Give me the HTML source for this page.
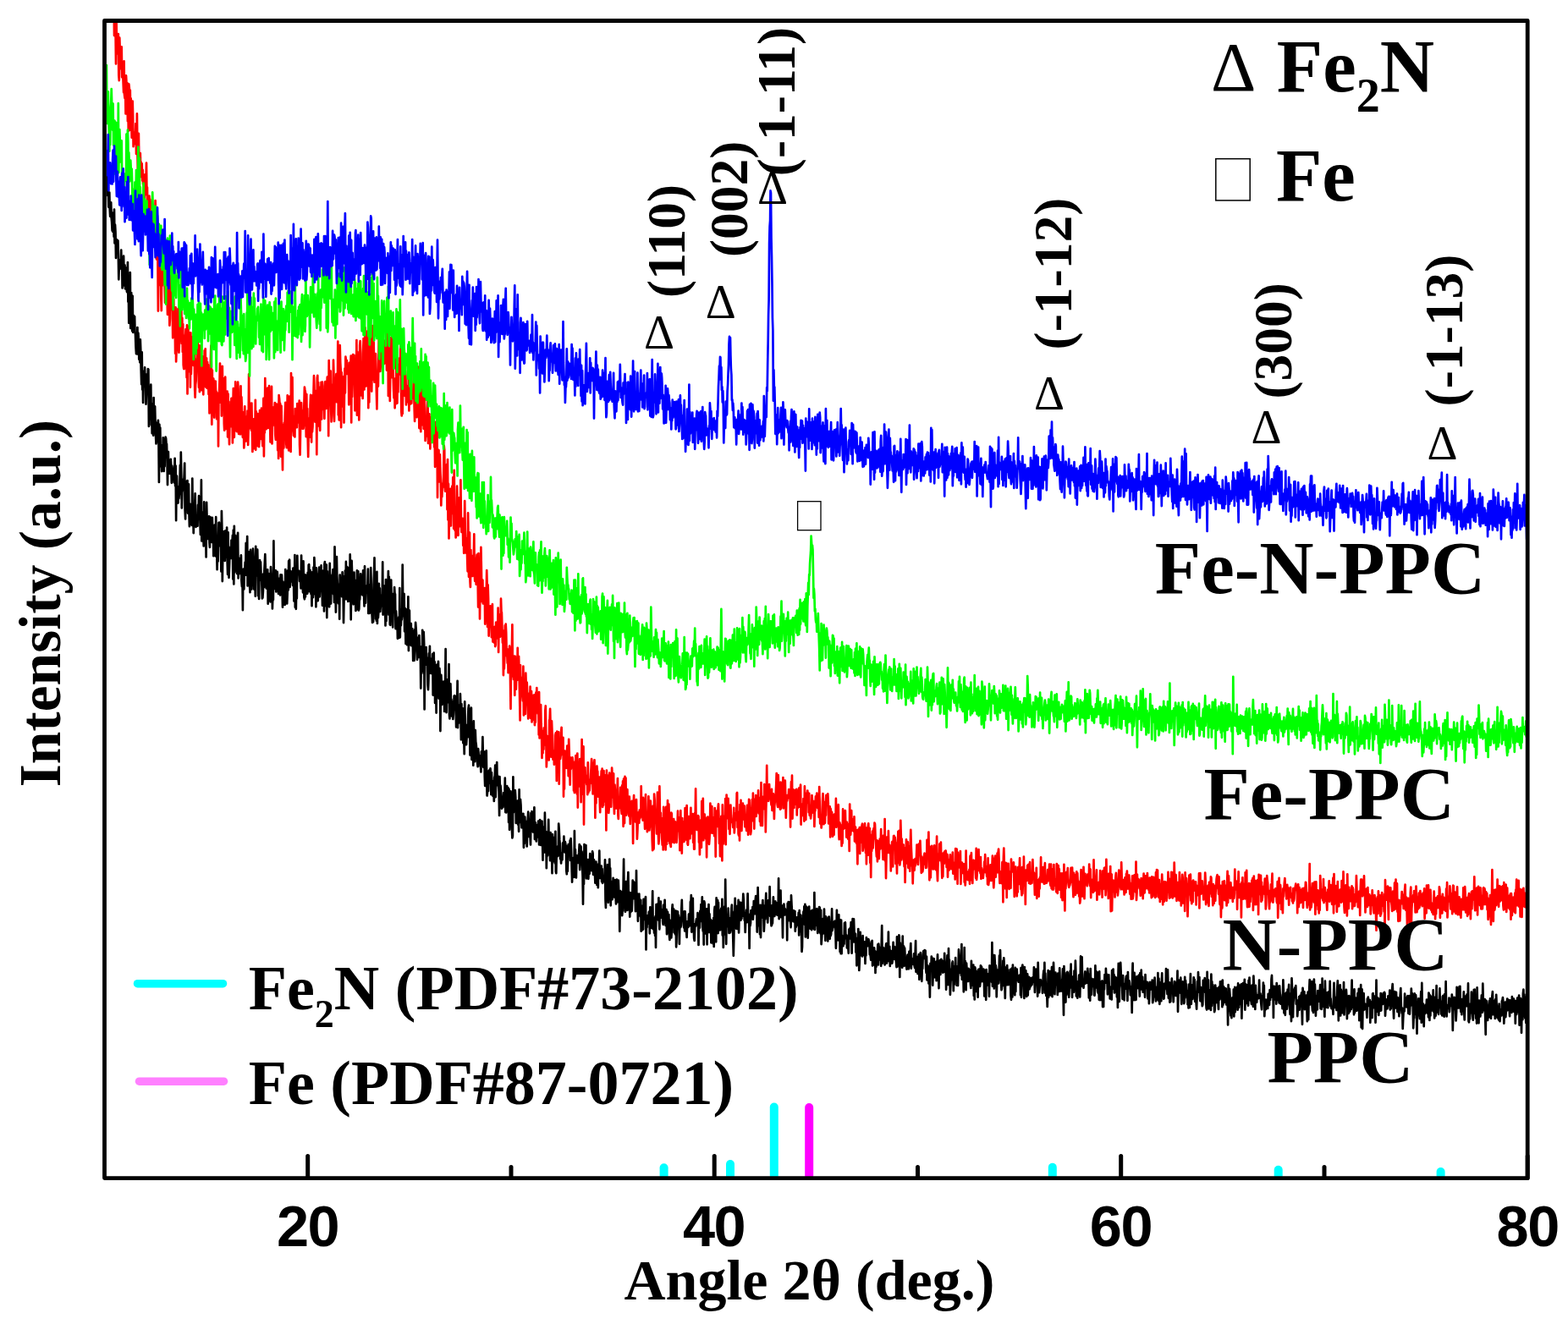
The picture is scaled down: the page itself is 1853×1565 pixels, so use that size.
<!DOCTYPE html>
<html><head><meta charset="utf-8"><title>XRD</title>
<style>
html,body{margin:0;padding:0;background:#fff;overflow:hidden;}
svg{display:block;}
.t{font-family:"Liberation Serif","Times New Roman",serif;font-weight:bold;fill:#000;}
.r{font-family:"Liberation Serif","Times New Roman",serif;font-weight:normal;fill:#000;}
.s{font-family:"Liberation Sans",Arial,sans-serif;font-weight:bold;fill:#000;}
</style></head><body>
<svg width="1853" height="1565" viewBox="0 0 1853 1565">
<rect x="0" y="0" width="1853" height="1565" fill="#fff"/>
<defs><clipPath id="c"><rect x="126" y="27" width="1677" height="1363"/></clipPath></defs>
<g clip-path="url(#c)" fill="none" stroke-width="2.7" stroke-linejoin="round" stroke-linecap="round">
<path stroke="#000000" d="M123.5 217.7L124.0 201.4 124.5 208.6 124.9 224.5 125.4 223.5 125.9 223.5 126.4 212.7 126.9 206.7 127.3 231.1 127.8 221.2 128.3 244.7 128.8 238.8 129.3 227.6 129.7 246.1 130.2 255.8 130.7 250.9 131.2 239.3 131.7 258.0 132.1 262.4 132.6 272.3 133.1 273.5 133.6 251.6 134.1 260.5 134.6 279.8 135.0 247.5 135.5 287.5 136.0 265.5 136.5 274.3 137.0 304.9 137.4 284.4 137.9 283.0 138.4 294.1 138.9 290.5 139.4 284.4 139.8 299.7 140.3 330.3 140.8 313.7 141.3 308.2 141.8 307.2 142.2 317.3 142.7 316.4 143.2 295.6 143.7 318.3 144.2 313.2 144.6 340.5 145.1 313.0 145.6 337.4 146.1 302.7 146.6 327.3 147.0 313.8 147.5 313.5 148.0 341.3 148.5 316.4 149.0 331.7 149.4 325.4 149.9 344.7 150.4 345.3 150.9 310.1 151.4 356.7 151.8 339.0 152.3 381.8 152.8 367.0 153.3 370.7 153.8 322.1 154.3 388.0 154.7 364.5 155.2 346.0 155.7 373.7 156.2 391.2 156.7 349.8 157.1 392.8 157.6 374.2 158.1 373.1 158.6 377.7 159.1 374.1 159.5 392.2 160.0 395.5 160.5 410.1 161.0 418.2 161.5 394.6 161.9 418.5 162.4 387.1 162.9 417.2 163.4 393.5 163.9 404.3 164.3 424.7 164.8 407.0 165.3 428.3 165.8 401.4 166.3 415.3 166.7 436.9 167.2 454.2 167.7 416.3 168.2 460.5 168.7 443.0 169.1 475.9 169.6 439.3 170.1 438.6 170.6 453.5 171.1 434.4 171.5 455.0 172.0 454.3 172.5 477.6 173.0 464.7 173.5 442.4 174.0 443.6 174.4 451.0 174.9 436.1 175.4 436.7 175.9 503.9 176.4 460.7 176.8 495.1 177.3 465.9 177.8 472.9 178.3 454.7 178.8 502.3 179.2 478.5 179.7 512.2 180.2 477.3 180.7 509.8 181.2 514.7 181.6 470.1 182.1 502.2 182.6 480.8 183.1 480.5 183.6 502.0 184.0 514.4 184.5 524.5 185.0 499.8 185.5 522.2 186.0 517.1 186.4 509.8 186.9 496.8 187.4 513.9 187.9 570.0 188.4 501.8 188.8 515.4 189.3 505.6 189.8 542.9 190.3 551.2 190.8 545.5 191.2 557.1 191.7 526.2 192.2 555.4 192.7 517.4 193.2 556.5 193.7 556.9 194.1 524.9 194.6 551.2 195.1 520.5 195.6 516.7 196.1 518.2 196.5 524.0 197.0 524.7 197.5 542.3 198.0 573.1 198.5 542.4 198.9 534.0 199.4 559.6 199.9 545.8 200.4 552.3 200.9 558.2 201.3 559.9 201.8 542.9 202.3 550.9 202.8 570.8 203.3 550.7 203.7 553.8 204.2 563.5 204.7 566.3 205.2 555.3 205.7 570.3 206.1 562.0 206.6 541.8 207.1 574.3 207.6 550.6 208.1 615.2 208.5 571.1 209.0 562.7 209.5 582.0 210.0 592.8 210.5 594.5 210.9 575.7 211.4 589.1 211.9 584.1 212.4 575.0 212.9 549.9 213.4 575.8 213.8 534.5 214.3 562.8 214.8 600.4 215.3 582.0 215.8 579.3 216.2 566.7 216.7 567.9 217.2 571.6 217.7 561.0 218.2 547.5 218.6 602.4 219.1 613.5 219.6 576.9 220.1 600.8 220.6 568.9 221.0 595.7 221.5 568.1 222.0 606.6 222.5 593.4 223.0 572.4 223.4 603.2 223.9 622.1 224.4 595.9 224.9 595.9 225.4 597.5 225.8 600.2 226.3 619.5 226.8 620.9 227.3 565.6 227.8 621.1 228.2 598.5 228.7 630.1 229.2 611.0 229.7 620.0 230.2 596.3 230.6 583.4 231.1 610.2 231.6 622.9 232.1 619.9 232.6 621.4 233.1 612.8 233.5 621.7 234.0 596.8 234.5 608.8 235.0 586.0 235.5 611.6 235.9 608.0 236.4 614.8 236.9 631.9 237.4 616.3 237.9 567.4 238.3 639.4 238.8 619.7 239.3 630.8 239.8 605.3 240.3 633.0 240.7 645.4 241.2 593.4 241.7 641.6 242.2 606.0 242.7 609.4 243.1 623.0 243.6 658.5 244.1 593.9 244.6 614.1 245.1 626.1 245.5 637.0 246.0 624.7 246.5 634.4 247.0 610.4 247.5 641.4 247.9 646.8 248.4 611.0 248.9 616.9 249.4 637.5 249.9 637.0 250.3 640.9 250.8 611.9 251.3 626.4 251.8 625.4 252.3 657.2 252.8 633.2 253.2 626.8 253.7 620.5 254.2 636.5 254.7 657.3 255.2 611.2 255.6 640.1 256.1 647.4 256.6 673.2 257.1 651.4 257.6 663.4 258.0 641.6 258.5 617.7 259.0 617.6 259.5 630.2 260.0 645.3 260.4 638.6 260.9 636.0 261.4 675.5 261.9 604.0 262.4 627.6 262.8 687.1 263.3 651.9 263.8 635.6 264.3 628.3 264.8 661.9 265.2 660.6 265.7 663.0 266.2 627.3 266.7 652.4 267.2 646.7 267.6 658.7 268.1 623.6 268.6 662.2 269.1 678.9 269.6 629.3 270.0 668.5 270.5 682.8 271.0 669.7 271.5 654.0 272.0 657.5 272.5 646.6 272.9 660.0 273.4 638.6 273.9 658.1 274.4 642.9 274.9 632.8 275.3 684.5 275.8 626.6 276.3 690.4 276.8 621.8 277.3 676.5 277.7 663.8 278.2 632.8 278.7 652.5 279.2 644.0 279.7 645.6 280.1 678.1 280.6 642.5 281.1 629.8 281.6 683.4 282.1 671.2 282.5 664.8 283.0 660.2 283.5 677.8 284.0 672.5 284.5 664.4 284.9 656.4 285.4 686.2 285.9 693.2 286.4 676.3 286.9 721.2 287.3 672.9 287.8 672.6 288.3 696.5 288.8 675.3 289.3 675.1 289.7 664.6 290.2 679.7 290.7 641.9 291.2 659.1 291.7 653.2 292.2 634.0 292.6 692.4 293.1 667.5 293.6 658.1 294.1 680.8 294.6 652.3 295.0 690.7 295.5 700.1 296.0 649.9 296.5 696.8 297.0 679.6 297.4 696.4 297.9 680.1 298.4 661.8 298.9 648.7 299.4 657.5 299.8 668.7 300.3 696.6 300.8 689.4 301.3 683.7 301.8 704.7 302.2 645.9 302.7 658.0 303.2 658.7 303.7 680.5 304.2 649.7 304.6 669.2 305.1 704.3 305.6 697.9 306.1 707.9 306.6 670.3 307.0 662.1 307.5 685.6 308.0 664.4 308.5 679.5 309.0 678.8 309.4 691.0 309.9 707.4 310.4 706.6 310.9 698.7 311.4 678.4 311.9 694.1 312.3 675.5 312.8 666.1 313.3 655.2 313.8 672.5 314.3 692.0 314.7 695.4 315.2 684.0 315.7 693.9 316.2 673.3 316.7 713.7 317.1 686.5 317.6 678.2 318.1 696.1 318.6 681.4 319.1 690.4 319.5 711.3 320.0 670.0 320.5 679.7 321.0 681.7 321.5 685.9 321.9 719.5 322.4 701.8 322.9 709.2 323.4 639.4 323.9 694.9 324.3 691.1 324.8 696.0 325.3 686.7 325.8 674.4 326.3 699.4 326.7 683.0 327.2 686.6 327.7 675.9 328.2 683.1 328.7 696.5 329.1 701.8 329.6 686.4 330.1 688.7 330.6 683.5 331.1 703.5 331.6 679.4 332.0 682.1 332.5 689.4 333.0 679.7 333.5 692.9 334.0 717.7 334.4 687.6 334.9 714.7 335.4 705.0 335.9 691.5 336.4 700.9 336.8 714.8 337.3 673.0 337.8 701.5 338.3 711.4 338.8 675.3 339.2 713.5 339.7 701.1 340.2 674.3 340.7 697.5 341.2 663.2 341.6 666.8 342.1 661.6 342.6 693.9 343.1 682.2 343.6 675.2 344.0 679.4 344.5 687.5 345.0 682.9 345.5 679.9 346.0 692.0 346.4 671.6 346.9 679.2 347.4 710.5 347.9 695.6 348.4 656.1 348.8 717.8 349.3 673.6 349.8 719.8 350.3 691.3 350.8 707.3 351.3 656.8 351.7 675.1 352.2 677.5 352.7 678.9 353.2 674.8 353.7 677.6 354.1 687.0 354.6 677.9 355.1 686.4 355.6 695.3 356.1 656.5 356.5 684.7 357.0 671.2 357.5 687.3 358.0 700.3 358.5 663.3 358.9 681.9 359.4 706.0 359.9 708.3 360.4 679.3 360.9 705.5 361.3 694.5 361.8 690.1 362.3 679.8 362.8 694.1 363.3 701.6 363.7 676.8 364.2 697.7 364.7 667.8 365.2 667.3 365.7 699.2 366.1 685.0 366.6 674.1 367.1 695.5 367.6 702.1 368.1 690.0 368.5 716.2 369.0 676.4 369.5 677.0 370.0 706.1 370.5 670.5 371.0 702.2 371.4 659.2 371.9 670.7 372.4 685.8 372.9 681.5 373.4 717.3 373.8 671.3 374.3 688.4 374.8 691.9 375.3 687.1 375.8 710.1 376.2 678.5 376.7 679.4 377.2 670.7 377.7 705.3 378.2 693.9 378.6 694.2 379.1 693.0 379.6 668.4 380.1 698.3 380.6 695.0 381.0 715.7 381.5 697.0 382.0 674.6 382.5 683.5 383.0 722.5 383.4 666.9 383.9 664.0 384.4 693.7 384.9 716.1 385.4 690.7 385.8 667.6 386.3 730.1 386.8 675.3 387.3 704.8 387.8 716.4 388.2 691.4 388.7 700.9 389.2 717.3 389.7 665.9 390.2 704.5 390.7 712.0 391.1 713.5 391.6 682.3 392.1 698.6 392.6 679.5 393.1 679.2 393.5 673.0 394.0 702.2 394.5 694.3 395.0 711.9 395.5 646.3 395.9 674.2 396.4 697.1 396.9 723.6 397.4 677.8 397.9 658.2 398.3 680.6 398.8 690.2 399.3 707.1 399.8 713.2 400.3 705.6 400.7 690.5 401.2 731.7 401.7 679.6 402.2 692.7 402.7 703.9 403.1 683.3 403.6 688.7 404.1 705.2 404.6 676.4 405.1 689.9 405.5 690.6 406.0 736.1 406.5 709.2 407.0 681.2 407.5 708.2 407.9 674.6 408.4 702.3 408.9 663.9 409.4 708.2 409.9 691.8 410.3 670.2 410.8 702.8 411.3 710.8 411.8 702.4 412.3 698.6 412.8 671.1 413.2 710.5 413.7 655.4 414.2 685.1 414.7 732.3 415.2 670.1 415.6 662.9 416.1 678.7 416.6 702.8 417.1 694.3 417.6 714.3 418.0 696.9 418.5 676.7 419.0 713.1 419.5 685.8 420.0 708.5 420.4 721.9 420.9 705.7 421.4 720.4 421.9 674.4 422.4 689.0 422.8 700.3 423.3 675.4 423.8 721.5 424.3 719.9 424.8 706.1 425.2 708.6 425.7 695.3 426.2 678.3 426.7 686.6 427.2 693.4 427.6 702.4 428.1 695.8 428.6 703.5 429.1 674.4 429.6 684.9 430.0 701.9 430.5 716.5 431.0 669.3 431.5 705.2 432.0 712.6 432.5 698.2 432.9 701.0 433.4 692.4 433.9 699.1 434.4 693.2 434.9 672.7 435.3 724.9 435.8 706.2 436.3 691.1 436.8 724.8 437.3 695.9 437.7 712.7 438.2 671.0 438.7 690.6 439.2 721.2 439.7 728.4 440.1 736.0 440.6 728.1 441.1 735.1 441.6 690.2 442.1 677.4 442.5 659.4 443.0 705.2 443.5 699.1 444.0 731.6 444.5 699.8 444.9 733.8 445.4 675.8 445.9 736.9 446.4 703.6 446.9 730.2 447.3 723.5 447.8 689.9 448.3 722.6 448.8 695.3 449.3 723.0 449.7 717.7 450.2 715.0 450.7 704.6 451.2 703.4 451.7 709.3 452.2 664.4 452.6 726.6 453.1 707.6 453.6 713.3 454.1 692.6 454.6 715.5 455.0 701.7 455.5 739.5 456.0 685.0 456.5 733.9 457.0 696.8 457.4 718.4 457.9 707.4 458.4 694.7 458.9 675.0 459.4 726.6 459.8 681.9 460.3 705.2 460.8 738.0 461.3 738.9 461.8 720.1 462.2 685.5 462.7 713.2 463.2 717.3 463.7 701.8 464.2 741.5 464.6 721.8 465.1 723.8 465.6 716.6 466.1 694.2 466.6 702.7 467.0 702.4 467.5 743.1 468.0 722.3 468.5 730.5 469.0 730.5 469.4 731.0 469.9 754.8 470.4 740.5 470.9 731.3 471.4 729.3 471.9 753.9 472.3 695.2 472.8 753.3 473.3 720.1 473.8 739.3 474.3 726.3 474.7 732.6 475.2 728.3 475.7 667.5 476.2 713.5 476.7 719.9 477.1 711.3 477.6 702.1 478.1 746.3 478.6 718.9 479.1 740.3 479.5 760.9 480.0 720.3 480.5 737.5 481.0 762.2 481.5 736.7 481.9 736.3 482.4 705.3 482.9 769.1 483.4 740.9 483.9 721.7 484.3 762.2 484.8 739.9 485.3 747.0 485.8 737.2 486.3 763.2 486.7 762.8 487.2 743.0 487.7 752.5 488.2 781.0 488.7 756.5 489.1 746.3 489.6 780.7 490.1 744.4 490.6 758.3 491.1 735.9 491.6 742.7 492.0 749.3 492.5 770.2 493.0 779.7 493.5 753.8 494.0 776.2 494.4 761.8 494.9 777.0 495.4 751.0 495.9 771.0 496.4 764.1 496.8 770.2 497.3 813.6 497.8 774.8 498.3 795.8 498.8 790.7 499.2 744.8 499.7 780.5 500.2 793.3 500.7 747.0 501.2 761.3 501.6 838.5 502.1 779.2 502.6 770.6 503.1 780.0 503.6 765.0 504.0 783.1 504.5 786.0 505.0 777.7 505.5 809.1 506.0 815.2 506.4 804.1 506.9 772.4 507.4 777.8 507.9 763.9 508.4 795.8 508.8 781.1 509.3 780.4 509.8 779.0 510.3 796.2 510.8 795.6 511.3 773.0 511.7 821.6 512.2 798.3 512.7 771.7 513.2 812.0 513.7 782.3 514.1 830.9 514.6 823.2 515.1 809.8 515.6 842.6 516.1 785.8 516.5 808.0 517.0 798.6 517.5 788.1 518.0 781.9 518.5 825.6 518.9 802.1 519.4 790.2 519.9 798.6 520.4 864.1 520.9 810.0 521.3 797.8 521.8 807.1 522.3 833.0 522.8 810.6 523.3 810.0 523.7 812.9 524.2 805.5 524.7 811.0 525.2 840.9 525.7 813.2 526.1 816.4 526.6 767.2 527.1 831.8 527.6 842.1 528.1 808.8 528.5 830.1 529.0 803.1 529.5 828.8 530.0 830.3 530.5 785.1 531.0 844.7 531.4 849.5 531.9 824.3 532.4 808.3 532.9 828.3 533.4 826.6 533.8 846.5 534.3 829.8 534.8 829.2 535.3 850.0 535.8 844.8 536.2 835.7 536.7 822.6 537.2 822.2 537.7 824.4 538.2 823.0 538.6 831.3 539.1 859.5 539.6 833.5 540.1 835.9 540.6 804.9 541.0 860.1 541.5 836.0 542.0 854.5 542.5 852.8 543.0 833.3 543.4 854.2 543.9 820.1 544.4 834.8 544.9 874.3 545.4 832.2 545.8 857.1 546.3 850.7 546.8 837.3 547.3 878.2 547.8 850.8 548.2 867.3 548.7 891.2 549.2 829.4 549.7 855.1 550.2 873.8 550.7 856.9 551.1 880.2 551.6 871.7 552.1 865.6 552.6 871.0 553.1 849.6 553.5 837.3 554.0 833.6 554.5 871.6 555.0 850.1 555.5 892.6 555.9 848.6 556.4 840.2 556.9 836.6 557.4 897.8 557.9 875.2 558.3 885.2 558.8 854.8 559.3 904.7 559.8 852.3 560.3 879.0 560.7 872.9 561.2 900.2 561.7 863.0 562.2 876.8 562.7 879.7 563.1 885.1 563.6 887.6 564.1 901.3 564.6 906.2 565.1 885.1 565.5 889.4 566.0 896.0 566.5 900.9 567.0 893.3 567.5 905.6 567.9 902.5 568.4 912.4 568.9 888.4 569.4 904.0 569.9 891.3 570.4 871.2 570.8 890.9 571.3 906.8 571.8 896.1 572.3 888.6 572.8 918.4 573.2 928.9 573.7 920.2 574.2 921.4 574.7 887.3 575.2 920.5 575.6 940.5 576.1 935.7 576.6 915.4 577.1 935.0 577.6 911.4 578.0 910.6 578.5 925.4 579.0 925.6 579.5 908.4 580.0 916.5 580.4 939.2 580.9 913.0 581.4 925.0 581.9 928.8 582.4 940.8 582.8 923.5 583.3 930.6 583.8 947.0 584.3 919.1 584.8 917.0 585.2 904.7 585.7 942.2 586.2 922.2 586.7 921.7 587.2 901.1 587.6 924.9 588.1 916.8 588.6 928.6 589.1 928.8 589.6 935.9 590.1 963.9 590.5 918.2 591.0 936.2 591.5 928.7 592.0 934.0 592.5 942.6 592.9 955.6 593.4 943.2 593.9 945.7 594.4 954.1 594.9 946.1 595.3 937.1 595.8 944.9 596.3 948.0 596.8 919.7 597.3 960.1 597.7 950.8 598.2 960.5 598.7 953.0 599.2 929.2 599.7 939.5 600.1 950.9 600.6 931.3 601.1 972.1 601.6 932.8 602.1 980.8 602.5 958.7 603.0 964.0 603.5 935.3 604.0 950.8 604.5 950.1 604.9 979.8 605.4 990.5 605.9 988.1 606.4 918.3 606.9 960.2 607.3 939.0 607.8 959.2 608.3 953.7 608.8 934.2 609.3 942.3 609.8 973.0 610.2 960.5 610.7 953.0 611.2 965.5 611.7 946.6 612.2 974.7 612.6 959.1 613.1 982.8 613.6 933.3 614.1 971.9 614.6 959.9 615.0 944.8 615.5 951.6 616.0 969.1 616.5 978.3 617.0 961.9 617.4 966.3 617.9 962.0 618.4 961.8 618.9 1001.8 619.4 982.8 619.8 997.1 620.3 965.6 620.8 979.1 621.3 970.9 621.8 990.4 622.2 978.1 622.7 1000.5 623.2 977.8 623.7 969.1 624.2 959.7 624.6 966.4 625.1 988.9 625.6 968.8 626.1 978.6 626.6 990.4 627.0 998.5 627.5 961.0 628.0 974.5 628.5 959.2 629.0 982.3 629.5 979.1 629.9 983.5 630.4 960.4 630.9 974.0 631.4 954.3 631.9 992.0 632.3 974.2 632.8 972.2 633.3 987.8 633.8 994.5 634.3 975.4 634.7 985.0 635.2 989.4 635.7 980.5 636.2 970.6 636.7 974.9 637.1 998.4 637.6 990.1 638.1 969.1 638.6 979.8 639.1 998.9 639.5 988.7 640.0 976.3 640.5 970.6 641.0 992.5 641.5 1016.7 641.9 987.9 642.4 977.5 642.9 977.4 643.4 1007.5 643.9 960.7 644.3 984.5 644.8 991.5 645.3 983.2 645.8 1026.2 646.3 997.3 646.7 996.7 647.2 1011.3 647.7 994.6 648.2 968.8 648.7 1000.0 649.2 988.9 649.6 987.9 650.1 1017.2 650.6 984.1 651.1 998.7 651.6 998.7 652.0 1003.8 652.5 1032.2 653.0 986.0 653.5 999.5 654.0 1018.1 654.4 1001.9 654.9 990.2 655.4 994.5 655.9 1020.4 656.4 982.8 656.8 1030.1 657.3 1032.1 657.8 1005.7 658.3 1010.6 658.8 1012.3 659.2 1000.3 659.7 1011.3 660.2 973.5 660.7 980.4 661.2 992.4 661.6 995.9 662.1 1015.2 662.6 1010.8 663.1 1020.4 663.6 1008.4 664.0 1009.0 664.5 1016.3 665.0 996.8 665.5 995.9 666.0 1000.6 666.4 988.7 666.9 1002.6 667.4 1007.3 667.9 995.1 668.4 998.2 668.9 1002.6 669.3 1029.4 669.8 1033.2 670.3 1000.3 670.8 1029.8 671.3 1012.5 671.7 998.0 672.2 1010.2 672.7 1003.3 673.2 1002.9 673.7 993.4 674.1 1017.0 674.6 991.2 675.1 1005.2 675.6 1023.7 676.1 1042.6 676.5 1014.0 677.0 1017.6 677.5 1027.7 678.0 1013.9 678.5 1036.8 678.9 982.2 679.4 1022.2 679.9 1004.2 680.4 1019.8 680.9 1037.5 681.3 1018.4 681.8 1011.4 682.3 1019.6 682.8 1011.6 683.3 1020.0 683.7 1012.8 684.2 1007.4 684.7 998.1 685.2 1028.1 685.7 1014.5 686.1 999.9 686.6 1001.1 687.1 1020.9 687.6 1006.7 688.1 1022.9 688.6 1036.9 689.0 1068.7 689.5 1026.2 690.0 1045.0 690.5 998.0 691.0 1012.0 691.4 1024.7 691.9 1028.9 692.4 999.0 692.9 1038.3 693.4 1031.3 693.8 1028.6 694.3 1030.5 694.8 1016.0 695.3 1038.8 695.8 1027.1 696.2 1019.2 696.7 1032.7 697.2 1009.1 697.7 1018.9 698.2 1019.0 698.6 1029.0 699.1 1020.6 699.6 1029.2 700.1 1006.4 700.6 1008.6 701.0 1033.8 701.5 1026.8 702.0 1016.4 702.5 1032.0 703.0 1033.2 703.4 1043.7 703.9 1035.5 704.4 1018.5 704.9 1031.0 705.4 1046.0 705.8 1039.5 706.3 1021.9 706.8 1049.2 707.3 1021.3 707.8 1029.3 708.3 1005.7 708.7 1034.1 709.2 1037.9 709.7 1030.4 710.2 1033.7 710.7 1023.6 711.1 1042.2 711.6 1027.2 712.1 1043.9 712.6 1042.1 713.1 1037.6 713.5 1041.7 714.0 1041.8 714.5 1035.7 715.0 1016.3 715.5 1063.0 715.9 1073.0 716.4 1044.3 716.9 1029.8 717.4 1044.9 717.9 1022.1 718.3 1050.5 718.8 1066.8 719.3 1050.6 719.8 1051.8 720.3 1015.6 720.7 1039.8 721.2 1026.3 721.7 1070.3 722.2 1044.7 722.7 1042.1 723.1 1055.0 723.6 1063.1 724.1 1057.4 724.6 1037.8 725.1 1054.3 725.5 1057.4 726.0 1045.5 726.5 1060.8 727.0 1040.0 727.5 1059.6 728.0 1068.4 728.4 1058.6 728.9 1039.6 729.4 1060.0 729.9 1066.1 730.4 1064.5 730.8 1040.7 731.3 1054.2 731.8 1056.3 732.3 1100.8 732.8 1066.4 733.2 1053.2 733.7 1074.2 734.2 1054.1 734.7 1057.7 735.2 1082.1 735.6 1077.5 736.1 1063.7 736.6 1048.3 737.1 1015.6 737.6 1061.7 738.0 1046.2 738.5 1076.3 739.0 1077.7 739.5 1042.3 740.0 1042.1 740.4 1055.3 740.9 1063.4 741.4 1075.9 741.9 1042.9 742.4 1031.0 742.8 1057.6 743.3 1054.7 743.8 1060.5 744.3 1083.6 744.8 1055.1 745.2 1078.1 745.7 1060.1 746.2 1070.8 746.7 1076.8 747.2 1062.7 747.7 1040.7 748.1 1049.8 748.6 1062.2 749.1 1042.6 749.6 1045.2 750.1 1057.7 750.5 1050.8 751.0 1077.1 751.5 1077.0 752.0 1029.0 752.5 1075.8 752.9 1056.4 753.4 1064.7 753.9 1088.8 754.4 1070.6 754.9 1064.9 755.3 1056.6 755.8 1071.8 756.3 1078.7 756.8 1083.0 757.3 1063.9 757.7 1100.7 758.2 1070.7 758.7 1099.5 759.2 1074.6 759.7 1098.8 760.1 1098.4 760.6 1062.8 761.1 1072.9 761.6 1073.1 762.1 1087.0 762.5 1063.6 763.0 1060.0 763.5 1122.5 764.0 1089.2 764.5 1096.2 764.9 1082.4 765.4 1085.1 765.9 1091.7 766.4 1085.4 766.9 1078.1 767.4 1077.4 767.8 1103.3 768.3 1072.3 768.8 1093.0 769.3 1084.8 769.8 1080.5 770.2 1096.8 770.7 1078.1 771.2 1053.3 771.7 1098.1 772.2 1088.1 772.6 1091.4 773.1 1102.7 773.6 1084.9 774.1 1105.9 774.6 1083.0 775.0 1120.0 775.5 1069.2 776.0 1086.9 776.5 1083.0 777.0 1068.6 777.4 1072.6 777.9 1087.4 778.4 1061.4 778.9 1086.9 779.4 1098.4 779.8 1070.6 780.3 1075.4 780.8 1065.6 781.3 1080.2 781.8 1084.6 782.2 1075.1 782.7 1076.5 783.2 1089.7 783.7 1092.9 784.2 1069.7 784.6 1079.8 785.1 1077.1 785.6 1063.8 786.1 1086.9 786.6 1094.0 787.1 1091.4 787.5 1075.0 788.0 1104.2 788.5 1100.4 789.0 1077.9 789.5 1083.4 789.9 1101.3 790.4 1081.2 790.9 1105.3 791.4 1111.0 791.9 1087.8 792.3 1089.7 792.8 1089.5 793.3 1108.4 793.8 1101.8 794.3 1074.3 794.7 1069.4 795.2 1080.1 795.7 1084.4 796.2 1074.6 796.7 1102.2 797.1 1090.7 797.6 1102.8 798.1 1104.2 798.6 1076.5 799.1 1119.3 799.5 1113.3 800.0 1086.8 800.5 1077.3 801.0 1077.8 801.5 1097.4 801.9 1081.9 802.4 1094.1 802.9 1115.8 803.4 1088.6 803.9 1084.7 804.3 1096.0 804.8 1094.3 805.3 1074.9 805.8 1063.9 806.3 1086.8 806.8 1083.5 807.2 1082.3 807.7 1090.1 808.2 1096.4 808.7 1077.3 809.2 1100.4 809.6 1077.4 810.1 1087.3 810.6 1092.8 811.1 1100.6 811.6 1107.9 812.0 1096.2 812.5 1089.2 813.0 1096.0 813.5 1095.7 814.0 1080.6 814.4 1090.1 814.9 1085.5 815.4 1094.2 815.9 1065.9 816.4 1069.5 816.8 1058.2 817.3 1101.6 817.8 1084.1 818.3 1089.8 818.8 1061.9 819.2 1097.9 819.7 1093.5 820.2 1109.3 820.7 1111.9 821.2 1096.0 821.6 1092.0 822.1 1094.9 822.6 1088.8 823.1 1086.1 823.6 1090.1 824.0 1093.2 824.5 1079.1 825.0 1085.5 825.5 1116.9 826.0 1082.7 826.5 1084.3 826.9 1096.6 827.4 1076.9 827.9 1084.5 828.4 1069.1 828.9 1088.9 829.3 1076.5 829.8 1060.3 830.3 1095.5 830.8 1100.6 831.3 1086.7 831.7 1116.6 832.2 1065.4 832.7 1067.6 833.2 1091.1 833.7 1103.5 834.1 1087.9 834.6 1083.7 835.1 1074.4 835.6 1116.3 836.1 1081.6 836.5 1099.1 837.0 1093.2 837.5 1069.2 838.0 1101.9 838.5 1080.4 838.9 1095.6 839.4 1097.3 839.9 1086.9 840.4 1114.3 840.9 1109.6 841.3 1088.5 841.8 1101.5 842.3 1107.6 842.8 1115.3 843.3 1085.0 843.7 1118.9 844.2 1076.3 844.7 1071.8 845.2 1098.5 845.7 1074.9 846.2 1113.3 846.6 1061.4 847.1 1088.4 847.6 1097.4 848.1 1064.0 848.6 1103.1 849.0 1066.9 849.5 1092.5 850.0 1090.7 850.5 1090.8 851.0 1099.4 851.4 1099.0 851.9 1075.3 852.4 1073.6 852.9 1088.2 853.4 1062.8 853.8 1105.6 854.3 1083.9 854.8 1120.0 855.3 1094.4 855.8 1077.4 856.2 1071.5 856.7 1104.3 857.2 1039.6 857.7 1079.5 858.2 1115.8 858.6 1084.7 859.1 1095.2 859.6 1085.3 860.1 1093.3 860.6 1073.6 861.0 1086.5 861.5 1102.9 862.0 1085.1 862.5 1087.0 863.0 1102.4 863.4 1100.0 863.9 1087.9 864.4 1073.6 864.9 1069.5 865.4 1087.9 865.9 1085.2 866.3 1109.4 866.8 1129.6 867.3 1108.1 867.8 1077.7 868.3 1080.6 868.7 1061.9 869.2 1088.4 869.7 1088.3 870.2 1097.8 870.7 1071.1 871.1 1088.6 871.6 1084.2 872.1 1098.1 872.6 1063.9 873.1 1102.5 873.5 1084.4 874.0 1083.1 874.5 1066.5 875.0 1080.7 875.5 1087.6 875.9 1079.7 876.4 1085.8 876.9 1066.9 877.4 1082.8 877.9 1069.9 878.3 1056.7 878.8 1063.3 879.3 1078.8 879.8 1087.9 880.3 1083.9 880.7 1101.9 881.2 1087.5 881.7 1083.7 882.2 1075.7 882.7 1090.2 883.1 1081.6 883.6 1056.3 884.1 1081.7 884.6 1082.2 885.1 1080.7 885.6 1120.9 886.0 1091.2 886.5 1094.3 887.0 1091.3 887.5 1076.0 888.0 1085.8 888.4 1086.0 888.9 1086.2 889.4 1072.0 889.9 1086.6 890.4 1077.4 890.8 1065.0 891.3 1067.3 891.8 1075.7 892.3 1080.2 892.8 1063.0 893.2 1059.2 893.7 1066.9 894.2 1073.1 894.7 1101.6 895.2 1087.0 895.6 1049.0 896.1 1072.7 896.6 1081.8 897.1 1094.3 897.6 1078.2 898.0 1104.3 898.5 1069.8 899.0 1108.1 899.5 1074.6 900.0 1078.4 900.4 1084.5 900.9 1072.0 901.4 1064.1 901.9 1085.0 902.4 1082.1 902.8 1100.6 903.3 1090.9 903.8 1070.4 904.3 1086.4 904.8 1067.4 905.3 1055.8 905.7 1074.6 906.2 1069.7 906.7 1067.9 907.2 1090.4 907.7 1076.4 908.1 1064.2 908.6 1070.0 909.1 1080.1 909.6 1048.2 910.1 1082.8 910.5 1079.4 911.0 1082.7 911.5 1094.3 912.0 1093.7 912.5 1070.1 912.9 1091.5 913.4 1079.1 913.9 1060.4 914.4 1076.1 914.9 1074.3 915.3 1083.0 915.8 1065.7 916.3 1065.4 916.8 1080.9 917.3 1067.0 917.7 1070.6 918.2 1067.6 918.7 1081.6 919.2 1079.7 919.7 1071.1 920.1 1038.3 920.6 1086.1 921.1 1064.4 921.6 1078.7 922.1 1070.3 922.5 1052.5 923.0 1084.1 923.5 1070.1 924.0 1076.0 924.5 1078.8 925.0 1108.3 925.4 1070.7 925.9 1073.3 926.4 1068.6 926.9 1073.6 927.4 1081.4 927.8 1074.3 928.3 1080.2 928.8 1077.6 929.3 1076.5 929.8 1075.9 930.2 1111.3 930.7 1067.9 931.2 1079.1 931.7 1066.1 932.2 1087.8 932.6 1088.0 933.1 1077.4 933.6 1066.3 934.1 1089.1 934.6 1096.2 935.0 1058.3 935.5 1069.4 936.0 1078.2 936.5 1079.5 937.0 1080.6 937.4 1089.2 937.9 1076.3 938.4 1080.1 938.9 1089.7 939.4 1077.0 939.8 1100.7 940.3 1084.0 940.8 1095.6 941.3 1086.7 941.8 1093.4 942.2 1084.3 942.7 1086.1 943.2 1090.3 943.7 1078.8 944.2 1105.5 944.7 1076.2 945.1 1101.2 945.6 1081.1 946.1 1097.6 946.6 1092.5 947.1 1102.6 947.5 1124.8 948.0 1119.4 948.5 1081.9 949.0 1088.4 949.5 1077.6 949.9 1090.2 950.4 1071.3 950.9 1092.8 951.4 1068.9 951.9 1107.4 952.3 1082.9 952.8 1071.6 953.3 1080.9 953.8 1089.1 954.3 1072.8 954.7 1108.7 955.2 1093.1 955.7 1080.5 956.2 1071.5 956.7 1090.6 957.1 1093.3 957.6 1097.7 958.1 1086.8 958.6 1076.9 959.1 1099.1 959.5 1086.8 960.0 1075.8 960.5 1088.7 961.0 1086.3 961.5 1082.9 961.9 1098.2 962.4 1055.1 962.9 1099.0 963.4 1083.7 963.9 1082.6 964.3 1084.4 964.8 1093.6 965.3 1074.0 965.8 1088.6 966.3 1102.9 966.8 1100.3 967.2 1076.8 967.7 1080.3 968.2 1072.0 968.7 1072.7 969.2 1102.0 969.6 1103.4 970.1 1075.8 970.6 1116.1 971.1 1109.4 971.6 1100.0 972.0 1087.2 972.5 1086.1 973.0 1103.4 973.5 1100.2 974.0 1074.6 974.4 1096.6 974.9 1096.6 975.4 1111.8 975.9 1083.4 976.4 1090.2 976.8 1092.3 977.3 1092.5 977.8 1087.5 978.3 1112.5 978.8 1084.4 979.2 1089.0 979.7 1083.5 980.2 1092.5 980.7 1109.6 981.2 1098.8 981.6 1106.2 982.1 1104.4 982.6 1094.8 983.1 1074.4 983.6 1100.0 984.0 1097.2 984.5 1094.8 985.0 1092.3 985.5 1095.5 986.0 1089.5 986.5 1088.7 986.9 1090.8 987.4 1101.9 987.9 1120.8 988.4 1107.4 988.9 1075.8 989.3 1101.9 989.8 1106.9 990.3 1111.1 990.8 1093.5 991.3 1081.3 991.7 1111.8 992.2 1095.8 992.7 1125.1 993.2 1087.4 993.7 1127.2 994.1 1087.5 994.6 1127.1 995.1 1105.8 995.6 1115.7 996.1 1111.3 996.5 1118.1 997.0 1108.9 997.5 1115.6 998.0 1091.1 998.5 1104.5 998.9 1090.3 999.4 1105.4 999.9 1109.2 1000.4 1105.4 1000.9 1120.4 1001.3 1117.7 1001.8 1115.4 1002.3 1119.8 1002.8 1126.6 1003.3 1098.5 1003.7 1103.9 1004.2 1109.5 1004.7 1096.9 1005.2 1102.9 1005.7 1090.0 1006.2 1094.5 1006.6 1126.7 1007.1 1106.7 1007.6 1086.2 1008.1 1113.3 1008.6 1105.6 1009.0 1086.3 1009.5 1101.1 1010.0 1107.2 1010.5 1113.9 1011.0 1103.8 1011.4 1125.6 1011.9 1108.9 1012.4 1141.3 1012.9 1124.6 1013.4 1131.4 1013.8 1129.3 1014.3 1098.1 1014.8 1129.6 1015.3 1147.0 1015.8 1136.1 1016.2 1119.0 1016.7 1101.9 1017.2 1129.2 1017.7 1109.5 1018.2 1118.9 1018.6 1127.2 1019.1 1130.5 1019.6 1106.1 1020.1 1128.6 1020.6 1123.3 1021.0 1113.6 1021.5 1113.4 1022.0 1122.3 1022.5 1139.0 1023.0 1113.2 1023.4 1129.5 1023.9 1108.1 1024.4 1112.1 1024.9 1118.4 1025.4 1117.5 1025.9 1117.5 1026.3 1110.0 1026.8 1111.8 1027.3 1114.5 1027.8 1128.1 1028.3 1124.4 1028.7 1129.9 1029.2 1134.7 1029.7 1119.8 1030.2 1112.7 1030.7 1111.9 1031.1 1141.4 1031.6 1132.4 1032.1 1140.5 1032.6 1136.3 1033.1 1120.4 1033.5 1128.7 1034.0 1124.1 1034.5 1150.0 1035.0 1130.0 1035.5 1142.8 1035.9 1124.8 1036.4 1139.8 1036.9 1127.0 1037.4 1116.3 1037.9 1140.5 1038.3 1115.7 1038.8 1121.1 1039.3 1134.3 1039.8 1129.8 1040.3 1120.0 1040.7 1125.9 1041.2 1141.8 1041.7 1116.8 1042.2 1094.1 1042.7 1138.8 1043.1 1119.5 1043.6 1122.2 1044.1 1135.7 1044.6 1120.8 1045.1 1123.6 1045.6 1140.5 1046.0 1134.6 1046.5 1126.1 1047.0 1116.6 1047.5 1115.2 1048.0 1138.5 1048.4 1134.4 1048.9 1115.6 1049.4 1130.6 1049.9 1101.6 1050.4 1135.9 1050.8 1131.3 1051.3 1118.9 1051.8 1141.9 1052.3 1132.8 1052.8 1124.1 1053.2 1124.1 1053.7 1124.8 1054.2 1138.7 1054.7 1136.3 1055.2 1123.3 1055.6 1113.8 1056.1 1126.2 1056.6 1133.7 1057.1 1119.1 1057.6 1119.7 1058.0 1127.3 1058.5 1133.3 1059.0 1137.5 1059.5 1143.1 1060.0 1107.3 1060.4 1142.7 1060.9 1134.7 1061.4 1123.5 1061.9 1140.5 1062.4 1105.4 1062.8 1107.6 1063.3 1155.0 1063.8 1114.5 1064.3 1133.6 1064.8 1117.3 1065.3 1125.2 1065.7 1118.4 1066.2 1143.7 1066.7 1106.5 1067.2 1131.2 1067.7 1118.9 1068.1 1118.5 1068.6 1141.6 1069.1 1120.5 1069.6 1130.5 1070.1 1137.9 1070.5 1133.2 1071.0 1140.4 1071.5 1145.6 1072.0 1135.9 1072.5 1128.9 1072.9 1132.3 1073.4 1128.0 1073.9 1145.3 1074.4 1124.8 1074.9 1137.9 1075.3 1141.8 1075.8 1125.2 1076.3 1115.0 1076.8 1144.6 1077.3 1135.5 1077.7 1133.2 1078.2 1134.4 1078.7 1136.9 1079.2 1139.7 1079.7 1133.8 1080.1 1127.4 1080.6 1141.5 1081.1 1144.1 1081.6 1127.7 1082.1 1112.1 1082.5 1148.7 1083.0 1146.8 1083.5 1145.8 1084.0 1131.0 1084.5 1150.9 1085.0 1142.3 1085.4 1133.1 1085.9 1128.1 1086.4 1157.8 1086.9 1139.6 1087.4 1137.5 1087.8 1126.2 1088.3 1147.3 1088.8 1135.6 1089.3 1159.8 1089.8 1140.7 1090.2 1144.9 1090.7 1128.7 1091.2 1124.3 1091.7 1127.7 1092.2 1133.0 1092.6 1123.2 1093.1 1126.1 1093.6 1123.5 1094.1 1144.8 1094.6 1149.8 1095.0 1130.5 1095.5 1158.4 1096.0 1145.6 1096.5 1141.4 1097.0 1144.2 1097.4 1162.4 1097.9 1149.6 1098.4 1155.2 1098.9 1178.6 1099.4 1138.9 1099.8 1139.5 1100.3 1147.9 1100.8 1130.5 1101.3 1134.5 1101.8 1132.6 1102.2 1164.6 1102.7 1149.4 1103.2 1137.8 1103.7 1133.0 1104.2 1152.1 1104.7 1155.2 1105.1 1139.1 1105.6 1155.5 1106.1 1136.8 1106.6 1159.1 1107.1 1150.9 1107.5 1141.5 1108.0 1128.3 1108.5 1145.9 1109.0 1151.1 1109.5 1168.1 1109.9 1139.9 1110.4 1143.7 1110.9 1135.2 1111.4 1151.8 1111.9 1143.0 1112.3 1133.9 1112.8 1142.2 1113.3 1142.7 1113.8 1135.8 1114.3 1149.7 1114.7 1138.9 1115.2 1140.6 1115.7 1146.1 1116.2 1126.8 1116.7 1148.9 1117.1 1142.4 1117.6 1137.6 1118.1 1169.7 1118.6 1152.7 1119.1 1137.9 1119.5 1129.4 1120.0 1138.7 1120.5 1163.9 1121.0 1121.2 1121.5 1153.1 1121.9 1134.6 1122.4 1150.9 1122.9 1175.7 1123.4 1162.6 1123.9 1153.0 1124.4 1145.5 1124.8 1158.1 1125.3 1138.3 1125.8 1136.5 1126.3 1149.9 1126.8 1171.2 1127.2 1152.9 1127.7 1163.7 1128.2 1142.2 1128.7 1151.1 1129.2 1132.1 1129.6 1151.8 1130.1 1142.1 1130.6 1164.7 1131.1 1158.2 1131.6 1157.6 1132.0 1165.0 1132.5 1145.6 1133.0 1122.3 1133.5 1128.7 1134.0 1150.0 1134.4 1134.3 1134.9 1140.4 1135.4 1142.3 1135.9 1152.9 1136.4 1116.2 1136.8 1157.7 1137.3 1156.9 1137.8 1148.9 1138.3 1148.4 1138.8 1172.3 1139.2 1150.7 1139.7 1120.0 1140.2 1166.0 1140.7 1136.1 1141.2 1150.9 1141.6 1170.2 1142.1 1138.6 1142.6 1146.9 1143.1 1158.7 1143.6 1148.3 1144.1 1159.9 1144.5 1144.8 1145.0 1145.7 1145.5 1150.5 1146.0 1149.6 1146.5 1156.7 1146.9 1163.0 1147.4 1167.9 1147.9 1135.9 1148.4 1147.5 1148.9 1152.6 1149.3 1164.7 1149.8 1162.9 1150.3 1140.5 1150.8 1177.0 1151.3 1150.8 1151.7 1181.5 1152.2 1143.3 1152.7 1146.0 1153.2 1172.0 1153.7 1148.0 1154.1 1154.4 1154.6 1167.5 1155.1 1160.5 1155.6 1178.7 1156.1 1146.1 1156.5 1156.6 1157.0 1145.6 1157.5 1163.2 1158.0 1165.9 1158.5 1160.6 1158.9 1141.3 1159.4 1160.5 1159.9 1142.5 1160.4 1145.6 1160.9 1149.2 1161.3 1156.0 1161.8 1160.1 1162.3 1145.5 1162.8 1151.6 1163.3 1177.5 1163.8 1152.5 1164.2 1159.3 1164.7 1146.5 1165.2 1181.8 1165.7 1146.2 1166.2 1152.3 1166.6 1151.0 1167.1 1151.3 1167.6 1164.4 1168.1 1151.1 1168.6 1162.1 1169.0 1177.7 1169.5 1141.3 1170.0 1149.0 1170.5 1142.6 1171.0 1154.8 1171.4 1148.0 1171.9 1160.6 1172.4 1114.2 1172.9 1165.7 1173.4 1146.1 1173.8 1157.0 1174.3 1129.2 1174.8 1168.4 1175.3 1129.0 1175.8 1137.8 1176.2 1156.2 1176.7 1141.2 1177.2 1144.5 1177.7 1178.3 1178.2 1158.9 1178.6 1148.7 1179.1 1146.5 1179.6 1162.3 1180.1 1162.3 1180.6 1149.5 1181.0 1129.5 1181.5 1145.0 1182.0 1123.1 1182.5 1140.4 1183.0 1159.9 1183.5 1170.2 1183.9 1168.6 1184.4 1160.2 1184.9 1165.3 1185.4 1135.6 1185.9 1161.0 1186.3 1132.3 1186.8 1141.7 1187.3 1156.3 1187.8 1179.9 1188.3 1147.7 1188.7 1143.5 1189.2 1162.0 1189.7 1164.2 1190.2 1141.2 1190.7 1157.3 1191.1 1146.4 1191.6 1164.2 1192.1 1160.7 1192.6 1157.4 1193.1 1154.5 1193.5 1161.2 1194.0 1145.8 1194.5 1176.7 1195.0 1181.6 1195.5 1167.5 1195.9 1144.4 1196.4 1178.5 1196.9 1140.6 1197.4 1166.5 1197.9 1167.2 1198.3 1160.8 1198.8 1170.1 1199.3 1176.2 1199.8 1143.9 1200.3 1172.1 1200.7 1149.9 1201.2 1158.3 1201.7 1145.6 1202.2 1154.0 1202.7 1158.7 1203.2 1153.0 1203.6 1160.7 1204.1 1154.7 1204.6 1154.8 1205.1 1156.2 1205.6 1152.2 1206.0 1176.2 1206.5 1144.2 1207.0 1178.8 1207.5 1154.4 1208.0 1143.5 1208.4 1140.7 1208.9 1152.2 1209.4 1157.2 1209.9 1162.8 1210.4 1180.0 1210.8 1143.0 1211.3 1167.4 1211.8 1168.2 1212.3 1147.3 1212.8 1164.7 1213.2 1177.9 1213.7 1173.6 1214.2 1151.4 1214.7 1176.4 1215.2 1161.5 1215.6 1157.4 1216.1 1154.9 1216.6 1169.1 1217.1 1159.6 1217.6 1166.4 1218.0 1156.1 1218.5 1158.5 1219.0 1164.4 1219.5 1164.0 1220.0 1155.6 1220.4 1159.9 1220.9 1155.0 1221.4 1161.0 1221.9 1143.3 1222.4 1152.6 1222.9 1172.9 1223.3 1162.7 1223.8 1159.9 1224.3 1145.7 1224.8 1161.5 1225.3 1157.0 1225.7 1153.7 1226.2 1177.6 1226.7 1137.8 1227.2 1161.9 1227.7 1173.1 1228.1 1173.1 1228.6 1167.0 1229.1 1162.8 1229.6 1158.1 1230.1 1164.2 1230.5 1160.5 1231.0 1159.7 1231.5 1161.2 1232.0 1173.8 1232.5 1160.5 1232.9 1152.2 1233.4 1147.3 1233.9 1163.4 1234.4 1137.9 1234.9 1173.6 1235.3 1150.5 1235.8 1165.6 1236.3 1177.0 1236.8 1168.5 1237.3 1178.3 1237.7 1189.9 1238.2 1171.2 1238.7 1147.1 1239.2 1178.8 1239.7 1166.3 1240.1 1175.5 1240.6 1174.2 1241.1 1148.2 1241.6 1176.3 1242.1 1149.9 1242.6 1157.5 1243.0 1143.2 1243.5 1178.1 1244.0 1157.9 1244.5 1164.9 1245.0 1137.9 1245.4 1149.9 1245.9 1169.0 1246.4 1175.2 1246.9 1159.0 1247.4 1149.6 1247.8 1158.1 1248.3 1161.2 1248.8 1164.1 1249.3 1158.9 1249.8 1175.9 1250.2 1150.6 1250.7 1166.9 1251.2 1164.4 1251.7 1171.9 1252.2 1144.3 1252.6 1158.0 1253.1 1164.4 1253.6 1171.5 1254.1 1162.8 1254.6 1171.4 1255.0 1160.5 1255.5 1156.5 1256.0 1145.3 1256.5 1172.8 1257.0 1199.8 1257.4 1142.0 1257.9 1156.2 1258.4 1149.8 1258.9 1163.8 1259.4 1184.6 1259.8 1156.8 1260.3 1175.9 1260.8 1162.5 1261.3 1148.9 1261.8 1149.8 1262.3 1173.9 1262.7 1157.9 1263.2 1178.6 1263.7 1166.6 1264.2 1165.9 1264.7 1147.9 1265.1 1157.3 1265.6 1139.7 1266.1 1167.7 1266.6 1159.9 1267.1 1178.8 1267.5 1154.5 1268.0 1164.8 1268.5 1155.8 1269.0 1172.7 1269.5 1147.5 1269.9 1162.3 1270.4 1156.6 1270.9 1135.6 1271.4 1151.0 1271.9 1177.4 1272.3 1174.5 1272.8 1160.2 1273.3 1179.7 1273.8 1167.3 1274.3 1170.5 1274.7 1162.0 1275.2 1152.7 1275.7 1160.8 1276.2 1178.5 1276.7 1158.9 1277.1 1130.4 1277.6 1166.2 1278.1 1155.9 1278.6 1131.3 1279.1 1158.5 1279.5 1158.4 1280.0 1161.1 1280.5 1167.7 1281.0 1158.2 1281.5 1163.0 1282.0 1151.5 1282.4 1148.3 1282.9 1162.4 1283.4 1155.9 1283.9 1154.8 1284.4 1151.3 1284.8 1161.8 1285.3 1144.9 1285.8 1153.2 1286.3 1151.4 1286.8 1179.5 1287.2 1167.3 1287.7 1163.5 1288.2 1182.7 1288.7 1145.1 1289.2 1166.8 1289.6 1175.8 1290.1 1160.3 1290.6 1157.2 1291.1 1157.4 1291.6 1166.0 1292.0 1165.0 1292.5 1157.6 1293.0 1176.0 1293.5 1176.6 1294.0 1170.4 1294.4 1141.4 1294.9 1163.5 1295.4 1160.6 1295.9 1148.5 1296.4 1167.7 1296.8 1149.4 1297.3 1172.1 1297.8 1173.8 1298.3 1161.4 1298.8 1181.6 1299.2 1148.3 1299.7 1182.1 1300.2 1165.6 1300.7 1160.8 1301.2 1160.5 1301.7 1181.9 1302.1 1163.8 1302.6 1159.4 1303.1 1190.1 1303.6 1165.1 1304.1 1190.0 1304.5 1161.4 1305.0 1169.4 1305.5 1152.1 1306.0 1154.1 1306.5 1161.6 1306.9 1144.9 1307.4 1156.8 1307.9 1151.7 1308.4 1157.4 1308.9 1175.3 1309.3 1160.7 1309.8 1159.0 1310.3 1152.3 1310.8 1168.8 1311.3 1166.1 1311.7 1180.5 1312.2 1168.6 1312.7 1174.2 1313.2 1167.1 1313.7 1181.5 1314.1 1147.1 1314.6 1168.6 1315.1 1152.3 1315.6 1145.7 1316.1 1162.1 1316.5 1152.2 1317.0 1173.4 1317.5 1166.2 1318.0 1154.8 1318.5 1155.1 1318.9 1172.4 1319.4 1165.4 1319.9 1178.5 1320.4 1156.0 1320.9 1191.0 1321.4 1156.1 1321.8 1138.8 1322.3 1165.8 1322.8 1183.8 1323.3 1155.8 1323.8 1148.8 1324.2 1137.8 1324.7 1150.4 1325.2 1161.4 1325.7 1164.2 1326.2 1168.2 1326.6 1180.8 1327.1 1153.1 1327.6 1173.7 1328.1 1162.9 1328.6 1182.3 1329.0 1168.2 1329.5 1169.2 1330.0 1168.9 1330.5 1156.7 1331.0 1153.8 1331.4 1164.7 1331.9 1153.1 1332.4 1182.8 1332.9 1149.0 1333.4 1167.6 1333.8 1168.1 1334.3 1159.2 1334.8 1161.2 1335.3 1167.5 1335.8 1176.1 1336.2 1167.3 1336.7 1169.6 1337.2 1166.2 1337.7 1196.9 1338.2 1151.9 1338.6 1138.7 1339.1 1182.2 1339.6 1180.2 1340.1 1169.9 1340.6 1149.9 1341.1 1182.1 1341.5 1176.2 1342.0 1174.6 1342.5 1181.7 1343.0 1159.9 1343.5 1154.0 1343.9 1168.3 1344.4 1165.2 1344.9 1158.9 1345.4 1167.8 1345.9 1152.6 1346.3 1165.1 1346.8 1177.6 1347.3 1150.2 1347.8 1156.8 1348.3 1155.0 1348.7 1146.7 1349.2 1169.5 1349.7 1164.6 1350.2 1154.8 1350.7 1172.6 1351.1 1159.9 1351.6 1168.0 1352.1 1160.7 1352.6 1170.4 1353.1 1178.7 1353.5 1152.0 1354.0 1167.8 1354.5 1163.1 1355.0 1160.7 1355.5 1165.2 1355.9 1160.8 1356.4 1180.3 1356.9 1164.9 1357.4 1164.3 1357.9 1186.1 1358.3 1175.0 1358.8 1160.9 1359.3 1163.7 1359.8 1169.6 1360.3 1164.6 1360.8 1161.0 1361.2 1166.1 1361.7 1158.5 1362.2 1185.2 1362.7 1182.3 1363.2 1159.0 1363.6 1178.1 1364.1 1164.3 1364.6 1155.5 1365.1 1166.9 1365.6 1177.3 1366.0 1183.3 1366.5 1167.2 1367.0 1167.8 1367.5 1178.1 1368.0 1181.2 1368.4 1150.2 1368.9 1182.6 1369.4 1156.5 1369.9 1181.5 1370.4 1186.8 1370.8 1170.4 1371.3 1161.3 1371.8 1166.1 1372.3 1183.1 1372.8 1160.5 1373.2 1150.4 1373.7 1175.5 1374.2 1170.0 1374.7 1162.8 1375.2 1180.7 1375.6 1179.9 1376.1 1171.2 1376.6 1168.2 1377.1 1161.9 1377.6 1168.5 1378.0 1145.0 1378.5 1153.8 1379.0 1162.1 1379.5 1174.9 1380.0 1146.4 1380.5 1166.5 1380.9 1179.8 1381.4 1170.5 1381.9 1161.3 1382.4 1184.7 1382.9 1182.1 1383.3 1184.0 1383.8 1169.9 1384.3 1165.1 1384.8 1156.7 1385.3 1166.1 1385.7 1168.0 1386.2 1171.4 1386.7 1184.3 1387.2 1173.8 1387.7 1172.6 1388.1 1160.0 1388.6 1161.3 1389.1 1170.3 1389.6 1176.9 1390.1 1176.9 1390.5 1168.2 1391.0 1168.3 1391.5 1147.7 1392.0 1195.8 1392.5 1170.8 1392.9 1158.3 1393.4 1158.9 1393.9 1172.1 1394.4 1165.3 1394.9 1173.7 1395.3 1155.7 1395.8 1170.8 1396.3 1186.8 1396.8 1165.5 1397.3 1161.2 1397.7 1160.5 1398.2 1163.3 1398.7 1169.0 1399.2 1186.1 1399.7 1184.6 1400.2 1154.9 1400.6 1170.2 1401.1 1159.1 1401.6 1170.2 1402.1 1163.5 1402.6 1179.5 1403.0 1171.2 1403.5 1187.1 1404.0 1175.4 1404.5 1191.5 1405.0 1174.5 1405.4 1163.4 1405.9 1191.0 1406.4 1171.1 1406.9 1151.1 1407.4 1178.4 1407.8 1186.7 1408.3 1164.2 1408.8 1170.7 1409.3 1181.0 1409.8 1174.0 1410.2 1173.8 1410.7 1155.3 1411.2 1160.6 1411.7 1157.8 1412.2 1183.8 1412.6 1176.7 1413.1 1172.4 1413.6 1185.3 1414.1 1192.6 1414.6 1176.1 1415.0 1160.2 1415.5 1172.1 1416.0 1149.2 1416.5 1166.3 1417.0 1172.9 1417.4 1155.1 1417.9 1176.4 1418.4 1183.2 1418.9 1166.8 1419.4 1167.4 1419.9 1183.7 1420.3 1179.8 1420.8 1189.1 1421.3 1187.6 1421.8 1158.9 1422.3 1167.1 1422.7 1162.1 1423.2 1171.2 1423.7 1156.2 1424.2 1172.9 1424.7 1171.2 1425.1 1182.2 1425.6 1191.7 1426.1 1193.5 1426.6 1148.9 1427.1 1177.4 1427.5 1174.9 1428.0 1158.4 1428.5 1192.3 1429.0 1170.0 1429.5 1181.8 1429.9 1187.1 1430.4 1172.6 1430.9 1193.9 1431.4 1151.7 1431.9 1188.9 1432.3 1160.3 1432.8 1185.2 1433.3 1164.0 1433.8 1171.3 1434.3 1184.6 1434.7 1185.5 1435.2 1196.1 1435.7 1193.5 1436.2 1164.7 1436.7 1172.2 1437.1 1185.2 1437.6 1177.7 1438.1 1168.0 1438.6 1178.0 1439.1 1184.6 1439.6 1186.1 1440.0 1193.0 1440.5 1166.8 1441.0 1175.4 1441.5 1181.3 1442.0 1160.3 1442.4 1168.9 1442.9 1171.6 1443.4 1162.3 1443.9 1159.8 1444.4 1190.2 1444.8 1158.7 1445.3 1187.8 1445.8 1183.4 1446.3 1166.5 1446.8 1184.7 1447.2 1168.0 1447.7 1171.8 1448.2 1169.7 1448.7 1168.4 1449.2 1187.5 1449.6 1178.0 1450.1 1182.9 1450.6 1179.5 1451.1 1211.5 1451.6 1164.2 1452.0 1182.5 1452.5 1194.7 1453.0 1168.9 1453.5 1176.3 1454.0 1195.4 1454.4 1200.5 1454.9 1194.2 1455.4 1203.1 1455.9 1182.3 1456.4 1179.3 1456.8 1191.2 1457.3 1197.2 1457.8 1169.5 1458.3 1201.5 1458.8 1180.9 1459.3 1166.8 1459.7 1196.2 1460.2 1175.5 1460.7 1168.1 1461.2 1187.3 1461.7 1172.0 1462.1 1166.6 1462.6 1193.7 1463.1 1162.4 1463.6 1177.4 1464.1 1190.9 1464.5 1182.5 1465.0 1164.7 1465.5 1171.4 1466.0 1169.7 1466.5 1187.0 1466.9 1163.4 1467.4 1203.7 1467.9 1173.7 1468.4 1175.9 1468.9 1162.1 1469.3 1180.3 1469.8 1172.0 1470.3 1170.3 1470.8 1157.8 1471.3 1193.6 1471.7 1177.9 1472.2 1163.3 1472.7 1169.5 1473.2 1186.0 1473.7 1176.1 1474.1 1182.0 1474.6 1164.1 1475.1 1188.6 1475.6 1158.8 1476.1 1175.5 1476.5 1155.6 1477.0 1181.5 1477.5 1182.2 1478.0 1176.6 1478.5 1182.9 1479.0 1186.9 1479.4 1164.6 1479.9 1172.0 1480.4 1165.5 1480.9 1189.8 1481.4 1153.7 1481.8 1163.4 1482.3 1168.3 1482.8 1171.7 1483.3 1192.9 1483.8 1164.9 1484.2 1174.0 1484.7 1177.4 1485.2 1184.7 1485.7 1176.2 1486.2 1179.8 1486.6 1177.6 1487.1 1180.2 1487.6 1179.2 1488.1 1158.5 1488.6 1179.7 1489.0 1175.6 1489.5 1174.5 1490.0 1183.2 1490.5 1188.3 1491.0 1193.1 1491.4 1180.0 1491.9 1177.0 1492.4 1180.5 1492.9 1161.6 1493.4 1173.6 1493.8 1164.8 1494.3 1201.2 1494.8 1188.3 1495.3 1181.6 1495.8 1193.3 1496.2 1192.3 1496.7 1181.8 1497.2 1189.9 1497.7 1182.6 1498.2 1192.0 1498.7 1174.8 1499.1 1179.7 1499.6 1182.7 1500.1 1187.8 1500.6 1170.2 1501.1 1181.9 1501.5 1169.9 1502.0 1178.9 1502.5 1157.4 1503.0 1152.9 1503.5 1172.6 1503.9 1178.3 1504.4 1165.6 1504.9 1203.0 1505.4 1165.9 1505.9 1165.9 1506.3 1176.9 1506.8 1171.5 1507.3 1181.5 1507.8 1166.2 1508.3 1186.6 1508.7 1162.1 1509.2 1169.4 1509.7 1174.3 1510.2 1165.9 1510.7 1182.3 1511.1 1177.8 1511.6 1185.3 1512.1 1165.3 1512.6 1174.1 1513.1 1176.2 1513.5 1186.7 1514.0 1179.0 1514.5 1183.7 1515.0 1184.6 1515.5 1192.1 1515.9 1180.7 1516.4 1158.4 1516.9 1172.9 1517.4 1197.3 1517.9 1174.4 1518.4 1186.1 1518.8 1199.8 1519.3 1176.0 1519.8 1177.3 1520.3 1173.1 1520.8 1192.7 1521.2 1180.2 1521.7 1169.6 1522.2 1173.6 1522.7 1171.3 1523.2 1163.8 1523.6 1187.1 1524.1 1191.5 1524.6 1199.0 1525.1 1174.3 1525.6 1190.8 1526.0 1207.1 1526.5 1156.3 1527.0 1167.8 1527.5 1169.0 1528.0 1202.2 1528.4 1185.1 1528.9 1179.9 1529.4 1177.2 1529.9 1173.4 1530.4 1167.4 1530.8 1176.1 1531.3 1165.2 1531.8 1186.8 1532.3 1181.8 1532.8 1183.4 1533.2 1201.2 1533.7 1193.3 1534.2 1188.5 1534.7 1187.7 1535.2 1178.2 1535.6 1193.7 1536.1 1184.3 1536.6 1176.9 1537.1 1180.0 1537.6 1184.6 1538.0 1173.7 1538.5 1190.7 1539.0 1210.8 1539.5 1167.9 1540.0 1173.5 1540.5 1177.9 1540.9 1182.1 1541.4 1172.4 1541.9 1193.1 1542.4 1178.8 1542.9 1192.3 1543.3 1189.6 1543.8 1176.6 1544.3 1186.6 1544.8 1207.2 1545.3 1176.6 1545.7 1172.5 1546.2 1205.1 1546.7 1178.6 1547.2 1170.0 1547.7 1158.2 1548.1 1187.4 1548.6 1183.4 1549.1 1160.9 1549.6 1183.0 1550.1 1160.1 1550.5 1187.7 1551.0 1194.7 1551.5 1182.1 1552.0 1197.0 1552.5 1161.8 1552.9 1157.6 1553.4 1191.6 1553.9 1163.6 1554.4 1178.7 1554.9 1200.6 1555.3 1188.0 1555.8 1178.0 1556.3 1178.4 1556.8 1193.3 1557.3 1171.1 1557.7 1184.2 1558.2 1182.3 1558.7 1183.6 1559.2 1178.4 1559.7 1172.0 1560.2 1164.2 1560.6 1192.2 1561.1 1177.3 1561.6 1192.8 1562.1 1187.5 1562.6 1156.5 1563.0 1187.5 1563.5 1177.6 1564.0 1189.8 1564.5 1169.6 1565.0 1190.6 1565.4 1201.7 1565.9 1159.6 1566.4 1179.0 1566.9 1183.1 1567.4 1190.6 1567.8 1190.3 1568.3 1173.4 1568.8 1183.2 1569.3 1191.2 1569.8 1172.6 1570.2 1182.3 1570.7 1178.5 1571.2 1181.6 1571.7 1159.8 1572.2 1189.1 1572.6 1180.3 1573.1 1190.5 1573.6 1192.1 1574.1 1190.9 1574.6 1191.3 1575.0 1191.6 1575.5 1198.8 1576.0 1177.6 1576.5 1161.9 1577.0 1181.8 1577.4 1183.1 1577.9 1190.8 1578.4 1185.5 1578.9 1178.9 1579.4 1193.9 1579.9 1180.4 1580.3 1167.3 1580.8 1159.3 1581.3 1175.8 1581.8 1206.3 1582.3 1181.9 1582.7 1176.6 1583.2 1183.5 1583.7 1164.3 1584.2 1200.5 1584.7 1169.5 1585.1 1171.0 1585.6 1177.1 1586.1 1197.3 1586.6 1194.5 1587.1 1190.0 1587.5 1188.6 1588.0 1161.2 1588.5 1199.4 1589.0 1187.7 1589.5 1177.1 1589.9 1171.5 1590.4 1188.6 1590.9 1169.8 1591.4 1178.4 1591.9 1204.1 1592.3 1177.3 1592.8 1185.4 1593.3 1181.9 1593.8 1197.8 1594.3 1177.0 1594.7 1194.2 1595.2 1195.7 1595.7 1190.2 1596.2 1180.8 1596.7 1193.0 1597.1 1175.2 1597.6 1158.7 1598.1 1190.6 1598.6 1173.6 1599.1 1183.2 1599.6 1186.6 1600.0 1199.3 1600.5 1169.4 1601.0 1197.1 1601.5 1187.6 1602.0 1179.5 1602.4 1180.5 1602.9 1184.4 1603.4 1194.6 1603.9 1188.3 1604.4 1174.0 1604.8 1173.9 1605.3 1183.6 1605.8 1168.9 1606.3 1206.2 1606.8 1203.5 1607.2 1182.4 1607.7 1192.1 1608.2 1164.1 1608.7 1214.5 1609.2 1171.6 1609.6 1169.4 1610.1 1216.1 1610.6 1181.1 1611.1 1194.2 1611.6 1174.2 1612.0 1185.9 1612.5 1193.3 1613.0 1191.0 1613.5 1186.8 1614.0 1187.1 1614.4 1189.0 1614.9 1193.1 1615.4 1202.8 1615.9 1180.6 1616.4 1183.2 1616.8 1178.7 1617.3 1182.9 1617.8 1183.5 1618.3 1189.4 1618.8 1182.0 1619.3 1208.6 1619.7 1193.4 1620.2 1190.5 1620.7 1195.2 1621.2 1184.2 1621.7 1203.0 1622.1 1174.8 1622.6 1174.1 1623.1 1191.2 1623.6 1187.9 1624.1 1182.5 1624.5 1177.6 1625.0 1178.9 1625.5 1208.7 1626.0 1194.2 1626.5 1158.5 1626.9 1193.0 1627.4 1195.7 1627.9 1195.8 1628.4 1179.5 1628.9 1190.4 1629.3 1199.9 1629.8 1188.3 1630.3 1180.8 1630.8 1184.9 1631.3 1194.7 1631.7 1174.1 1632.2 1194.5 1632.7 1176.2 1633.2 1186.3 1633.7 1179.8 1634.1 1186.9 1634.6 1174.1 1635.1 1180.6 1635.6 1185.1 1636.1 1172.9 1636.5 1174.1 1637.0 1200.6 1637.5 1191.5 1638.0 1185.7 1638.5 1187.2 1639.0 1181.4 1639.4 1192.4 1639.9 1189.0 1640.4 1177.3 1640.9 1183.7 1641.4 1185.9 1641.8 1187.9 1642.3 1170.7 1642.8 1193.4 1643.3 1184.2 1643.8 1192.1 1644.2 1180.9 1644.7 1172.0 1645.2 1168.6 1645.7 1163.2 1646.2 1176.4 1646.6 1190.4 1647.1 1203.7 1647.6 1184.3 1648.1 1172.1 1648.6 1188.1 1649.0 1184.7 1649.5 1191.4 1650.0 1172.9 1650.5 1188.1 1651.0 1178.8 1651.4 1196.0 1651.9 1179.4 1652.4 1189.2 1652.9 1190.8 1653.4 1201.1 1653.8 1183.3 1654.3 1181.6 1654.8 1175.0 1655.3 1168.0 1655.8 1189.0 1656.2 1193.6 1656.7 1197.5 1657.2 1191.5 1657.7 1216.0 1658.2 1203.7 1658.7 1194.7 1659.1 1192.9 1659.6 1195.5 1660.1 1174.6 1660.6 1190.1 1661.1 1183.1 1661.5 1185.3 1662.0 1186.5 1662.5 1190.3 1663.0 1178.4 1663.5 1177.2 1663.9 1177.8 1664.4 1197.9 1664.9 1183.0 1665.4 1177.0 1665.9 1198.6 1666.3 1190.1 1666.8 1188.5 1667.3 1188.5 1667.8 1168.6 1668.3 1178.5 1668.7 1174.0 1669.2 1176.4 1669.7 1189.4 1670.2 1215.3 1670.7 1201.2 1671.1 1203.4 1671.6 1174.4 1672.1 1198.9 1672.6 1187.6 1673.1 1176.2 1673.5 1180.3 1674.0 1195.4 1674.5 1221.7 1675.0 1187.3 1675.5 1186.2 1675.9 1199.1 1676.4 1180.4 1676.9 1198.2 1677.4 1200.0 1677.9 1204.2 1678.4 1189.2 1678.8 1183.7 1679.3 1172.1 1679.8 1208.7 1680.3 1161.9 1680.8 1191.4 1681.2 1191.4 1681.7 1186.4 1682.2 1201.3 1682.7 1213.2 1683.2 1189.3 1683.6 1197.9 1684.1 1198.1 1684.6 1187.6 1685.1 1190.7 1685.6 1191.1 1686.0 1181.5 1686.5 1196.7 1687.0 1197.7 1687.5 1186.9 1688.0 1202.3 1688.4 1173.5 1688.9 1174.9 1689.4 1206.0 1689.9 1176.3 1690.4 1200.5 1690.8 1177.7 1691.3 1195.2 1691.8 1191.8 1692.3 1186.3 1692.8 1188.9 1693.2 1186.1 1693.7 1170.4 1694.2 1195.6 1694.7 1178.5 1695.2 1203.4 1695.6 1198.7 1696.1 1178.6 1696.6 1200.7 1697.1 1187.8 1697.6 1165.2 1698.1 1196.5 1698.5 1184.2 1699.0 1182.1 1699.5 1193.0 1700.0 1198.9 1700.5 1187.7 1700.9 1190.6 1701.4 1168.4 1701.9 1187.2 1702.4 1183.5 1702.9 1186.8 1703.3 1198.7 1703.8 1194.9 1704.3 1200.5 1704.8 1178.0 1705.3 1177.0 1705.7 1196.3 1706.2 1181.0 1706.7 1201.6 1707.2 1175.2 1707.7 1192.2 1708.1 1191.3 1708.6 1160.2 1709.1 1189.4 1709.6 1201.5 1710.1 1190.5 1710.5 1192.1 1711.0 1192.0 1711.5 1187.8 1712.0 1190.9 1712.5 1179.5 1712.9 1196.2 1713.4 1189.9 1713.9 1182.7 1714.4 1180.8 1714.9 1187.2 1715.3 1189.0 1715.8 1175.5 1716.3 1182.5 1716.8 1217.9 1717.3 1195.4 1717.8 1183.4 1718.2 1181.9 1718.7 1178.8 1719.2 1185.5 1719.7 1190.2 1720.2 1194.7 1720.6 1206.4 1721.1 1196.7 1721.6 1166.8 1722.1 1172.3 1722.6 1168.7 1723.0 1182.8 1723.5 1191.5 1724.0 1190.1 1724.5 1166.3 1725.0 1191.3 1725.4 1165.8 1725.9 1189.9 1726.4 1195.9 1726.9 1191.9 1727.4 1199.1 1727.8 1181.1 1728.3 1183.4 1728.8 1183.5 1729.3 1187.8 1729.8 1172.3 1730.2 1195.6 1730.7 1205.4 1731.2 1190.7 1731.7 1180.0 1732.2 1186.8 1732.6 1177.2 1733.1 1189.2 1733.6 1175.4 1734.1 1186.8 1734.6 1186.3 1735.0 1162.4 1735.5 1207.2 1736.0 1208.3 1736.5 1186.5 1737.0 1204.4 1737.5 1193.3 1737.9 1196.4 1738.4 1197.2 1738.9 1172.6 1739.4 1195.1 1739.9 1189.9 1740.3 1201.0 1740.8 1205.6 1741.3 1184.0 1741.8 1169.9 1742.3 1185.7 1742.7 1169.6 1743.2 1198.1 1743.7 1186.6 1744.2 1203.7 1744.7 1185.5 1745.1 1209.6 1745.6 1167.3 1746.1 1193.9 1746.6 1182.6 1747.1 1187.8 1747.5 1209.3 1748.0 1182.6 1748.5 1191.1 1749.0 1190.3 1749.5 1201.4 1749.9 1184.5 1750.4 1183.9 1750.9 1176.3 1751.4 1195.5 1751.9 1196.6 1752.3 1162.6 1752.8 1183.8 1753.3 1194.2 1753.8 1186.4 1754.3 1188.0 1754.7 1181.0 1755.2 1200.5 1755.7 1222.8 1756.2 1182.6 1756.7 1183.1 1757.2 1187.6 1757.6 1201.4 1758.1 1206.0 1758.6 1194.0 1759.1 1192.5 1759.6 1202.4 1760.0 1183.1 1760.5 1198.0 1761.0 1180.3 1761.5 1188.6 1762.0 1203.8 1762.4 1183.2 1762.9 1185.9 1763.4 1177.1 1763.9 1172.2 1764.4 1199.1 1764.8 1182.8 1765.3 1196.4 1765.8 1187.4 1766.3 1183.9 1766.8 1203.9 1767.2 1181.3 1767.7 1196.6 1768.2 1175.8 1768.7 1189.1 1769.2 1192.3 1769.6 1203.1 1770.1 1190.0 1770.6 1191.9 1771.1 1205.5 1771.6 1186.5 1772.0 1202.7 1772.5 1207.2 1773.0 1198.0 1773.5 1194.8 1774.0 1193.2 1774.4 1200.4 1774.9 1183.3 1775.4 1182.8 1775.9 1179.2 1776.4 1183.7 1776.9 1186.6 1777.3 1209.7 1777.8 1196.9 1778.3 1196.2 1778.8 1184.6 1779.3 1202.1 1779.7 1197.1 1780.2 1192.9 1780.7 1186.7 1781.2 1180.6 1781.7 1194.1 1782.1 1190.9 1782.6 1181.8 1783.1 1191.7 1783.6 1189.8 1784.1 1201.2 1784.5 1182.3 1785.0 1185.8 1785.5 1184.3 1786.0 1196.3 1786.5 1196.7 1786.9 1178.0 1787.4 1189.7 1787.9 1187.8 1788.4 1195.0 1788.9 1180.7 1789.3 1195.9 1789.8 1195.8 1790.3 1183.0 1790.8 1209.6 1791.3 1183.1 1791.7 1190.9 1792.2 1199.1 1792.7 1196.6 1793.2 1179.5 1793.7 1192.9 1794.1 1179.5 1794.6 1189.4 1795.1 1176.5 1795.6 1211.7 1796.1 1209.2 1796.6 1195.7 1797.0 1180.2 1797.5 1184.7 1798.0 1220.8 1798.5 1188.4 1799.0 1185.9 1799.4 1205.2 1799.9 1174.1 1800.4 1169.7 1800.9 1198.9 1801.4 1175.5 1801.8 1196.5 1802.3 1203.3 1802.8 1189.0 1803.3 1208.8 1803.8 1184.7 1804.2 1177.7 1804.7 1190.3 1805.2 1192.5"/>
<path stroke="#ff0000" d="M123.5 -89.0L124.0 -101.5 124.5 -71.9 124.9 -76.3 125.4 -102.3 125.9 -44.6 126.4 -60.6 126.9 -40.4 127.3 -10.3 127.8 -36.5 128.3 -58.4 128.8 -45.5 129.3 -6.4 129.7 -51.5 130.2 -12.2 130.7 -5.4 131.2 -31.8 131.7 -0.8 132.1 11.2 132.6 -11.7 133.1 -1.8 133.6 22.8 134.1 -10.8 134.6 1.3 135.0 42.1 135.5 27.9 136.0 0.6 136.5 32.9 137.0 75.4 137.4 8.1 137.9 58.7 138.4 60.5 138.9 44.4 139.4 63.4 139.8 40.2 140.3 88.6 140.8 95.1 141.3 44.7 141.8 61.2 142.2 71.1 142.7 58.4 143.2 81.2 143.7 55.4 144.2 91.3 144.6 76.0 145.1 83.8 145.6 97.2 146.1 109.2 146.6 72.4 147.0 111.5 147.5 115.9 148.0 97.9 148.5 134.5 149.0 89.3 149.4 96.1 149.9 117.7 150.4 98.0 150.9 143.3 151.4 120.8 151.8 154.8 152.3 99.4 152.8 103.9 153.3 153.8 153.8 106.5 154.3 153.2 154.7 116.4 155.2 141.3 155.7 162.7 156.2 139.7 156.7 119.7 157.1 136.3 157.6 173.2 158.1 156.4 158.6 170.2 159.1 160.2 159.5 167.5 160.0 160.5 160.5 146.1 161.0 181.9 161.5 177.2 161.9 134.4 162.4 179.0 162.9 202.1 163.4 224.9 163.9 157.9 164.3 191.3 164.8 203.1 165.3 209.6 165.8 181.1 166.3 209.0 166.7 191.5 167.2 201.6 167.7 193.4 168.2 213.4 168.7 200.8 169.1 217.7 169.6 211.6 170.1 235.1 170.6 253.6 171.1 218.1 171.5 206.2 172.0 219.0 172.5 214.6 173.0 192.5 173.5 230.5 174.0 221.5 174.4 253.4 174.9 233.3 175.4 258.0 175.9 256.7 176.4 231.7 176.8 237.5 177.3 235.5 177.8 239.3 178.3 269.1 178.8 242.6 179.2 247.3 179.7 241.6 180.2 291.8 180.7 256.5 181.2 263.7 181.6 251.1 182.1 277.7 182.6 258.6 183.1 263.9 183.6 237.1 184.0 248.5 184.5 291.1 185.0 306.4 185.5 256.6 186.0 299.2 186.4 302.5 186.9 367.6 187.4 282.3 187.9 292.0 188.4 286.3 188.8 329.7 189.3 337.0 189.8 310.7 190.3 352.0 190.8 367.1 191.2 313.1 191.7 337.6 192.2 323.5 192.7 315.9 193.2 321.8 193.7 328.9 194.1 307.9 194.6 336.3 195.1 357.7 195.6 321.3 196.1 332.5 196.5 325.8 197.0 356.1 197.5 347.2 198.0 371.8 198.5 346.0 198.9 322.1 199.4 368.7 199.9 351.2 200.4 384.7 200.9 376.7 201.3 304.0 201.8 319.9 202.3 365.8 202.8 349.8 203.3 318.0 203.7 357.3 204.2 399.3 204.7 386.0 205.2 353.4 205.7 380.8 206.1 398.3 206.6 372.7 207.1 417.7 207.6 363.4 208.1 427.5 208.5 415.9 209.0 394.3 209.5 388.8 210.0 385.6 210.5 364.9 210.9 409.0 211.4 416.6 211.9 406.7 212.4 396.4 212.9 393.5 213.4 371.1 213.8 378.3 214.3 361.5 214.8 406.0 215.3 375.8 215.8 416.1 216.2 383.2 216.7 431.4 217.2 435.8 217.7 436.1 218.2 428.4 218.6 396.7 219.1 397.6 219.6 389.1 220.1 414.4 220.6 446.2 221.0 384.3 221.5 465.4 222.0 398.4 222.5 385.8 223.0 421.3 223.4 439.1 223.9 407.4 224.4 393.3 224.9 457.7 225.4 393.4 225.8 442.3 226.3 424.0 226.8 412.8 227.3 423.4 227.8 398.2 228.2 398.5 228.7 431.9 229.2 401.8 229.7 408.8 230.2 460.7 230.6 469.6 231.1 454.5 231.6 450.4 232.1 424.7 232.6 433.4 233.1 415.0 233.5 367.9 234.0 438.1 234.5 439.5 235.0 457.9 235.5 408.1 235.9 463.2 236.4 424.8 236.9 409.3 237.4 432.8 237.9 461.1 238.3 440.0 238.8 451.3 239.3 421.3 239.8 453.7 240.3 466.3 240.7 423.5 241.2 454.7 241.7 414.3 242.2 451.8 242.7 412.3 243.1 457.5 243.6 448.7 244.1 423.3 244.6 458.8 245.1 428.0 245.5 453.9 246.0 431.2 246.5 466.0 247.0 441.0 247.5 488.5 247.9 466.3 248.4 468.9 248.9 425.7 249.4 408.6 249.9 439.6 250.3 501.7 250.8 437.5 251.3 489.1 251.8 490.6 252.3 447.7 252.8 457.1 253.2 493.6 253.7 457.1 254.2 454.1 254.7 450.6 255.2 466.5 255.6 462.7 256.1 495.2 256.6 472.0 257.1 494.9 257.6 464.8 258.0 527.4 258.5 465.6 259.0 465.4 259.5 450.3 260.0 429.6 260.4 449.7 260.9 475.9 261.4 447.7 261.9 491.6 262.4 433.4 262.8 432.8 263.3 480.6 263.8 482.9 264.3 447.3 264.8 500.7 265.2 508.6 265.7 484.6 266.2 445.7 266.7 507.0 267.2 470.8 267.6 474.0 268.1 490.5 268.6 462.7 269.1 516.4 269.6 465.7 270.0 506.9 270.5 500.5 271.0 525.2 271.5 495.2 272.0 504.5 272.5 474.8 272.9 479.2 273.4 470.8 273.9 504.2 274.4 470.7 274.9 523.5 275.3 484.8 275.8 459.2 276.3 472.2 276.8 516.8 277.3 477.3 277.7 503.7 278.2 451.4 278.7 500.9 279.2 509.1 279.7 503.0 280.1 510.2 280.6 467.5 281.1 451.5 281.6 460.2 282.1 512.9 282.5 502.5 283.0 512.6 283.5 479.7 284.0 513.3 284.5 456.3 284.9 504.3 285.4 469.3 285.9 484.4 286.4 511.3 286.9 516.9 287.3 491.9 287.8 487.4 288.3 529.5 288.8 522.1 289.3 480.3 289.7 504.4 290.2 492.3 290.7 521.5 291.2 509.2 291.7 508.9 292.2 500.8 292.6 485.5 293.1 526.0 293.6 509.3 294.1 442.3 294.6 490.1 295.0 506.2 295.5 481.5 296.0 477.1 296.5 484.3 297.0 508.7 297.4 476.6 297.9 509.3 298.4 534.0 298.9 523.9 299.4 525.0 299.8 495.4 300.3 530.1 300.8 501.3 301.3 522.7 301.8 472.8 302.2 531.8 302.7 486.4 303.2 501.6 303.7 526.9 304.2 500.8 304.6 489.1 305.1 496.7 305.6 527.7 306.1 528.0 306.6 517.0 307.0 485.0 307.5 490.4 308.0 516.6 308.5 518.8 309.0 482.7 309.4 483.0 309.9 517.4 310.4 527.1 310.9 502.2 311.4 470.9 311.9 539.3 312.3 501.0 312.8 511.5 313.3 447.0 313.8 482.1 314.3 495.1 314.7 507.2 315.2 477.6 315.7 461.5 316.2 458.7 316.7 489.5 317.1 505.9 317.6 504.8 318.1 456.2 318.6 481.0 319.1 495.9 319.5 522.5 320.0 511.7 320.5 504.4 321.0 456.9 321.5 524.5 321.9 495.7 322.4 503.1 322.9 481.5 323.4 492.8 323.9 489.5 324.3 487.8 324.8 476.2 325.3 514.2 325.8 519.7 326.3 484.7 326.7 477.5 327.2 477.8 327.7 490.3 328.2 532.2 328.7 494.4 329.1 542.0 329.6 467.1 330.1 471.3 330.6 478.7 331.1 476.8 331.6 505.5 332.0 539.7 332.5 479.9 333.0 505.9 333.5 529.6 334.0 555.5 334.4 502.6 334.9 521.2 335.4 529.4 335.9 499.8 336.4 511.0 336.8 488.8 337.3 475.9 337.8 482.8 338.3 524.8 338.8 529.2 339.2 502.8 339.7 467.3 340.2 526.3 340.7 496.5 341.2 532.4 341.6 498.7 342.1 468.5 342.6 489.2 343.1 479.8 343.6 533.9 344.0 441.0 344.5 481.2 345.0 487.7 345.5 446.0 346.0 505.1 346.4 509.4 346.9 514.8 347.4 514.3 347.9 491.8 348.4 516.5 348.8 483.1 349.3 494.3 349.8 498.6 350.3 494.9 350.8 505.2 351.3 477.0 351.7 489.6 352.2 478.2 352.7 493.7 353.2 499.3 353.7 473.7 354.1 526.0 354.6 537.6 355.1 504.4 355.6 493.3 356.1 476.0 356.5 486.6 357.0 485.3 357.5 506.7 358.0 489.9 358.5 506.6 358.9 503.1 359.4 478.0 359.9 457.7 360.4 460.9 360.9 463.4 361.3 487.8 361.8 516.2 362.3 466.0 362.8 503.0 363.3 483.2 363.7 517.0 364.2 540.0 364.7 511.7 365.2 494.3 365.7 498.0 366.1 516.7 366.6 478.6 367.1 466.8 367.6 488.9 368.1 522.6 368.5 467.6 369.0 510.3 369.5 504.3 370.0 478.0 370.5 464.2 371.0 444.0 371.4 454.7 371.9 485.6 372.4 498.7 372.9 466.0 373.4 467.0 373.8 461.8 374.3 537.2 374.8 446.8 375.3 443.9 375.8 503.4 376.2 452.1 376.7 501.1 377.2 457.5 377.7 500.9 378.2 508.8 378.6 465.0 379.1 475.0 379.6 451.8 380.1 495.4 380.6 466.9 381.0 451.6 381.5 484.0 382.0 481.9 382.5 471.8 383.0 462.4 383.4 494.8 383.9 456.4 384.4 451.2 384.9 465.3 385.4 482.9 385.8 461.2 386.3 455.1 386.8 445.5 387.3 450.4 387.8 453.2 388.2 515.2 388.7 426.1 389.2 456.9 389.7 468.9 390.2 446.2 390.7 438.7 391.1 479.4 391.6 498.4 392.1 491.5 392.6 465.7 393.1 454.6 393.5 480.1 394.0 425.6 394.5 444.2 395.0 498.0 395.5 473.3 395.9 466.7 396.4 458.2 396.9 453.3 397.4 442.1 397.9 475.2 398.3 473.2 398.8 473.2 399.3 403.5 399.8 490.4 400.3 480.1 400.7 496.5 401.2 446.2 401.7 408.1 402.2 428.2 402.7 437.6 403.1 505.2 403.6 440.2 404.1 446.6 404.6 480.5 405.1 477.8 405.5 479.2 406.0 445.3 406.5 499.6 407.0 465.0 407.5 435.5 407.9 464.6 408.4 421.7 408.9 425.4 409.4 438.2 409.9 426.1 410.3 441.9 410.8 438.0 411.3 441.9 411.8 432.2 412.3 478.3 412.8 428.8 413.2 439.3 413.7 430.2 414.2 437.3 414.7 420.6 415.2 499.5 415.6 443.8 416.1 469.0 416.6 441.1 417.1 419.1 417.6 437.0 418.0 432.9 418.5 419.9 419.0 450.6 419.5 485.3 420.0 452.1 420.4 471.4 420.9 477.1 421.4 402.1 421.9 490.7 422.4 415.9 422.8 488.6 423.3 450.8 423.8 459.6 424.3 496.5 424.8 469.5 425.2 407.8 425.7 403.0 426.2 416.7 426.7 467.3 427.2 451.1 427.6 464.3 428.1 453.1 428.6 471.0 429.1 418.7 429.6 400.0 430.0 426.5 430.5 460.4 431.0 418.1 431.5 387.3 432.0 428.4 432.5 456.4 432.9 450.0 433.4 432.3 433.9 428.2 434.4 391.3 434.9 438.5 435.3 482.2 435.8 427.0 436.3 475.5 436.8 409.2 437.3 427.7 437.7 425.7 438.2 435.8 438.7 394.7 439.2 462.6 439.7 427.5 440.1 385.0 440.6 448.8 441.1 437.0 441.6 404.3 442.1 430.6 442.5 451.7 443.0 449.1 443.5 441.1 444.0 418.2 444.5 440.0 444.9 463.0 445.4 483.5 445.9 448.4 446.4 452.9 446.9 456.6 447.3 428.8 447.8 394.8 448.3 421.7 448.8 429.8 449.3 438.9 449.7 433.1 450.2 415.6 450.7 419.0 451.2 425.3 451.7 410.1 452.2 410.5 452.6 389.9 453.1 420.2 453.6 430.3 454.1 412.7 454.6 421.2 455.0 429.1 455.5 402.3 456.0 412.4 456.5 406.4 457.0 437.6 457.4 402.3 457.9 428.5 458.4 382.5 458.9 468.0 459.4 441.6 459.8 411.6 460.3 429.2 460.8 473.9 461.3 434.1 461.8 399.2 462.2 432.5 462.7 423.0 463.2 446.2 463.7 439.4 464.2 400.3 464.6 442.7 465.1 460.0 465.6 470.5 466.1 447.5 466.6 482.3 467.0 473.7 467.5 459.2 468.0 477.2 468.5 386.5 469.0 471.6 469.4 476.6 469.9 442.3 470.4 463.4 470.9 430.8 471.4 442.2 471.9 442.4 472.3 423.3 472.8 442.3 473.3 408.0 473.8 444.9 474.3 486.5 474.7 491.4 475.2 449.1 475.7 489.0 476.2 459.8 476.7 422.7 477.1 437.9 477.6 451.1 478.1 452.5 478.6 468.0 479.1 438.3 479.5 445.5 480.0 478.4 480.5 459.0 481.0 465.8 481.5 456.0 481.9 473.7 482.4 475.5 482.9 442.2 483.4 485.4 483.9 446.4 484.3 469.2 484.8 455.4 485.3 477.4 485.8 469.6 486.3 476.7 486.7 467.8 487.2 462.8 487.7 470.4 488.2 466.3 488.7 448.9 489.1 433.6 489.6 480.5 490.1 497.9 490.6 449.0 491.1 482.3 491.6 458.5 492.0 476.9 492.5 493.2 493.0 482.6 493.5 470.3 494.0 433.6 494.4 472.6 494.9 477.5 495.4 506.1 495.9 464.5 496.4 478.5 496.8 485.9 497.3 510.2 497.8 457.4 498.3 502.5 498.8 483.1 499.2 471.4 499.7 457.1 500.2 466.7 500.7 506.8 501.2 478.2 501.6 469.6 502.1 482.2 502.6 520.9 503.1 514.2 503.6 511.3 504.0 515.5 504.5 511.8 505.0 486.7 505.5 472.4 506.0 524.0 506.4 495.2 506.9 501.4 507.4 489.4 507.9 511.4 508.4 530.4 508.8 493.3 509.3 506.4 509.8 505.5 510.3 519.5 510.8 506.0 511.3 508.3 511.7 495.7 512.2 510.6 512.7 495.6 513.2 528.5 513.7 511.4 514.1 551.8 514.6 503.9 515.1 498.9 515.6 543.3 516.1 540.1 516.5 499.8 517.0 588.1 517.5 531.4 518.0 561.9 518.5 532.2 518.9 558.0 519.4 569.4 519.9 537.4 520.4 557.3 520.9 570.3 521.3 597.4 521.8 576.6 522.3 587.3 522.8 571.7 523.3 575.9 523.7 574.8 524.2 560.0 524.7 526.9 525.2 531.6 525.7 576.4 526.1 580.7 526.6 573.2 527.1 560.8 527.6 563.9 528.1 548.9 528.5 602.2 529.0 543.0 529.5 614.5 530.0 571.9 530.5 636.5 531.0 594.2 531.4 578.6 531.9 589.2 532.4 577.8 532.9 621.5 533.4 590.1 533.8 597.0 534.3 574.7 534.8 606.9 535.3 564.3 535.8 583.0 536.2 624.8 536.7 555.8 537.2 607.1 537.7 626.9 538.2 605.8 538.6 635.5 539.1 632.2 539.6 617.4 540.1 574.7 540.6 599.5 541.0 603.7 541.5 632.8 542.0 611.1 542.5 607.9 543.0 588.1 543.4 612.0 543.9 622.2 544.4 567.3 544.9 618.4 545.4 628.9 545.8 616.6 546.3 620.4 546.8 612.9 547.3 644.8 547.8 616.0 548.2 653.8 548.7 637.8 549.2 592.0 549.7 627.0 550.2 640.6 550.7 653.7 551.1 640.2 551.6 636.5 552.1 657.6 552.6 675.3 553.1 606.4 553.5 632.3 554.0 681.8 554.5 654.3 555.0 629.6 555.5 686.9 555.9 693.9 556.4 650.0 556.9 671.8 557.4 658.1 557.9 666.8 558.3 681.0 558.8 656.8 559.3 662.2 559.8 658.9 560.3 631.3 560.7 677.6 561.2 686.8 561.7 674.4 562.2 673.5 562.7 690.8 563.1 661.2 563.6 655.5 564.1 688.1 564.6 683.4 565.1 717.6 565.5 654.1 566.0 683.9 566.5 661.2 567.0 731.4 567.5 681.0 567.9 706.5 568.4 646.9 568.9 674.1 569.4 710.9 569.9 688.3 570.4 685.6 570.8 713.4 571.3 703.3 571.8 704.9 572.3 709.0 572.8 695.2 573.2 737.6 573.7 728.4 574.2 706.3 574.7 702.9 575.2 674.1 575.6 690.0 576.1 740.9 576.6 691.4 577.1 708.2 577.6 751.6 578.0 740.7 578.5 727.3 579.0 729.8 579.5 716.3 580.0 727.6 580.4 726.1 580.9 753.1 581.4 743.1 581.9 714.2 582.4 758.6 582.8 748.5 583.3 755.2 583.8 759.3 584.3 751.1 584.8 740.8 585.2 764.1 585.7 762.4 586.2 735.6 586.7 738.4 587.2 748.1 587.6 754.4 588.1 744.3 588.6 718.6 589.1 771.0 589.6 735.1 590.1 726.6 590.5 733.7 591.0 752.7 591.5 748.1 592.0 707.7 592.5 723.6 592.9 723.8 593.4 741.2 593.9 759.8 594.4 745.4 594.9 798.1 595.3 777.7 595.8 790.5 596.3 777.3 596.8 739.4 597.3 774.9 597.7 737.7 598.2 748.1 598.7 773.4 599.2 771.1 599.7 783.8 600.1 767.7 600.6 795.2 601.1 791.2 601.6 783.5 602.1 763.6 602.5 767.4 603.0 800.9 603.5 837.8 604.0 773.7 604.5 787.4 604.9 768.0 605.4 738.3 605.9 799.4 606.4 791.7 606.9 802.9 607.3 778.3 607.8 775.5 608.3 821.8 608.8 775.8 609.3 808.5 609.8 814.6 610.2 796.9 610.7 787.1 611.2 803.8 611.7 765.9 612.2 795.8 612.6 795.0 613.1 775.9 613.6 798.8 614.1 822.7 614.6 851.4 615.0 786.4 615.5 817.3 616.0 818.1 616.5 805.3 617.0 801.1 617.4 822.8 617.9 828.3 618.4 787.7 618.9 845.5 619.4 814.6 619.8 820.4 620.3 808.4 620.8 844.0 621.3 795.7 621.8 813.0 622.2 825.8 622.7 806.5 623.2 820.4 623.7 835.7 624.2 849.4 624.6 824.4 625.1 819.8 625.6 838.6 626.1 832.7 626.6 811.7 627.0 848.8 627.5 827.8 628.0 817.1 628.5 853.4 629.0 846.8 629.5 822.0 629.9 850.7 630.4 825.3 630.9 828.8 631.4 821.3 631.9 857.1 632.3 839.2 632.8 853.8 633.3 818.7 633.8 836.1 634.3 813.0 634.7 833.3 635.2 838.6 635.7 843.3 636.2 818.6 636.7 868.4 637.1 818.2 637.6 872.4 638.1 848.3 638.6 871.4 639.1 833.1 639.5 855.4 640.0 864.8 640.5 896.0 641.0 863.8 641.5 890.2 641.9 864.7 642.4 885.8 642.9 860.4 643.4 863.4 643.9 880.4 644.3 840.3 644.8 834.4 645.3 869.0 645.8 906.5 646.3 894.8 646.7 870.2 647.2 880.9 647.7 874.2 648.2 878.4 648.7 898.4 649.2 851.1 649.6 851.0 650.1 837.8 650.6 858.4 651.1 894.6 651.6 874.8 652.0 852.4 652.5 865.5 653.0 869.1 653.5 897.7 654.0 888.3 654.4 887.5 654.9 903.6 655.4 891.6 655.9 902.8 656.4 868.5 656.8 866.3 657.3 877.6 657.8 922.9 658.3 864.7 658.8 889.8 659.2 896.7 659.7 870.0 660.2 865.4 660.7 926.7 661.2 886.6 661.6 883.1 662.1 897.2 662.6 893.0 663.1 864.8 663.6 859.8 664.0 888.6 664.5 878.4 665.0 892.2 665.5 871.9 666.0 941.6 666.4 903.5 666.9 932.6 667.4 887.6 667.9 895.4 668.4 889.2 668.9 900.3 669.3 907.8 669.8 891.0 670.3 881.5 670.8 888.6 671.3 898.0 671.7 917.1 672.2 873.8 672.7 888.2 673.2 910.0 673.7 927.6 674.1 895.3 674.6 909.2 675.1 900.4 675.6 899.8 676.1 907.4 676.5 895.4 677.0 901.1 677.5 900.3 678.0 934.6 678.5 906.4 678.9 937.1 679.4 905.4 679.9 910.7 680.4 893.2 680.9 912.1 681.3 934.3 681.8 938.4 682.3 890.5 682.8 954.6 683.3 916.5 683.7 920.4 684.2 929.4 684.7 912.9 685.2 897.0 685.7 913.7 686.1 906.7 686.6 948.2 687.1 914.8 687.6 874.1 688.1 938.6 688.6 925.8 689.0 914.7 689.5 882.4 690.0 974.6 690.5 910.5 691.0 910.8 691.4 907.0 691.9 920.6 692.4 916.5 692.9 924.0 693.4 927.3 693.8 919.4 694.3 939.2 694.8 901.4 695.3 937.0 695.8 927.3 696.2 921.6 696.7 934.4 697.2 926.5 697.7 926.2 698.2 914.5 698.6 908.0 699.1 897.1 699.6 901.4 700.1 912.5 700.6 938.4 701.0 920.3 701.5 927.1 702.0 906.3 702.5 898.3 703.0 927.0 703.4 966.7 703.9 906.4 704.4 949.5 704.9 906.1 705.4 905.5 705.8 910.6 706.3 912.0 706.8 941.6 707.3 930.7 707.8 929.0 708.3 918.5 708.7 944.0 709.2 960.1 709.7 933.9 710.2 922.8 710.7 911.4 711.1 924.4 711.6 908.7 712.1 954.0 712.6 918.0 713.1 951.7 713.5 911.0 714.0 947.5 714.5 943.2 715.0 946.6 715.5 939.1 715.9 916.0 716.4 981.4 716.9 910.5 717.4 954.3 717.9 932.2 718.3 916.7 718.8 949.6 719.3 960.9 719.8 954.0 720.3 913.7 720.7 924.0 721.2 946.9 721.7 944.2 722.2 953.6 722.7 934.1 723.1 907.5 723.6 916.8 724.1 942.4 724.6 920.1 725.1 914.3 725.5 948.6 726.0 961.9 726.5 927.6 727.0 935.7 727.5 937.3 728.0 955.4 728.4 935.6 728.9 935.8 729.4 939.8 729.9 920.1 730.4 963.6 730.8 967.9 731.3 943.0 731.8 944.6 732.3 946.5 732.8 943.8 733.2 930.9 733.7 955.4 734.2 956.6 734.7 962.0 735.2 928.3 735.6 948.4 736.1 923.4 736.6 976.8 737.1 920.5 737.6 944.1 738.0 973.1 738.5 917.9 739.0 949.5 739.5 919.5 740.0 963.6 740.4 942.2 740.9 938.8 741.4 933.2 741.9 958.3 742.4 952.0 742.8 962.1 743.3 964.6 743.8 941.6 744.3 956.2 744.8 974.0 745.2 961.4 745.7 960.2 746.2 955.8 746.7 946.9 747.2 955.2 747.7 954.4 748.1 997.0 748.6 951.5 749.1 940.0 749.6 963.1 750.1 953.4 750.5 947.0 751.0 971.4 751.5 955.2 752.0 945.1 752.5 968.4 752.9 991.7 753.4 981.4 753.9 964.1 754.4 965.3 754.9 960.0 755.3 972.6 755.8 957.7 756.3 967.3 756.8 959.0 757.3 965.4 757.7 929.3 758.2 962.3 758.7 953.6 759.2 957.7 759.7 969.6 760.1 942.8 760.6 949.5 761.1 967.0 761.6 965.4 762.1 979.8 762.5 970.7 763.0 939.0 763.5 972.4 764.0 963.5 764.5 968.6 764.9 983.1 765.4 968.7 765.9 964.0 766.4 941.4 766.9 960.7 767.4 981.5 767.8 977.1 768.3 948.9 768.8 946.6 769.3 963.0 769.8 977.0 770.2 957.9 770.7 992.2 771.2 1005.1 771.7 952.5 772.2 1004.0 772.6 1002.8 773.1 938.5 773.6 945.0 774.1 969.3 774.6 972.1 775.0 958.4 775.5 972.5 776.0 985.4 776.5 958.5 777.0 936.6 777.4 968.1 777.9 986.3 778.4 997.5 778.9 991.1 779.4 929.4 779.8 955.0 780.3 972.7 780.8 960.8 781.3 983.6 781.8 982.3 782.2 989.5 782.7 998.7 783.2 967.1 783.7 1004.5 784.2 953.8 784.6 959.5 785.1 959.2 785.6 962.8 786.1 987.9 786.6 1004.4 787.1 953.9 787.5 989.7 788.0 997.6 788.5 983.0 789.0 946.2 789.5 986.1 789.9 993.6 790.4 950.7 790.9 971.6 791.4 996.8 791.9 985.5 792.3 998.5 792.8 1001.0 793.3 960.6 793.8 961.7 794.3 995.4 794.7 975.8 795.2 994.9 795.7 990.2 796.2 968.2 796.7 996.2 797.1 988.3 797.6 971.1 798.1 973.0 798.6 972.0 799.1 985.7 799.5 995.9 800.0 989.3 800.5 977.9 801.0 958.7 801.5 982.1 801.9 979.0 802.4 970.0 802.9 966.4 803.4 1005.2 803.9 1004.2 804.3 958.2 804.8 995.7 805.3 986.4 805.8 1008.6 806.3 967.2 806.8 995.5 807.2 971.1 807.7 976.2 808.2 983.1 808.7 994.6 809.2 981.6 809.6 955.1 810.1 992.5 810.6 979.2 811.1 975.6 811.6 952.1 812.0 972.4 812.5 997.3 813.0 998.7 813.5 986.4 814.0 965.1 814.4 991.1 814.9 965.5 815.4 991.2 815.9 970.4 816.4 954.8 816.8 985.5 817.3 981.8 817.8 981.8 818.3 964.5 818.8 962.1 819.2 995.8 819.7 977.5 820.2 1003.7 820.7 1003.7 821.2 961.2 821.6 972.2 822.1 932.3 822.6 976.4 823.1 967.1 823.6 980.9 824.0 971.8 824.5 968.7 825.0 964.2 825.5 964.8 826.0 995.7 826.5 986.7 826.9 1010.2 827.4 989.0 827.9 970.5 828.4 969.1 828.9 1001.7 829.3 947.1 829.8 977.9 830.3 973.7 830.8 943.8 831.3 993.2 831.7 976.6 832.2 972.7 832.7 962.7 833.2 975.2 833.7 973.8 834.1 991.5 834.6 970.6 835.1 1013.3 835.6 966.4 836.1 977.9 836.5 965.7 837.0 988.7 837.5 969.0 838.0 997.8 838.5 991.2 838.9 982.0 839.4 949.7 839.9 975.0 840.4 973.7 840.9 984.4 841.3 953.0 841.8 984.4 842.3 984.9 842.8 973.0 843.3 978.4 843.7 966.2 844.2 988.2 844.7 955.2 845.2 962.9 845.7 1012.6 846.2 972.1 846.6 972.3 847.1 958.6 847.6 968.8 848.1 976.8 848.6 954.6 849.0 950.3 849.5 966.1 850.0 996.9 850.5 967.8 851.0 1012.1 851.4 990.9 851.9 982.1 852.4 964.9 852.9 980.0 853.4 1017.3 853.8 951.4 854.3 977.7 854.8 997.5 855.3 986.6 855.8 973.3 856.2 964.5 856.7 985.3 857.2 944.1 857.7 998.2 858.2 957.5 858.6 939.6 859.1 965.1 859.6 967.1 860.1 963.7 860.6 943.9 861.0 957.2 861.5 980.0 862.0 973.9 862.5 985.8 863.0 970.6 863.4 951.5 863.9 963.2 864.4 968.8 864.9 971.1 865.4 972.3 865.9 971.5 866.3 977.9 866.8 978.3 867.3 954.9 867.8 984.4 868.3 976.9 868.7 961.3 869.2 969.5 869.7 963.1 870.2 969.2 870.7 937.6 871.1 936.9 871.6 978.0 872.1 959.7 872.6 985.6 873.1 987.7 873.5 969.9 874.0 993.5 874.5 951.0 875.0 968.1 875.5 945.8 875.9 967.7 876.4 981.9 876.9 967.4 877.4 969.3 877.9 949.6 878.3 968.1 878.8 952.3 879.3 965.4 879.8 952.7 880.3 977.2 880.7 972.3 881.2 969.2 881.7 975.3 882.2 981.9 882.7 962.8 883.1 951.9 883.6 953.0 884.1 986.7 884.6 967.2 885.1 944.9 885.6 945.5 886.0 978.9 886.5 956.9 887.0 986.2 887.5 982.9 888.0 956.0 888.4 955.1 888.9 945.2 889.4 970.1 889.9 937.6 890.4 964.3 890.8 951.7 891.3 979.6 891.8 951.2 892.3 944.6 892.8 964.6 893.2 940.1 893.7 965.0 894.2 949.9 894.7 945.2 895.2 948.9 895.6 949.6 896.1 934.4 896.6 961.3 897.1 951.3 897.6 943.1 898.0 971.1 898.5 955.3 899.0 975.7 899.5 925.0 900.0 971.3 900.4 953.3 900.9 975.9 901.4 952.3 901.9 943.7 902.4 941.3 902.8 956.2 903.3 927.0 903.8 944.4 904.3 934.6 904.8 983.5 905.3 956.5 905.7 944.6 906.2 904.8 906.7 946.1 907.2 938.2 907.7 946.0 908.1 946.8 908.6 935.6 909.1 927.0 909.6 941.4 910.1 943.6 910.5 944.5 911.0 944.8 911.5 951.3 912.0 932.9 912.5 957.9 912.9 939.2 913.4 947.5 913.9 938.3 914.4 948.7 914.9 968.0 915.3 952.0 915.8 947.2 916.3 946.7 916.8 936.4 917.3 926.7 917.7 914.1 918.2 945.9 918.7 951.5 919.2 954.0 919.7 916.2 920.1 931.8 920.6 949.5 921.1 937.0 921.6 953.7 922.1 956.7 922.5 924.6 923.0 955.6 923.5 941.7 924.0 935.7 924.5 947.6 925.0 933.5 925.4 919.1 925.9 955.3 926.4 951.0 926.9 950.8 927.4 945.5 927.8 922.6 928.3 942.8 928.8 966.7 929.3 948.7 929.8 943.6 930.2 946.6 930.7 939.9 931.2 943.5 931.7 943.0 932.2 933.1 932.6 939.7 933.1 941.6 933.6 942.8 934.1 977.6 934.6 936.9 935.0 924.1 935.5 939.9 936.0 916.7 936.5 967.6 937.0 933.0 937.4 939.3 937.9 944.6 938.4 954.9 938.9 933.9 939.4 947.1 939.8 939.1 940.3 941.7 940.8 950.7 941.3 932.9 941.8 963.4 942.2 940.8 942.7 955.3 943.2 934.6 943.7 942.5 944.2 931.6 944.7 953.7 945.1 942.6 945.6 933.5 946.1 927.7 946.6 974.6 947.1 950.3 947.5 954.2 948.0 962.0 948.5 952.0 949.0 963.9 949.5 944.1 949.9 950.0 950.4 970.6 950.9 929.4 951.4 948.8 951.9 937.7 952.3 968.9 952.8 942.3 953.3 949.3 953.8 948.2 954.3 934.5 954.7 942.0 955.2 937.5 955.7 960.2 956.2 937.8 956.7 963.6 957.1 952.6 957.6 959.8 958.1 967.4 958.6 961.7 959.1 955.3 959.5 940.0 960.0 947.2 960.5 951.2 961.0 960.7 961.5 950.4 961.9 947.1 962.4 977.0 962.9 957.4 963.4 958.5 963.9 941.3 964.3 943.8 964.8 944.6 965.3 937.6 965.8 951.2 966.3 955.2 966.8 941.3 967.2 944.6 967.7 965.9 968.2 930.0 968.7 950.2 969.2 973.5 969.6 965.2 970.1 963.3 970.6 978.5 971.1 974.1 971.6 965.8 972.0 946.9 972.5 938.0 973.0 944.8 973.5 974.2 974.0 947.8 974.4 950.5 974.9 972.8 975.4 953.8 975.9 963.6 976.4 939.9 976.8 951.3 977.3 951.2 977.8 950.3 978.3 938.4 978.8 949.5 979.2 973.5 979.7 964.1 980.2 973.7 980.7 953.3 981.2 989.4 981.6 955.9 982.1 960.0 982.6 971.6 983.1 959.9 983.6 969.5 984.0 988.6 984.5 975.5 985.0 963.3 985.5 986.8 986.0 962.5 986.5 965.0 986.9 975.6 987.4 977.1 987.9 943.9 988.4 977.8 988.9 966.0 989.3 955.7 989.8 956.0 990.3 957.3 990.8 951.2 991.3 985.3 991.7 992.1 992.2 972.1 992.7 974.0 993.2 974.9 993.7 991.0 994.1 981.3 994.6 1000.0 995.1 983.4 995.6 996.7 996.1 956.4 996.5 964.2 997.0 979.7 997.5 975.0 998.0 966.9 998.5 963.2 998.9 958.1 999.4 978.9 999.9 973.9 1000.4 989.6 1000.9 971.9 1001.3 980.6 1001.8 987.7 1002.3 991.6 1002.8 974.1 1003.3 981.1 1003.7 1006.0 1004.2 950.6 1004.7 986.7 1005.2 986.7 1005.7 978.7 1006.2 958.2 1006.6 981.9 1007.1 973.4 1007.6 976.4 1008.1 971.9 1008.6 968.1 1009.0 982.7 1009.5 965.4 1010.0 994.4 1010.5 985.5 1011.0 977.6 1011.4 985.4 1011.9 996.4 1012.4 981.0 1012.9 997.2 1013.4 1021.3 1013.8 989.3 1014.3 993.8 1014.8 980.1 1015.3 988.3 1015.8 978.0 1016.2 1009.0 1016.7 978.2 1017.2 995.8 1017.7 979.1 1018.2 989.0 1018.6 975.3 1019.1 973.7 1019.6 1005.7 1020.1 1002.1 1020.6 991.2 1021.0 983.7 1021.5 986.5 1022.0 973.4 1022.5 991.1 1023.0 1008.0 1023.4 978.4 1023.9 1021.3 1024.4 993.3 1024.9 1011.0 1025.4 997.9 1025.9 975.9 1026.3 973.4 1026.8 1010.6 1027.3 1007.6 1027.8 979.1 1028.3 1019.8 1028.7 990.1 1029.2 1036.9 1029.7 986.9 1030.2 1006.0 1030.7 993.9 1031.1 982.6 1031.6 1002.5 1032.1 981.5 1032.6 979.0 1033.1 991.1 1033.5 972.6 1034.0 974.0 1034.5 988.3 1035.0 996.6 1035.5 1006.0 1035.9 1012.3 1036.4 993.4 1036.9 1018.3 1037.4 1000.7 1037.9 994.3 1038.3 1010.9 1038.8 1014.9 1039.3 997.6 1039.8 991.6 1040.3 1003.3 1040.7 997.4 1041.2 980.0 1041.7 997.8 1042.2 997.6 1042.7 1000.4 1043.1 1004.4 1043.6 1016.0 1044.1 987.6 1044.6 1001.7 1045.1 1010.5 1045.6 968.0 1046.0 1017.4 1046.5 1003.4 1047.0 1038.1 1047.5 1012.3 1048.0 989.7 1048.4 1003.1 1048.9 998.1 1049.4 1008.0 1049.9 982.2 1050.4 1005.7 1050.8 998.5 1051.3 998.9 1051.8 1008.8 1052.3 1004.8 1052.8 1029.5 1053.2 1007.4 1053.7 1013.4 1054.2 995.3 1054.7 994.8 1055.2 1024.3 1055.6 996.6 1056.1 988.1 1056.6 987.9 1057.1 992.6 1057.6 989.5 1058.0 993.9 1058.5 1020.9 1059.0 1001.7 1059.5 1011.8 1060.0 1032.5 1060.4 996.3 1060.9 997.0 1061.4 982.8 1061.9 1019.8 1062.4 1010.0 1062.8 981.8 1063.3 1022.5 1063.8 1018.8 1064.3 969.9 1064.8 989.6 1065.3 1016.3 1065.7 991.6 1066.2 1001.8 1066.7 1013.4 1067.2 1009.7 1067.7 998.5 1068.1 1014.9 1068.6 1024.2 1069.1 1002.7 1069.6 1043.0 1070.1 1016.5 1070.5 1013.8 1071.0 992.3 1071.5 995.6 1072.0 997.3 1072.5 1020.7 1072.9 995.4 1073.4 1025.8 1073.9 1021.8 1074.4 1001.1 1074.9 1008.2 1075.3 1029.7 1075.8 998.9 1076.3 980.9 1076.8 1001.1 1077.3 1012.6 1077.7 1023.2 1078.2 1017.7 1078.7 1044.3 1079.2 1025.7 1079.7 1016.5 1080.1 1027.9 1080.6 1028.7 1081.1 1015.6 1081.6 1023.4 1082.1 1021.1 1082.5 1015.7 1083.0 1012.8 1083.5 998.6 1084.0 1011.0 1084.5 1000.7 1085.0 1021.9 1085.4 1013.8 1085.9 997.5 1086.4 1010.6 1086.9 1008.2 1087.4 993.8 1087.8 1003.7 1088.3 1013.9 1088.8 1031.8 1089.3 1012.5 1089.8 1019.6 1090.2 1030.5 1090.7 1027.6 1091.2 1015.3 1091.7 1021.5 1092.2 1010.5 1092.6 1008.5 1093.1 1013.1 1093.6 1015.1 1094.1 1025.9 1094.6 1022.0 1095.0 1025.4 1095.5 992.8 1096.0 1008.5 1096.5 1012.0 1097.0 997.8 1097.4 983.6 1097.9 1018.9 1098.4 1040.3 1098.9 1000.6 1099.4 1015.5 1099.8 1037.3 1100.3 1012.3 1100.8 1011.3 1101.3 999.8 1101.8 1012.7 1102.2 1025.4 1102.7 1027.3 1103.2 1011.4 1103.7 1027.2 1104.2 999.3 1104.7 1008.2 1105.1 1018.3 1105.6 1018.5 1106.1 1028.1 1106.6 1012.4 1107.1 988.6 1107.5 1030.5 1108.0 1041.1 1108.5 1021.9 1109.0 1012.4 1109.5 1009.3 1109.9 1016.6 1110.4 997.5 1110.9 1016.9 1111.4 1010.5 1111.9 995.6 1112.3 1016.5 1112.8 1021.4 1113.3 1037.8 1113.8 1015.7 1114.3 1035.9 1114.7 1008.6 1115.2 1010.7 1115.7 1020.8 1116.2 1006.6 1116.7 1018.0 1117.1 1005.9 1117.6 1005.5 1118.1 1010.0 1118.6 1025.0 1119.1 1016.0 1119.5 1010.1 1120.0 1036.6 1120.5 1016.0 1121.0 1026.6 1121.5 1021.8 1121.9 1028.3 1122.4 1017.8 1122.9 1010.4 1123.4 1022.9 1123.9 1024.2 1124.4 1027.1 1124.8 1025.8 1125.3 1025.3 1125.8 1007.5 1126.3 1032.6 1126.8 1032.7 1127.2 1019.5 1127.7 1024.5 1128.2 1023.1 1128.7 1039.5 1129.2 1003.2 1129.6 1019.3 1130.1 1030.7 1130.6 1003.5 1131.1 1015.6 1131.6 1044.7 1132.0 1007.5 1132.5 1023.1 1133.0 1013.3 1133.5 1022.2 1134.0 1014.4 1134.4 1025.8 1134.9 1006.0 1135.4 1044.9 1135.9 1029.1 1136.4 1029.0 1136.8 1019.6 1137.3 1027.7 1137.8 1022.5 1138.3 1032.2 1138.8 1021.1 1139.2 1021.2 1139.7 1042.6 1140.2 1039.0 1140.7 1046.5 1141.2 1037.9 1141.6 1005.6 1142.1 1032.6 1142.6 1037.0 1143.1 1030.4 1143.6 1040.0 1144.1 1040.1 1144.5 1031.3 1145.0 1034.1 1145.5 1027.8 1146.0 1044.8 1146.5 1012.2 1146.9 1011.1 1147.4 1040.2 1147.9 1008.2 1148.4 1033.8 1148.9 1029.5 1149.3 1044.0 1149.8 1017.2 1150.3 1016.8 1150.8 1027.3 1151.3 1026.9 1151.7 1019.0 1152.2 1017.4 1152.7 1028.5 1153.2 1038.0 1153.7 1002.8 1154.1 1039.9 1154.6 1034.7 1155.1 1023.0 1155.6 1016.4 1156.1 1020.5 1156.5 1004.0 1157.0 1029.0 1157.5 1028.0 1158.0 1027.4 1158.5 1032.0 1158.9 1013.0 1159.4 1038.8 1159.9 1026.1 1160.4 1029.0 1160.9 1031.7 1161.3 1031.8 1161.8 1038.0 1162.3 1031.4 1162.8 1031.3 1163.3 1018.5 1163.8 1022.6 1164.2 1010.2 1164.7 1031.1 1165.2 1024.9 1165.7 1027.5 1166.2 1035.8 1166.6 1024.2 1167.1 1045.1 1167.6 1014.4 1168.1 1046.0 1168.6 1042.1 1169.0 1024.8 1169.5 1033.7 1170.0 1040.6 1170.5 1022.3 1171.0 1032.3 1171.4 1040.9 1171.9 1035.2 1172.4 1025.1 1172.9 1011.6 1173.4 1037.6 1173.8 1038.8 1174.3 1049.3 1174.8 1039.8 1175.3 1014.6 1175.8 1017.0 1176.2 1011.6 1176.7 1036.6 1177.2 1026.5 1177.7 1030.5 1178.2 1022.1 1178.6 1008.6 1179.1 1031.1 1179.6 1007.5 1180.1 1003.5 1180.6 1015.7 1181.0 1032.7 1181.5 1044.0 1182.0 1032.4 1182.5 1030.4 1183.0 1034.7 1183.5 1039.7 1183.9 1044.1 1184.4 1019.2 1184.9 1021.9 1185.4 1066.3 1185.9 1013.7 1186.3 1002.6 1186.8 1022.4 1187.3 1023.2 1187.8 1019.7 1188.3 1050.4 1188.7 1043.3 1189.2 1020.0 1189.7 1061.0 1190.2 1026.4 1190.7 1034.0 1191.1 1022.0 1191.6 1020.8 1192.1 1038.0 1192.6 1050.8 1193.1 1040.3 1193.5 1033.5 1194.0 1030.2 1194.5 1049.7 1195.0 1015.6 1195.5 1030.0 1195.9 1022.0 1196.4 1030.4 1196.9 1029.6 1197.4 1024.1 1197.9 1019.4 1198.3 1037.8 1198.8 1059.9 1199.3 1038.3 1199.8 1032.4 1200.3 1024.5 1200.7 1042.0 1201.2 1039.9 1201.7 1059.3 1202.2 1031.5 1202.7 1054.4 1203.2 1025.0 1203.6 1041.2 1204.1 1045.0 1204.6 1029.6 1205.1 1014.3 1205.6 1038.1 1206.0 1040.2 1206.5 1051.2 1207.0 1049.8 1207.5 1058.2 1208.0 1025.2 1208.4 1056.2 1208.9 1042.3 1209.4 1046.6 1209.9 1012.6 1210.4 1042.4 1210.8 1037.7 1211.3 1038.4 1211.8 1068.9 1212.3 1028.7 1212.8 1032.1 1213.2 1039.9 1213.7 1040.8 1214.2 1023.2 1214.7 1022.4 1215.2 1036.3 1215.6 1021.8 1216.1 1043.9 1216.6 1030.3 1217.1 1019.1 1217.6 1044.7 1218.0 1042.8 1218.5 1044.3 1219.0 1038.4 1219.5 1043.8 1220.0 1032.8 1220.4 1016.1 1220.9 1032.8 1221.4 1033.6 1221.9 1031.6 1222.4 1040.3 1222.9 1057.7 1223.3 1047.3 1223.8 1043.3 1224.3 1045.3 1224.8 1025.9 1225.3 1061.9 1225.7 1040.0 1226.2 1054.0 1226.7 1051.2 1227.2 1051.3 1227.7 1059.6 1228.1 1038.9 1228.6 1050.5 1229.1 1036.9 1229.6 1038.7 1230.1 1013.3 1230.5 1040.0 1231.0 1037.8 1231.5 1042.5 1232.0 1027.8 1232.5 1025.0 1232.9 1042.4 1233.4 1036.0 1233.9 1044.7 1234.4 1026.2 1234.9 1020.1 1235.3 1044.2 1235.8 1042.2 1236.3 1041.4 1236.8 1043.7 1237.3 1041.3 1237.7 1037.3 1238.2 1028.1 1238.7 1041.2 1239.2 1037.7 1239.7 1034.4 1240.1 1021.6 1240.6 1033.1 1241.1 1044.9 1241.6 1047.0 1242.1 1021.7 1242.6 1050.1 1243.0 1031.7 1243.5 1051.3 1244.0 1037.1 1244.5 1027.0 1245.0 1051.4 1245.4 1022.0 1245.9 1043.7 1246.4 1039.2 1246.9 1045.1 1247.4 1046.9 1247.8 1043.7 1248.3 1054.3 1248.8 1021.1 1249.3 1049.5 1249.8 1055.8 1250.2 1022.9 1250.7 1023.1 1251.2 1033.2 1251.7 1027.2 1252.2 1051.7 1252.6 1047.2 1253.1 1032.3 1253.6 1034.4 1254.1 1060.8 1254.6 1034.1 1255.0 1032.3 1255.5 1064.1 1256.0 1056.1 1256.5 1036.6 1257.0 1049.0 1257.4 1021.8 1257.9 1053.0 1258.4 1076.4 1258.9 1036.5 1259.4 1050.1 1259.8 1040.4 1260.3 1030.8 1260.8 1040.3 1261.3 1035.8 1261.8 1026.0 1262.3 1042.4 1262.7 1045.9 1263.2 1048.9 1263.7 1047.1 1264.2 1046.4 1264.7 1043.8 1265.1 1038.1 1265.6 1025.8 1266.1 1042.5 1266.6 1037.1 1267.1 1025.5 1267.5 1041.7 1268.0 1049.8 1268.5 1060.2 1269.0 1031.9 1269.5 1057.3 1269.9 1034.1 1270.4 1045.0 1270.9 1057.8 1271.4 1042.5 1271.9 1038.3 1272.3 1030.4 1272.8 1055.4 1273.3 1032.2 1273.8 1044.7 1274.3 1041.4 1274.7 1047.6 1275.2 1059.5 1275.7 1048.9 1276.2 1067.6 1276.7 1063.9 1277.1 1041.4 1277.6 1028.0 1278.1 1039.6 1278.6 1039.0 1279.1 1059.4 1279.5 1042.7 1280.0 1049.9 1280.5 1024.9 1281.0 1049.5 1281.5 1062.1 1282.0 1044.0 1282.4 1032.8 1282.9 1040.6 1283.4 1045.1 1283.9 1044.2 1284.4 1043.7 1284.8 1047.1 1285.3 1033.6 1285.8 1040.4 1286.3 1039.1 1286.8 1039.3 1287.2 1021.6 1287.7 1044.0 1288.2 1047.3 1288.7 1027.6 1289.2 1061.1 1289.6 1039.4 1290.1 1040.8 1290.6 1048.1 1291.1 1042.8 1291.6 1053.5 1292.0 1054.8 1292.5 1016.4 1293.0 1042.0 1293.5 1053.2 1294.0 1049.1 1294.4 1052.2 1294.9 1044.9 1295.4 1039.1 1295.9 1028.3 1296.4 1063.7 1296.8 1047.1 1297.3 1046.0 1297.8 1047.3 1298.3 1043.0 1298.8 1045.5 1299.2 1057.5 1299.7 1049.2 1300.2 1029.2 1300.7 1043.1 1301.2 1038.9 1301.7 1043.9 1302.1 1042.0 1302.6 1060.6 1303.1 1029.5 1303.6 1051.1 1304.1 1050.0 1304.5 1037.1 1305.0 1025.8 1305.5 1043.6 1306.0 1025.3 1306.5 1058.2 1306.9 1051.3 1307.4 1015.8 1307.9 1044.9 1308.4 1038.6 1308.9 1033.8 1309.3 1033.1 1309.8 1062.0 1310.3 1032.9 1310.8 1034.6 1311.3 1056.1 1311.7 1042.5 1312.2 1024.0 1312.7 1077.2 1313.2 1048.2 1313.7 1033.5 1314.1 1076.4 1314.6 1049.8 1315.1 1048.0 1315.6 1040.6 1316.1 1053.8 1316.5 1050.1 1317.0 1048.0 1317.5 1060.4 1318.0 1044.1 1318.5 1035.3 1318.9 1031.9 1319.4 1054.4 1319.9 1049.7 1320.4 1040.1 1320.9 1058.4 1321.4 1053.3 1321.8 1038.1 1322.3 1028.6 1322.8 1038.9 1323.3 1032.0 1323.8 1043.6 1324.2 1048.8 1324.7 1051.3 1325.2 1019.3 1325.7 1038.9 1326.2 1049.7 1326.6 1051.1 1327.1 1047.6 1327.6 1040.1 1328.1 1045.9 1328.6 1057.5 1329.0 1042.1 1329.5 1037.3 1330.0 1053.1 1330.5 1054.9 1331.0 1032.8 1331.4 1038.3 1331.9 1029.5 1332.4 1044.3 1332.9 1050.3 1333.4 1043.2 1333.8 1035.0 1334.3 1034.5 1334.8 1046.6 1335.3 1056.6 1335.8 1048.6 1336.2 1047.2 1336.7 1062.7 1337.2 1043.8 1337.7 1043.4 1338.2 1035.4 1338.6 1062.5 1339.1 1058.9 1339.6 1046.3 1340.1 1050.0 1340.6 1034.3 1341.1 1038.6 1341.5 1048.8 1342.0 1054.5 1342.5 1018.6 1343.0 1063.9 1343.5 1055.7 1343.9 1033.6 1344.4 1050.1 1344.9 1041.5 1345.4 1039.1 1345.9 1040.6 1346.3 1040.5 1346.8 1048.2 1347.3 1049.3 1347.8 1058.6 1348.3 1045.2 1348.7 1038.2 1349.2 1049.3 1349.7 1053.2 1350.2 1048.7 1350.7 1062.2 1351.1 1044.2 1351.6 1032.5 1352.1 1054.5 1352.6 1055.3 1353.1 1047.6 1353.5 1048.6 1354.0 1035.4 1354.5 1045.8 1355.0 1050.1 1355.5 1045.8 1355.9 1032.0 1356.4 1049.0 1356.9 1037.8 1357.4 1051.6 1357.9 1049.6 1358.3 1055.3 1358.8 1037.7 1359.3 1050.0 1359.8 1052.1 1360.3 1050.2 1360.8 1061.1 1361.2 1036.3 1361.7 1057.4 1362.2 1059.8 1362.7 1048.6 1363.2 1036.8 1363.6 1047.4 1364.1 1048.9 1364.6 1050.1 1365.1 1060.8 1365.6 1055.5 1366.0 1031.2 1366.5 1059.8 1367.0 1028.0 1367.5 1040.2 1368.0 1028.5 1368.4 1052.9 1368.9 1042.5 1369.4 1060.8 1369.9 1040.1 1370.4 1050.2 1370.8 1066.0 1371.3 1045.2 1371.8 1062.6 1372.3 1052.5 1372.8 1050.1 1373.2 1033.5 1373.7 1049.1 1374.2 1069.3 1374.7 1048.8 1375.2 1054.7 1375.6 1065.7 1376.1 1042.2 1376.6 1050.5 1377.1 1050.8 1377.6 1042.7 1378.0 1056.1 1378.5 1064.6 1379.0 1056.2 1379.5 1049.6 1380.0 1052.0 1380.5 1030.9 1380.9 1054.8 1381.4 1038.5 1381.9 1061.6 1382.4 1040.6 1382.9 1060.9 1383.3 1043.2 1383.8 1043.9 1384.3 1030.9 1384.8 1053.7 1385.3 1053.3 1385.7 1061.5 1386.2 1040.2 1386.7 1031.1 1387.2 1059.5 1387.7 1019.6 1388.1 1037.1 1388.6 1059.5 1389.1 1047.7 1389.6 1034.1 1390.1 1046.4 1390.5 1064.8 1391.0 1047.7 1391.5 1045.2 1392.0 1062.5 1392.5 1042.8 1392.9 1051.6 1393.4 1064.5 1393.9 1031.0 1394.4 1041.3 1394.9 1058.4 1395.3 1049.0 1395.8 1070.5 1396.3 1048.9 1396.8 1051.2 1397.3 1033.9 1397.7 1037.7 1398.2 1067.4 1398.7 1041.9 1399.2 1052.8 1399.7 1046.7 1400.2 1077.0 1400.6 1031.3 1401.1 1056.5 1401.6 1050.0 1402.1 1038.1 1402.6 1046.6 1403.0 1057.3 1403.5 1083.1 1404.0 1065.8 1404.5 1057.9 1405.0 1053.4 1405.4 1034.6 1405.9 1035.0 1406.4 1057.1 1406.9 1033.7 1407.4 1064.4 1407.8 1057.8 1408.3 1068.1 1408.8 1055.7 1409.3 1041.7 1409.8 1065.9 1410.2 1040.5 1410.7 1052.5 1411.2 1050.1 1411.7 1042.9 1412.2 1050.7 1412.6 1053.1 1413.1 1042.4 1413.6 1069.5 1414.1 1046.6 1414.6 1047.8 1415.0 1058.1 1415.5 1048.8 1416.0 1051.4 1416.5 1054.2 1417.0 1032.3 1417.4 1073.4 1417.9 1040.3 1418.4 1032.2 1418.9 1056.1 1419.4 1056.6 1419.9 1054.3 1420.3 1042.1 1420.8 1041.4 1421.3 1052.4 1421.8 1050.9 1422.3 1063.5 1422.7 1051.4 1423.2 1058.3 1423.7 1051.4 1424.2 1031.5 1424.7 1041.6 1425.1 1069.1 1425.6 1055.3 1426.1 1066.8 1426.6 1052.5 1427.1 1052.2 1427.5 1046.9 1428.0 1065.7 1428.5 1070.8 1429.0 1042.9 1429.5 1056.4 1429.9 1044.8 1430.4 1054.9 1430.9 1036.4 1431.4 1037.5 1431.9 1059.7 1432.3 1055.9 1432.8 1052.4 1433.3 1070.1 1433.8 1045.0 1434.3 1051.6 1434.7 1067.8 1435.2 1053.4 1435.7 1047.1 1436.2 1064.6 1436.7 1051.6 1437.1 1049.2 1437.6 1039.2 1438.1 1035.8 1438.6 1034.2 1439.1 1041.6 1439.6 1049.3 1440.0 1056.7 1440.5 1036.4 1441.0 1055.4 1441.5 1068.7 1442.0 1069.4 1442.4 1046.9 1442.9 1084.1 1443.4 1062.3 1443.9 1065.8 1444.4 1073.4 1444.8 1042.1 1445.3 1048.9 1445.8 1054.1 1446.3 1057.8 1446.8 1041.3 1447.2 1064.2 1447.7 1047.3 1448.2 1057.7 1448.7 1061.8 1449.2 1046.6 1449.6 1070.4 1450.1 1044.5 1450.6 1029.9 1451.1 1066.9 1451.6 1053.0 1452.0 1035.3 1452.5 1050.0 1453.0 1057.9 1453.5 1052.3 1454.0 1061.7 1454.4 1043.4 1454.9 1054.1 1455.4 1048.7 1455.9 1049.5 1456.4 1057.4 1456.8 1065.8 1457.3 1051.0 1457.8 1048.9 1458.3 1061.7 1458.8 1056.2 1459.3 1027.6 1459.7 1051.5 1460.2 1047.2 1460.7 1041.4 1461.2 1045.6 1461.7 1044.7 1462.1 1074.8 1462.6 1046.1 1463.1 1047.9 1463.6 1030.3 1464.1 1049.5 1464.5 1061.0 1465.0 1045.0 1465.5 1058.0 1466.0 1055.3 1466.5 1051.6 1466.9 1084.5 1467.4 1043.2 1467.9 1055.6 1468.4 1037.4 1468.9 1062.7 1469.3 1044.6 1469.8 1045.7 1470.3 1060.8 1470.8 1044.7 1471.3 1062.3 1471.7 1031.3 1472.2 1061.8 1472.7 1043.7 1473.2 1028.8 1473.7 1064.3 1474.1 1072.2 1474.6 1057.3 1475.1 1072.0 1475.6 1063.0 1476.1 1044.1 1476.5 1071.7 1477.0 1051.8 1477.5 1065.8 1478.0 1057.7 1478.5 1044.4 1479.0 1049.1 1479.4 1040.6 1479.9 1059.1 1480.4 1038.0 1480.9 1076.0 1481.4 1054.8 1481.8 1035.5 1482.3 1055.8 1482.8 1040.6 1483.3 1069.1 1483.8 1058.4 1484.2 1041.4 1484.7 1068.9 1485.2 1064.8 1485.7 1059.3 1486.2 1040.2 1486.6 1042.3 1487.1 1081.0 1487.6 1033.8 1488.1 1057.4 1488.6 1056.2 1489.0 1039.6 1489.5 1037.0 1490.0 1034.7 1490.5 1065.7 1491.0 1042.8 1491.4 1064.4 1491.9 1060.9 1492.4 1054.4 1492.9 1049.7 1493.4 1047.9 1493.8 1056.4 1494.3 1047.3 1494.8 1038.7 1495.3 1050.2 1495.8 1074.4 1496.2 1069.9 1496.7 1048.0 1497.2 1035.2 1497.7 1040.3 1498.2 1044.0 1498.7 1056.7 1499.1 1053.4 1499.6 1066.0 1500.1 1074.1 1500.6 1052.8 1501.1 1066.4 1501.5 1059.2 1502.0 1045.3 1502.5 1048.9 1503.0 1043.9 1503.5 1032.5 1503.9 1064.8 1504.4 1066.6 1504.9 1061.8 1505.4 1051.9 1505.9 1056.9 1506.3 1059.3 1506.8 1056.8 1507.3 1050.4 1507.8 1054.1 1508.3 1054.8 1508.7 1065.4 1509.2 1067.3 1509.7 1042.1 1510.2 1084.8 1510.7 1061.5 1511.1 1047.4 1511.6 1037.9 1512.1 1060.2 1512.6 1067.5 1513.1 1046.1 1513.5 1051.2 1514.0 1075.0 1514.5 1066.6 1515.0 1063.9 1515.5 1062.9 1515.9 1079.2 1516.4 1050.3 1516.9 1059.6 1517.4 1050.0 1517.9 1043.1 1518.4 1038.0 1518.8 1048.7 1519.3 1046.8 1519.8 1048.9 1520.3 1062.5 1520.8 1050.2 1521.2 1045.8 1521.7 1051.0 1522.2 1049.0 1522.7 1052.8 1523.2 1069.7 1523.6 1050.8 1524.1 1057.1 1524.6 1053.6 1525.1 1048.9 1525.6 1060.0 1526.0 1060.9 1526.5 1056.0 1527.0 1065.1 1527.5 1057.5 1528.0 1067.5 1528.4 1050.2 1528.9 1065.0 1529.4 1062.5 1529.9 1054.1 1530.4 1050.2 1530.8 1047.9 1531.3 1044.7 1531.8 1050.2 1532.3 1050.8 1532.8 1052.4 1533.2 1079.2 1533.7 1054.5 1534.2 1045.4 1534.7 1072.0 1535.2 1067.5 1535.6 1049.2 1536.1 1065.1 1536.6 1060.3 1537.1 1067.0 1537.6 1051.8 1538.0 1058.7 1538.5 1054.7 1539.0 1050.3 1539.5 1056.8 1540.0 1073.0 1540.5 1053.9 1540.9 1049.8 1541.4 1049.7 1541.9 1063.9 1542.4 1055.2 1542.9 1042.8 1543.3 1043.1 1543.8 1052.5 1544.3 1065.3 1544.8 1072.8 1545.3 1068.9 1545.7 1055.8 1546.2 1061.8 1546.7 1069.2 1547.2 1051.9 1547.7 1021.0 1548.1 1075.4 1548.6 1070.7 1549.1 1063.3 1549.6 1072.3 1550.1 1066.7 1550.5 1050.8 1551.0 1044.0 1551.5 1055.0 1552.0 1046.6 1552.5 1052.5 1552.9 1066.5 1553.4 1042.7 1553.9 1056.4 1554.4 1080.6 1554.9 1058.3 1555.3 1042.4 1555.8 1060.8 1556.3 1055.1 1556.8 1069.9 1557.3 1052.4 1557.7 1075.0 1558.2 1071.0 1558.7 1079.5 1559.2 1063.4 1559.7 1075.8 1560.2 1035.0 1560.6 1043.6 1561.1 1060.8 1561.6 1056.9 1562.1 1051.5 1562.6 1061.8 1563.0 1061.9 1563.5 1064.6 1564.0 1039.0 1564.5 1067.1 1565.0 1064.1 1565.4 1054.0 1565.9 1049.2 1566.4 1064.7 1566.9 1056.1 1567.4 1055.1 1567.8 1067.6 1568.3 1075.7 1568.8 1056.9 1569.3 1051.5 1569.8 1058.3 1570.2 1052.8 1570.7 1041.4 1571.2 1065.6 1571.7 1061.3 1572.2 1046.1 1572.6 1053.2 1573.1 1055.0 1573.6 1046.7 1574.1 1068.8 1574.6 1061.6 1575.0 1044.5 1575.5 1037.7 1576.0 1079.3 1576.5 1033.1 1577.0 1068.7 1577.4 1063.9 1577.9 1066.1 1578.4 1047.0 1578.9 1056.3 1579.4 1055.2 1579.9 1077.8 1580.3 1061.7 1580.8 1042.2 1581.3 1064.5 1581.8 1070.0 1582.3 1071.2 1582.7 1055.9 1583.2 1060.5 1583.7 1051.5 1584.2 1058.0 1584.7 1065.1 1585.1 1066.7 1585.6 1041.2 1586.1 1061.4 1586.6 1065.3 1587.1 1063.8 1587.5 1030.4 1588.0 1056.2 1588.5 1072.2 1589.0 1079.0 1589.5 1060.8 1589.9 1061.5 1590.4 1046.4 1590.9 1055.7 1591.4 1058.8 1591.9 1082.4 1592.3 1033.3 1592.8 1073.6 1593.3 1072.8 1593.8 1073.8 1594.3 1048.9 1594.7 1061.6 1595.2 1058.1 1595.7 1065.1 1596.2 1055.6 1596.7 1052.3 1597.1 1052.2 1597.6 1047.3 1598.1 1074.1 1598.6 1049.2 1599.1 1051.0 1599.6 1071.1 1600.0 1057.0 1600.5 1057.9 1601.0 1070.8 1601.5 1059.9 1602.0 1066.1 1602.4 1059.0 1602.9 1035.2 1603.4 1051.3 1603.9 1063.4 1604.4 1055.0 1604.8 1072.2 1605.3 1054.4 1605.8 1056.7 1606.3 1053.5 1606.8 1055.5 1607.2 1081.9 1607.7 1051.6 1608.2 1039.5 1608.7 1049.8 1609.2 1039.7 1609.6 1058.9 1610.1 1059.4 1610.6 1055.1 1611.1 1051.7 1611.6 1054.3 1612.0 1035.4 1612.5 1058.0 1613.0 1052.8 1613.5 1078.5 1614.0 1058.8 1614.4 1062.2 1614.9 1050.6 1615.4 1058.9 1615.9 1071.9 1616.4 1049.1 1616.8 1062.8 1617.3 1060.9 1617.8 1070.0 1618.3 1057.4 1618.8 1061.4 1619.3 1058.8 1619.7 1080.3 1620.2 1074.9 1620.7 1061.9 1621.2 1070.0 1621.7 1052.4 1622.1 1062.1 1622.6 1062.7 1623.1 1064.6 1623.6 1079.3 1624.1 1059.8 1624.5 1058.1 1625.0 1069.4 1625.5 1067.2 1626.0 1079.6 1626.5 1099.7 1626.9 1072.8 1627.4 1061.9 1627.9 1060.2 1628.4 1079.9 1628.9 1053.4 1629.3 1060.6 1629.8 1068.3 1630.3 1068.3 1630.8 1058.4 1631.3 1082.6 1631.7 1078.6 1632.2 1080.4 1632.7 1060.6 1633.2 1055.0 1633.7 1070.6 1634.1 1062.6 1634.6 1062.1 1635.1 1061.6 1635.6 1077.4 1636.1 1057.1 1636.5 1099.2 1637.0 1040.2 1637.5 1060.2 1638.0 1062.4 1638.5 1057.3 1639.0 1063.7 1639.4 1060.7 1639.9 1047.5 1640.4 1067.8 1640.9 1086.9 1641.4 1049.2 1641.8 1055.8 1642.3 1051.7 1642.8 1065.1 1643.3 1049.4 1643.8 1064.6 1644.2 1065.9 1644.7 1069.8 1645.2 1077.0 1645.7 1055.7 1646.2 1053.7 1646.6 1070.8 1647.1 1075.6 1647.6 1060.8 1648.1 1043.5 1648.6 1074.6 1649.0 1074.4 1649.5 1039.6 1650.0 1071.7 1650.5 1060.2 1651.0 1044.4 1651.4 1077.7 1651.9 1070.1 1652.4 1088.8 1652.9 1068.5 1653.4 1063.9 1653.8 1077.0 1654.3 1088.4 1654.8 1076.5 1655.3 1064.6 1655.8 1068.3 1656.2 1063.6 1656.7 1054.1 1657.2 1061.3 1657.7 1068.2 1658.2 1060.4 1658.7 1074.0 1659.1 1057.7 1659.6 1069.2 1660.1 1051.3 1660.6 1045.5 1661.1 1075.6 1661.5 1067.3 1662.0 1060.6 1662.5 1073.4 1663.0 1093.9 1663.5 1070.5 1663.9 1079.4 1664.4 1061.8 1664.9 1067.9 1665.4 1065.5 1665.9 1091.0 1666.3 1077.5 1666.8 1055.1 1667.3 1048.6 1667.8 1094.6 1668.3 1074.2 1668.7 1068.2 1669.2 1062.0 1669.7 1066.2 1670.2 1058.2 1670.7 1062.6 1671.1 1053.1 1671.6 1065.7 1672.1 1061.1 1672.6 1078.4 1673.1 1070.2 1673.5 1047.6 1674.0 1060.5 1674.5 1078.1 1675.0 1065.5 1675.5 1061.0 1675.9 1074.5 1676.4 1070.8 1676.9 1055.5 1677.4 1072.9 1677.9 1066.8 1678.4 1053.1 1678.8 1060.0 1679.3 1069.2 1679.8 1057.1 1680.3 1065.1 1680.8 1071.2 1681.2 1062.1 1681.7 1055.5 1682.2 1056.6 1682.7 1061.1 1683.2 1050.3 1683.6 1085.8 1684.1 1062.2 1684.6 1067.0 1685.1 1066.6 1685.6 1079.3 1686.0 1046.6 1686.5 1072.9 1687.0 1062.9 1687.5 1059.7 1688.0 1046.3 1688.4 1073.5 1688.9 1073.7 1689.4 1069.1 1689.9 1062.6 1690.4 1051.8 1690.8 1058.3 1691.3 1075.7 1691.8 1067.4 1692.3 1078.3 1692.8 1068.7 1693.2 1077.3 1693.7 1080.8 1694.2 1080.0 1694.7 1053.7 1695.2 1074.5 1695.6 1066.5 1696.1 1086.2 1696.6 1070.2 1697.1 1080.2 1697.6 1061.0 1698.1 1073.4 1698.5 1062.2 1699.0 1059.4 1699.5 1070.3 1700.0 1067.9 1700.5 1073.2 1700.9 1048.3 1701.4 1051.4 1701.9 1084.8 1702.4 1059.7 1702.9 1065.8 1703.3 1074.3 1703.8 1078.3 1704.3 1079.4 1704.8 1056.8 1705.3 1075.3 1705.7 1069.6 1706.2 1060.9 1706.7 1066.3 1707.2 1073.9 1707.7 1075.8 1708.1 1063.6 1708.6 1076.9 1709.1 1050.5 1709.6 1064.9 1710.1 1043.2 1710.5 1084.5 1711.0 1072.5 1711.5 1059.6 1712.0 1061.7 1712.5 1064.1 1712.9 1065.3 1713.4 1047.3 1713.9 1058.1 1714.4 1074.4 1714.9 1071.6 1715.3 1056.3 1715.8 1071.0 1716.3 1080.1 1716.8 1054.8 1717.3 1046.7 1717.8 1047.2 1718.2 1077.4 1718.7 1065.2 1719.2 1061.5 1719.7 1054.7 1720.2 1079.6 1720.6 1066.2 1721.1 1073.2 1721.6 1064.7 1722.1 1048.4 1722.6 1081.1 1723.0 1061.1 1723.5 1074.9 1724.0 1070.8 1724.5 1060.4 1725.0 1081.1 1725.4 1077.7 1725.9 1073.2 1726.4 1084.7 1726.9 1062.9 1727.4 1074.5 1727.8 1063.0 1728.3 1064.2 1728.8 1075.2 1729.3 1049.3 1729.8 1071.9 1730.2 1055.2 1730.7 1075.3 1731.2 1048.2 1731.7 1059.8 1732.2 1078.4 1732.6 1067.5 1733.1 1074.4 1733.6 1061.2 1734.1 1082.8 1734.6 1066.4 1735.0 1081.0 1735.5 1059.3 1736.0 1056.2 1736.5 1074.3 1737.0 1057.5 1737.5 1068.4 1737.9 1086.1 1738.4 1062.3 1738.9 1054.4 1739.4 1074.1 1739.9 1053.4 1740.3 1063.8 1740.8 1060.0 1741.3 1062.7 1741.8 1059.9 1742.3 1036.3 1742.7 1069.1 1743.2 1076.2 1743.7 1076.0 1744.2 1068.0 1744.7 1070.3 1745.1 1049.7 1745.6 1053.3 1746.1 1081.4 1746.6 1058.2 1747.1 1047.8 1747.5 1061.9 1748.0 1058.2 1748.5 1067.5 1749.0 1070.1 1749.5 1049.4 1749.9 1065.8 1750.4 1074.5 1750.9 1068.5 1751.4 1058.5 1751.9 1074.3 1752.3 1067.1 1752.8 1049.7 1753.3 1049.3 1753.8 1068.9 1754.3 1050.1 1754.7 1052.1 1755.2 1068.9 1755.7 1063.4 1756.2 1054.4 1756.7 1062.9 1757.2 1055.9 1757.6 1075.1 1758.1 1061.6 1758.6 1086.8 1759.1 1081.5 1759.6 1076.2 1760.0 1069.9 1760.5 1067.3 1761.0 1058.1 1761.5 1080.9 1762.0 1092.9 1762.4 1063.0 1762.9 1064.9 1763.4 1028.2 1763.9 1061.6 1764.4 1053.5 1764.8 1088.9 1765.3 1052.1 1765.8 1066.2 1766.3 1075.7 1766.8 1071.6 1767.2 1051.7 1767.7 1068.1 1768.2 1070.0 1768.7 1065.1 1769.2 1063.9 1769.6 1039.6 1770.1 1066.5 1770.6 1055.3 1771.1 1071.7 1771.6 1049.5 1772.0 1047.2 1772.5 1065.5 1773.0 1061.2 1773.5 1048.2 1774.0 1058.1 1774.4 1056.2 1774.9 1064.1 1775.4 1063.8 1775.9 1047.4 1776.4 1070.3 1776.9 1075.4 1777.3 1043.2 1777.8 1056.4 1778.3 1074.4 1778.8 1046.6 1779.3 1050.1 1779.7 1045.7 1780.2 1077.9 1780.7 1070.9 1781.2 1049.6 1781.7 1070.2 1782.1 1071.3 1782.6 1071.6 1783.1 1073.0 1783.6 1073.8 1784.1 1058.3 1784.5 1075.1 1785.0 1056.3 1785.5 1086.7 1786.0 1056.2 1786.5 1067.9 1786.9 1081.9 1787.4 1060.6 1787.9 1064.8 1788.4 1064.6 1788.9 1060.7 1789.3 1071.5 1789.8 1078.0 1790.3 1055.7 1790.8 1079.2 1791.3 1051.8 1791.7 1059.3 1792.2 1039.6 1792.7 1043.6 1793.2 1070.2 1793.7 1049.3 1794.1 1054.3 1794.6 1040.8 1795.1 1071.6 1795.6 1053.0 1796.1 1050.8 1796.6 1083.5 1797.0 1064.7 1797.5 1064.7 1798.0 1051.5 1798.5 1083.9 1799.0 1059.5 1799.4 1071.5 1799.9 1069.7 1800.4 1049.8 1800.9 1062.1 1801.4 1068.0 1801.8 1071.9 1802.3 1068.4 1802.8 1055.7 1803.3 1067.1 1803.8 1073.0 1804.2 1047.5 1804.7 1064.5 1805.2 1066.3"/>
<path stroke="#00ff00" d="M123.5 65.9L124.0 73.4 124.5 74.4 124.9 92.5 125.4 141.1 125.9 77.1 126.4 136.0 126.9 145.9 127.3 113.2 127.8 108.3 128.3 136.8 128.8 155.6 129.3 178.7 129.7 153.3 130.2 171.1 130.7 128.5 131.2 121.5 131.7 105.2 132.1 119.8 132.6 139.4 133.1 153.7 133.6 122.7 134.1 171.5 134.6 153.3 135.0 143.4 135.5 142.6 136.0 205.6 136.5 166.6 137.0 144.9 137.4 145.2 137.9 208.1 138.4 156.5 138.9 196.7 139.4 203.2 139.8 122.2 140.3 204.1 140.8 171.1 141.3 153.0 141.8 166.0 142.2 191.4 142.7 188.4 143.2 190.6 143.7 166.4 144.2 211.5 144.6 217.4 145.1 225.8 145.6 208.6 146.1 229.3 146.6 234.9 147.0 205.6 147.5 210.6 148.0 205.3 148.5 205.8 149.0 213.9 149.4 158.7 149.9 190.3 150.4 209.4 150.9 153.7 151.4 169.5 151.8 237.1 152.3 180.4 152.8 194.7 153.3 214.3 153.8 196.9 154.3 189.7 154.7 198.5 155.2 201.6 155.7 199.5 156.2 217.4 156.7 249.9 157.1 223.6 157.6 252.6 158.1 234.5 158.6 237.8 159.1 233.5 159.5 215.3 160.0 232.3 160.5 230.9 161.0 201.1 161.5 243.0 161.9 240.5 162.4 237.0 162.9 217.9 163.4 173.6 163.9 264.5 164.3 232.0 164.8 186.9 165.3 249.9 165.8 221.4 166.3 252.8 166.7 236.6 167.2 264.7 167.7 246.0 168.2 248.0 168.7 246.2 169.1 270.8 169.6 216.5 170.1 271.6 170.6 261.8 171.1 235.6 171.5 248.6 172.0 239.9 172.5 251.9 173.0 272.1 173.5 237.6 174.0 269.6 174.4 274.9 174.9 269.2 175.4 290.3 175.9 255.5 176.4 273.2 176.8 313.1 177.3 260.5 177.8 257.8 178.3 261.9 178.8 275.6 179.2 250.2 179.7 259.3 180.2 227.3 180.7 243.7 181.2 245.3 181.6 243.3 182.1 259.9 182.6 285.8 183.1 263.3 183.6 243.9 184.0 279.1 184.5 278.6 185.0 245.4 185.5 280.4 186.0 254.8 186.4 265.6 186.9 264.4 187.4 299.6 187.9 264.9 188.4 277.1 188.8 289.3 189.3 309.1 189.8 313.6 190.3 266.8 190.8 316.1 191.2 298.1 191.7 318.9 192.2 317.1 192.7 283.7 193.2 297.5 193.7 291.5 194.1 307.3 194.6 336.6 195.1 303.0 195.6 288.6 196.1 359.6 196.5 283.9 197.0 306.9 197.5 307.8 198.0 281.7 198.5 327.9 198.9 335.0 199.4 311.3 199.9 315.6 200.4 312.1 200.9 278.5 201.3 323.5 201.8 292.4 202.3 300.0 202.8 330.8 203.3 343.6 203.7 305.9 204.2 351.0 204.7 366.0 205.2 332.5 205.7 328.4 206.1 335.8 206.6 323.9 207.1 315.3 207.6 349.2 208.1 352.0 208.5 326.7 209.0 329.9 209.5 326.3 210.0 325.7 210.5 320.9 210.9 310.3 211.4 363.6 211.9 337.3 212.4 347.3 212.9 385.6 213.4 337.0 213.8 361.0 214.3 320.0 214.8 336.6 215.3 366.2 215.8 346.3 216.2 321.8 216.7 320.5 217.2 361.9 217.7 335.3 218.2 371.0 218.6 363.1 219.1 351.1 219.6 357.4 220.1 375.9 220.6 361.3 221.0 340.9 221.5 369.4 222.0 355.4 222.5 358.9 223.0 376.9 223.4 372.5 223.9 388.1 224.4 363.0 224.9 358.0 225.4 361.2 225.8 377.3 226.3 352.7 226.8 362.9 227.3 353.2 227.8 355.4 228.2 368.8 228.7 424.9 229.2 365.7 229.7 380.0 230.2 377.1 230.6 371.9 231.1 376.8 231.6 418.3 232.1 371.6 232.6 411.7 233.1 391.8 233.5 360.0 234.0 365.1 234.5 369.4 235.0 356.5 235.5 404.2 235.9 388.9 236.4 391.6 236.9 358.8 237.4 390.6 237.9 369.6 238.3 432.5 238.8 379.3 239.3 387.3 239.8 390.2 240.3 371.5 240.7 373.4 241.2 373.5 241.7 400.0 242.2 366.7 242.7 378.8 243.1 389.3 243.6 373.8 244.1 353.7 244.6 357.4 245.1 373.9 245.5 362.4 246.0 403.2 246.5 383.3 247.0 382.5 247.5 361.9 247.9 394.3 248.4 375.8 248.9 363.3 249.4 370.0 249.9 433.7 250.3 370.8 250.8 365.4 251.3 408.0 251.8 399.4 252.3 377.9 252.8 413.0 253.2 353.2 253.7 374.0 254.2 349.6 254.7 412.9 255.2 385.1 255.6 438.6 256.1 393.9 256.6 394.3 257.1 360.5 257.6 359.4 258.0 373.9 258.5 403.1 259.0 362.2 259.5 334.0 260.0 401.8 260.4 403.0 260.9 364.5 261.4 392.9 261.9 407.1 262.4 408.1 262.8 350.6 263.3 384.8 263.8 367.1 264.3 403.5 264.8 385.1 265.2 357.7 265.7 385.2 266.2 395.5 266.7 350.3 267.2 354.4 267.6 368.5 268.1 376.3 268.6 370.7 269.1 344.0 269.6 349.5 270.0 381.7 270.5 391.2 271.0 363.8 271.5 386.0 272.0 422.2 272.5 378.2 272.9 373.4 273.4 367.9 273.9 392.8 274.4 387.8 274.9 388.3 275.3 375.2 275.8 391.9 276.3 392.0 276.8 380.3 277.3 407.9 277.7 350.7 278.2 398.6 278.7 381.0 279.2 401.5 279.7 424.0 280.1 385.0 280.6 380.0 281.1 383.6 281.6 413.4 282.1 416.8 282.5 387.8 283.0 398.0 283.5 422.5 284.0 395.9 284.5 352.9 284.9 367.4 285.4 374.5 285.9 393.1 286.4 372.9 286.9 414.3 287.3 374.9 287.8 418.2 288.3 371.2 288.8 413.6 289.3 389.2 289.7 415.4 290.2 426.9 290.7 422.5 291.2 407.6 291.7 369.7 292.2 368.4 292.6 318.1 293.1 417.0 293.6 412.6 294.1 407.5 294.6 361.7 295.0 444.5 295.5 371.6 296.0 404.4 296.5 351.5 297.0 372.9 297.4 412.1 297.9 407.9 298.4 362.9 298.9 384.1 299.4 409.8 299.8 346.7 300.3 402.2 300.8 352.7 301.3 399.1 301.8 380.1 302.2 406.5 302.7 374.4 303.2 377.7 303.7 377.5 304.2 364.5 304.6 378.7 305.1 362.8 305.6 372.4 306.1 398.8 306.6 377.3 307.0 407.0 307.5 399.1 308.0 401.7 308.5 359.6 309.0 392.7 309.4 414.6 309.9 403.1 310.4 409.9 310.9 416.1 311.4 351.3 311.9 395.7 312.3 395.2 312.8 379.3 313.3 355.4 313.8 386.5 314.3 379.9 314.7 424.9 315.2 411.2 315.7 374.4 316.2 360.5 316.7 364.9 317.1 381.9 317.6 367.4 318.1 425.1 318.6 357.4 319.1 380.9 319.5 385.9 320.0 391.6 320.5 362.9 321.0 377.9 321.5 386.5 321.9 389.6 322.4 370.1 322.9 376.0 323.4 387.2 323.9 423.3 324.3 356.8 324.8 397.3 325.3 416.1 325.8 352.7 326.3 413.3 326.7 412.4 327.2 383.8 327.7 403.0 328.2 414.0 328.7 379.2 329.1 387.3 329.6 359.6 330.1 367.7 330.6 383.9 331.1 380.5 331.6 416.7 332.0 377.6 332.5 356.5 333.0 401.1 333.5 401.8 334.0 390.5 334.4 379.1 334.9 365.1 335.4 368.0 335.9 414.1 336.4 398.2 336.8 383.7 337.3 390.3 337.8 374.0 338.3 361.5 338.8 371.0 339.2 379.7 339.7 345.8 340.2 349.8 340.7 343.4 341.2 370.4 341.6 392.7 342.1 351.0 342.6 354.9 343.1 344.7 343.6 368.6 344.0 352.9 344.5 356.5 345.0 354.2 345.5 425.2 346.0 375.1 346.4 362.9 346.9 366.9 347.4 394.7 347.9 396.7 348.4 381.4 348.8 333.7 349.3 396.1 349.8 397.6 350.3 391.1 350.8 384.4 351.3 375.7 351.7 399.2 352.2 367.0 352.7 395.3 353.2 362.7 353.7 364.4 354.1 362.8 354.6 360.0 355.1 361.1 355.6 387.2 356.1 403.9 356.5 355.5 357.0 348.0 357.5 396.2 358.0 362.3 358.5 374.8 358.9 371.8 359.4 387.5 359.9 349.2 360.4 391.8 360.9 384.1 361.3 320.2 361.8 363.1 362.3 358.1 362.8 373.8 363.3 364.1 363.7 349.2 364.2 357.4 364.7 371.8 365.2 365.0 365.7 360.5 366.1 410.5 366.6 374.5 367.1 339.3 367.6 365.2 368.1 369.4 368.5 341.2 369.0 364.4 369.5 344.0 370.0 314.5 370.5 368.6 371.0 374.4 371.4 373.9 371.9 357.5 372.4 347.8 372.9 365.1 373.4 368.9 373.8 379.0 374.3 387.7 374.8 376.3 375.3 346.7 375.8 357.6 376.2 328.8 376.7 373.4 377.2 370.3 377.7 382.9 378.2 367.9 378.6 390.5 379.1 342.5 379.6 363.9 380.1 351.5 380.6 351.8 381.0 318.9 381.5 340.2 382.0 313.7 382.5 348.3 383.0 340.4 383.4 357.6 383.9 316.1 384.4 343.2 384.9 348.5 385.4 305.1 385.8 387.8 386.3 363.2 386.8 336.7 387.3 392.3 387.8 380.9 388.2 300.2 388.7 345.8 389.2 338.8 389.7 352.7 390.2 331.7 390.7 346.1 391.1 353.1 391.6 298.7 392.1 353.8 392.6 380.8 393.1 353.8 393.5 375.4 394.0 384.6 394.5 357.4 395.0 359.6 395.5 360.0 395.9 342.6 396.4 399.6 396.9 361.1 397.4 363.6 397.9 372.0 398.3 383.2 398.8 323.4 399.3 330.5 399.8 355.1 400.3 363.2 400.7 326.7 401.2 323.3 401.7 368.5 402.2 367.6 402.7 346.3 403.1 346.2 403.6 338.9 404.1 327.5 404.6 333.8 405.1 355.8 405.5 348.3 406.0 372.6 406.5 324.4 407.0 316.4 407.5 364.3 407.9 332.4 408.4 345.7 408.9 353.0 409.4 325.8 409.9 320.0 410.3 358.1 410.8 295.2 411.3 365.6 411.8 315.1 412.3 369.6 412.8 359.3 413.2 357.8 413.7 363.4 414.2 356.1 414.7 324.4 415.2 370.9 415.6 356.3 416.1 363.6 416.6 351.2 417.1 348.6 417.6 373.7 418.0 374.2 418.5 359.5 419.0 329.4 419.5 335.2 420.0 333.9 420.4 378.9 420.9 366.3 421.4 357.4 421.9 353.2 422.4 341.0 422.8 374.0 423.3 335.2 423.8 339.5 424.3 375.5 424.8 371.3 425.2 356.9 425.7 332.0 426.2 332.3 426.7 377.1 427.2 367.5 427.6 391.3 428.1 350.4 428.6 359.0 429.1 341.2 429.6 396.1 430.0 326.2 430.5 375.0 431.0 396.3 431.5 342.5 432.0 332.7 432.5 342.0 432.9 333.6 433.4 371.3 433.9 362.3 434.4 345.5 434.9 359.0 435.3 397.2 435.8 360.4 436.3 357.7 436.8 407.4 437.3 348.1 437.7 357.4 438.2 398.5 438.7 368.6 439.2 328.0 439.7 350.2 440.1 321.4 440.6 355.5 441.1 376.2 441.6 335.1 442.1 402.5 442.5 397.2 443.0 387.9 443.5 356.0 444.0 372.4 444.5 384.0 444.9 392.9 445.4 400.1 445.9 327.9 446.4 359.0 446.9 349.9 447.3 367.7 447.8 379.7 448.3 424.3 448.8 374.2 449.3 395.9 449.7 379.6 450.2 377.0 450.7 415.2 451.2 355.4 451.7 393.7 452.2 423.9 452.6 453.1 453.1 370.3 453.6 362.1 454.1 355.8 454.6 374.3 455.0 383.6 455.5 384.6 456.0 408.8 456.5 378.9 457.0 392.9 457.4 351.8 457.9 373.4 458.4 384.8 458.9 338.6 459.4 391.9 459.8 408.8 460.3 392.5 460.8 396.1 461.3 392.1 461.8 367.7 462.2 394.6 462.7 382.5 463.2 397.1 463.7 397.3 464.2 399.1 464.6 369.4 465.1 396.8 465.6 435.7 466.1 419.3 466.6 395.3 467.0 385.4 467.5 422.5 468.0 402.2 468.5 365.4 469.0 394.2 469.4 439.9 469.9 369.2 470.4 407.0 470.9 390.3 471.4 405.5 471.9 398.8 472.3 389.6 472.8 354.3 473.3 404.9 473.8 410.8 474.3 407.9 474.7 388.8 475.2 399.0 475.7 459.7 476.2 389.5 476.7 407.1 477.1 388.2 477.6 410.6 478.1 421.3 478.6 442.4 479.1 422.2 479.5 418.2 480.0 426.5 480.5 431.6 481.0 419.5 481.5 420.6 481.9 447.6 482.4 407.3 482.9 421.3 483.4 404.3 483.9 413.5 484.3 456.6 484.8 410.8 485.3 437.2 485.8 471.8 486.3 438.9 486.7 425.1 487.2 412.7 487.7 376.0 488.2 410.3 488.7 411.6 489.1 452.1 489.6 447.2 490.1 405.8 490.6 447.0 491.1 421.1 491.6 474.0 492.0 467.4 492.5 451.2 493.0 429.6 493.5 476.2 494.0 458.4 494.4 465.3 494.9 453.2 495.4 437.3 495.9 460.4 496.4 427.2 496.8 462.3 497.3 450.2 497.8 412.3 498.3 458.2 498.8 447.6 499.2 441.3 499.7 448.5 500.2 467.5 500.7 428.0 501.2 430.2 501.6 469.0 502.1 458.3 502.6 418.9 503.1 458.7 503.6 421.3 504.0 472.6 504.5 464.7 505.0 469.9 505.5 428.5 506.0 445.0 506.4 480.4 506.9 433.9 507.4 475.0 507.9 460.6 508.4 469.2 508.8 449.8 509.3 480.6 509.8 477.4 510.3 488.1 510.8 523.1 511.3 468.0 511.7 475.2 512.2 452.9 512.7 512.3 513.2 469.7 513.7 494.2 514.1 455.6 514.6 475.1 515.1 494.0 515.6 492.5 516.1 477.9 516.5 503.4 517.0 488.3 517.5 508.9 518.0 483.2 518.5 502.6 518.9 480.4 519.4 517.5 519.9 492.2 520.4 494.3 520.9 482.2 521.3 515.8 521.8 499.1 522.3 492.1 522.8 524.7 523.3 482.6 523.7 519.4 524.2 530.8 524.7 465.2 525.2 519.9 525.7 513.4 526.1 507.0 526.6 510.9 527.1 479.3 527.6 515.2 528.1 510.4 528.5 476.0 529.0 503.3 529.5 483.2 530.0 510.6 530.5 491.2 531.0 512.3 531.4 481.6 531.9 500.4 532.4 503.7 532.9 508.5 533.4 536.7 533.8 558.6 534.3 484.2 534.8 532.8 535.3 511.1 535.8 511.6 536.2 512.0 536.7 515.9 537.2 518.1 537.7 537.5 538.2 547.3 538.6 529.6 539.1 524.2 539.6 535.7 540.1 533.1 540.6 562.4 541.0 507.6 541.5 499.6 542.0 522.9 542.5 535.1 543.0 525.3 543.4 534.9 543.9 479.6 544.4 516.5 544.9 519.4 545.4 506.6 545.8 522.2 546.3 530.4 546.8 543.6 547.3 518.4 547.8 504.8 548.2 546.7 548.7 577.8 549.2 543.8 549.7 544.4 550.2 523.6 550.7 548.5 551.1 576.6 551.6 508.2 552.1 568.0 552.6 511.0 553.1 580.0 553.5 568.3 554.0 547.5 554.5 560.5 555.0 588.9 555.5 536.8 555.9 582.3 556.4 572.1 556.9 562.1 557.4 591.8 557.9 532.8 558.3 564.0 558.8 544.3 559.3 568.0 559.8 580.8 560.3 540.4 560.7 578.5 561.2 579.9 561.7 564.3 562.2 575.4 562.7 599.4 563.1 585.7 563.6 612.5 564.1 561.7 564.6 559.0 565.1 607.6 565.5 559.7 566.0 610.4 566.5 587.7 567.0 602.1 567.5 583.6 567.9 611.5 568.4 618.2 568.9 616.9 569.4 604.1 569.9 570.1 570.4 615.2 570.8 599.5 571.3 623.8 571.8 570.2 572.3 608.6 572.8 592.4 573.2 601.0 573.7 619.2 574.2 618.9 574.7 631.2 575.2 613.6 575.6 615.9 576.1 612.3 576.6 585.0 577.1 628.0 577.6 592.6 578.0 599.0 578.5 617.7 579.0 597.2 579.5 601.9 580.0 563.9 580.4 595.0 580.9 591.0 581.4 600.7 581.9 623.3 582.4 608.4 582.8 611.5 583.3 616.7 583.8 634.5 584.3 636.4 584.8 624.5 585.2 612.5 585.7 634.5 586.2 612.7 586.7 615.5 587.2 625.2 587.6 610.8 588.1 599.9 588.6 597.9 589.1 615.9 589.6 626.1 590.1 634.7 590.5 608.7 591.0 627.8 591.5 625.0 592.0 616.7 592.5 672.6 592.9 612.5 593.4 611.3 593.9 630.0 594.4 656.7 594.9 621.8 595.3 654.0 595.8 611.0 596.3 623.1 596.8 627.4 597.3 626.8 597.7 633.1 598.2 630.9 598.7 629.7 599.2 615.8 599.7 643.8 600.1 636.3 600.6 640.6 601.1 658.5 601.6 646.8 602.1 642.5 602.5 664.7 603.0 631.4 603.5 611.6 604.0 630.2 604.5 618.9 604.9 637.2 605.4 638.1 605.9 641.7 606.4 648.6 606.9 655.4 607.3 652.3 607.8 647.8 608.3 640.2 608.8 637.2 609.3 646.2 609.8 642.3 610.2 628.0 610.7 640.5 611.2 660.8 611.7 649.8 612.2 634.6 612.6 654.1 613.1 661.6 613.6 631.9 614.1 681.0 614.6 672.4 615.0 650.0 615.5 673.1 616.0 658.5 616.5 665.6 617.0 639.5 617.4 647.0 617.9 652.0 618.4 654.8 618.9 648.4 619.4 629.7 619.8 638.4 620.3 665.8 620.8 651.6 621.3 688.2 621.8 683.0 622.2 655.8 622.7 663.7 623.2 628.6 623.7 673.1 624.2 680.5 624.6 648.4 625.1 648.6 625.6 652.6 626.1 675.4 626.6 681.2 627.0 646.6 627.5 657.3 628.0 673.4 628.5 668.4 629.0 659.8 629.5 674.2 629.9 650.1 630.4 640.4 630.9 676.9 631.4 679.3 631.9 689.5 632.3 662.1 632.8 653.3 633.3 669.3 633.8 667.0 634.3 669.8 634.7 667.6 635.2 692.0 635.7 674.8 636.2 692.7 636.7 658.1 637.1 653.2 637.6 686.3 638.1 650.3 638.6 651.6 639.1 652.2 639.5 640.3 640.0 679.8 640.5 700.7 641.0 682.1 641.5 686.9 641.9 667.2 642.4 657.0 642.9 682.7 643.4 654.2 643.9 648.1 644.3 659.8 644.8 692.5 645.3 681.3 645.8 671.0 646.3 657.2 646.7 659.7 647.2 681.6 647.7 675.0 648.2 663.6 648.7 696.3 649.2 666.2 649.6 650.3 650.1 673.6 650.6 696.4 651.1 690.6 651.6 694.7 652.0 665.8 652.5 687.4 653.0 682.6 653.5 676.7 654.0 662.0 654.4 702.6 654.9 684.1 655.4 673.7 655.9 696.0 656.4 726.7 656.8 659.3 657.3 689.5 657.8 716.4 658.3 717.3 658.8 669.6 659.2 678.6 659.7 653.7 660.2 688.1 660.7 662.9 661.2 671.7 661.6 713.9 662.1 670.6 662.6 661.6 663.1 692.7 663.6 696.8 664.0 698.0 664.5 714.8 665.0 684.3 665.5 694.5 666.0 708.5 666.4 691.5 666.9 722.8 667.4 716.6 667.9 701.5 668.4 698.7 668.9 703.2 669.3 708.7 669.8 670.8 670.3 682.7 670.8 691.7 671.3 691.3 671.7 695.4 672.2 696.4 672.7 708.4 673.2 702.0 673.7 713.7 674.1 713.8 674.6 708.0 675.1 702.4 675.6 697.5 676.1 723.2 676.5 703.0 677.0 714.6 677.5 724.6 678.0 715.1 678.5 685.5 678.9 699.6 679.4 745.3 679.9 685.7 680.4 733.8 680.9 695.1 681.3 715.1 681.8 731.7 682.3 697.7 682.8 731.3 683.3 678.3 683.7 712.8 684.2 705.1 684.7 722.8 685.2 729.2 685.7 736.4 686.1 736.0 686.6 710.8 687.1 703.0 687.6 725.4 688.1 709.8 688.6 684.1 689.0 683.3 689.5 712.5 690.0 712.9 690.5 721.2 691.0 723.5 691.4 694.2 691.9 725.8 692.4 702.3 692.9 728.7 693.4 721.6 693.8 748.1 694.3 728.7 694.8 714.1 695.3 719.2 695.8 724.4 696.2 733.4 696.7 737.0 697.2 710.6 697.7 708.6 698.2 737.9 698.6 726.3 699.1 744.0 699.6 734.9 700.1 755.0 700.6 738.3 701.0 708.2 701.5 721.4 702.0 737.7 702.5 711.7 703.0 729.3 703.4 740.3 703.9 747.7 704.4 744.0 704.9 705.7 705.4 749.4 705.8 716.2 706.3 732.2 706.8 717.8 707.3 746.5 707.8 730.6 708.3 735.8 708.7 739.1 709.2 731.2 709.7 722.3 710.2 755.7 710.7 742.4 711.1 745.5 711.6 705.2 712.1 701.5 712.6 760.1 713.1 744.9 713.5 705.4 714.0 740.3 714.5 735.0 715.0 718.0 715.5 727.0 715.9 762.9 716.4 722.5 716.9 741.6 717.4 721.3 717.9 709.9 718.3 772.6 718.8 745.0 719.3 726.8 719.8 728.7 720.3 730.2 720.7 717.9 721.2 741.6 721.7 744.6 722.2 728.0 722.7 733.9 723.1 714.3 723.6 738.9 724.1 703.9 724.6 733.4 725.1 758.0 725.5 730.8 726.0 778.0 726.5 718.4 727.0 731.8 727.5 735.5 728.0 750.5 728.4 755.1 728.9 739.2 729.4 713.0 729.9 759.1 730.4 747.2 730.8 749.7 731.3 712.6 731.8 744.9 732.3 735.0 732.8 752.7 733.2 764.8 733.7 724.9 734.2 736.6 734.7 738.9 735.2 726.6 735.6 747.1 736.1 746.9 736.6 725.5 737.1 726.2 737.6 743.6 738.0 712.5 738.5 744.9 739.0 753.5 739.5 753.7 740.0 726.6 740.4 768.4 740.9 773.1 741.4 724.8 741.9 768.5 742.4 762.6 742.8 756.7 743.3 731.9 743.8 759.3 744.3 727.5 744.8 745.4 745.2 757.6 745.7 753.4 746.2 741.8 746.7 752.1 747.2 745.0 747.7 751.5 748.1 736.1 748.6 730.3 749.1 739.9 749.6 730.0 750.1 765.8 750.5 787.9 751.0 759.7 751.5 767.3 752.0 734.3 752.5 748.3 752.9 734.0 753.4 760.5 753.9 753.0 754.4 736.6 754.9 772.8 755.3 751.5 755.8 763.9 756.3 765.9 756.8 774.0 757.3 772.2 757.7 754.0 758.2 750.3 758.7 744.3 759.2 738.4 759.7 780.0 760.1 745.9 760.6 775.1 761.1 741.8 761.6 744.2 762.1 769.0 762.5 752.4 763.0 743.3 763.5 778.8 764.0 736.7 764.5 743.8 764.9 765.8 765.4 778.2 765.9 756.3 766.4 744.5 766.9 789.4 767.4 757.4 767.8 748.4 768.3 759.6 768.8 775.3 769.3 717.7 769.8 743.7 770.2 769.6 770.7 767.4 771.2 760.8 771.7 758.3 772.2 769.3 772.6 776.7 773.1 753.4 773.6 755.9 774.1 773.4 774.6 757.9 775.0 744.1 775.5 760.7 776.0 747.8 776.5 772.9 777.0 777.1 777.4 755.9 777.9 763.6 778.4 771.0 778.9 784.3 779.4 781.3 779.8 771.3 780.3 773.1 780.8 787.9 781.3 778.4 781.8 777.0 782.2 754.7 782.7 773.1 783.2 777.0 783.7 772.2 784.2 756.8 784.6 746.1 785.1 780.6 785.6 781.3 786.1 774.5 786.6 760.3 787.1 766.7 787.5 772.5 788.0 784.3 788.5 775.6 789.0 763.1 789.5 767.6 789.9 758.6 790.4 800.9 790.9 765.7 791.4 796.4 791.9 780.4 792.3 802.5 792.8 762.2 793.3 787.9 793.8 765.2 794.3 765.8 794.7 768.1 795.2 760.1 795.7 766.1 796.2 775.1 796.7 801.9 797.1 773.0 797.6 758.0 798.1 788.1 798.6 798.8 799.1 744.3 799.5 786.4 800.0 760.5 800.5 754.4 801.0 789.3 801.5 800.8 801.9 806.3 802.4 781.3 802.9 776.0 803.4 783.9 803.9 789.9 804.3 794.3 804.8 801.2 805.3 788.1 805.8 790.8 806.3 785.9 806.8 772.4 807.2 789.1 807.7 803.6 808.2 793.6 808.7 753.2 809.2 804.6 809.6 771.2 810.1 814.9 810.6 812.9 811.1 792.6 811.6 808.9 812.0 771.5 812.5 780.0 813.0 772.9 813.5 787.4 814.0 783.1 814.4 785.4 814.9 783.7 815.4 802.7 815.9 781.9 816.4 775.6 816.8 782.9 817.3 787.8 817.8 787.2 818.3 766.5 818.8 773.7 819.2 776.1 819.7 767.2 820.2 757.5 820.7 771.0 821.2 742.6 821.6 775.1 822.1 761.0 822.6 774.3 823.1 776.7 823.6 805.4 824.0 806.5 824.5 810.0 825.0 780.1 825.5 771.9 826.0 790.5 826.5 764.1 826.9 777.2 827.4 767.7 827.9 777.6 828.4 788.8 828.9 762.9 829.3 781.6 829.8 780.5 830.3 780.8 830.8 784.5 831.3 772.0 831.7 776.2 832.2 772.3 832.7 755.5 833.2 797.9 833.7 786.8 834.1 786.3 834.6 767.7 835.1 752.3 835.6 780.4 836.1 763.9 836.5 801.6 837.0 800.7 837.5 769.0 838.0 795.0 838.5 786.3 838.9 775.0 839.4 754.3 839.9 784.5 840.4 788.3 840.9 788.7 841.3 768.6 841.8 776.7 842.3 776.9 842.8 776.6 843.3 767.6 843.7 791.0 844.2 783.9 844.7 770.4 845.2 781.7 845.7 789.2 846.2 780.3 846.6 779.8 847.1 786.1 847.6 764.6 848.1 784.7 848.6 765.7 849.0 777.6 849.5 791.8 850.0 768.3 850.5 790.5 851.0 783.5 851.4 793.2 851.9 753.5 852.4 719.9 852.9 760.8 853.4 802.6 853.8 778.0 854.3 770.3 854.8 774.1 855.3 779.9 855.8 771.2 856.2 805.4 856.7 775.0 857.2 754.8 857.7 755.1 858.2 771.0 858.6 772.4 859.1 783.6 859.6 785.2 860.1 786.0 860.6 757.6 861.0 777.4 861.5 762.3 862.0 773.5 862.5 756.4 863.0 788.8 863.4 789.7 863.9 775.1 864.4 757.0 864.9 784.3 865.4 773.7 865.9 750.7 866.3 778.0 866.8 780.8 867.3 775.2 867.8 743.7 868.3 777.5 868.7 780.9 869.2 759.1 869.7 782.0 870.2 773.8 870.7 779.8 871.1 742.4 871.6 761.9 872.1 772.2 872.6 744.7 873.1 766.6 873.5 788.3 874.0 743.2 874.5 783.5 875.0 776.2 875.5 751.3 875.9 752.2 876.4 750.9 876.9 767.0 877.4 730.2 877.9 771.3 878.3 740.8 878.8 756.3 879.3 755.1 879.8 771.2 880.3 746.8 880.7 748.8 881.2 776.2 881.7 782.2 882.2 758.6 882.7 754.1 883.1 762.2 883.6 759.3 884.1 758.2 884.6 744.1 885.1 727.0 885.6 760.4 886.0 756.1 886.5 772.3 887.0 771.7 887.5 778.8 888.0 749.0 888.4 765.6 888.9 738.3 889.4 758.7 889.9 761.8 890.4 744.6 890.8 752.9 891.3 787.7 891.8 742.2 892.3 767.9 892.8 748.4 893.2 765.5 893.7 717.5 894.2 734.6 894.7 749.0 895.2 775.0 895.6 749.7 896.1 734.7 896.6 745.3 897.1 761.8 897.6 729.7 898.0 751.5 898.5 747.8 899.0 744.7 899.5 755.6 900.0 739.6 900.4 757.6 900.9 758.3 901.4 773.2 901.9 754.1 902.4 748.4 902.8 734.0 903.3 741.7 903.8 731.1 904.3 767.5 904.8 716.9 905.3 754.3 905.7 754.7 906.2 757.3 906.7 742.1 907.2 778.2 907.7 743.4 908.1 726.0 908.6 738.5 909.1 737.2 909.6 765.0 910.1 746.5 910.5 734.4 911.0 734.3 911.5 744.8 912.0 740.4 912.5 745.3 912.9 760.4 913.4 727.9 913.9 737.5 914.4 749.9 914.9 726.4 915.3 755.4 915.8 765.6 916.3 748.7 916.8 758.4 917.3 742.7 917.7 747.7 918.2 751.3 918.7 747.1 919.2 764.2 919.7 741.4 920.1 759.9 920.6 741.7 921.1 769.0 921.6 766.3 922.1 752.3 922.5 728.6 923.0 735.2 923.5 710.7 924.0 757.7 924.5 739.8 925.0 735.8 925.4 746.1 925.9 725.9 926.4 738.9 926.9 747.7 927.4 758.3 927.8 775.5 928.3 734.2 928.8 757.6 929.3 736.6 929.8 730.7 930.2 749.6 930.7 743.8 931.2 723.7 931.7 743.7 932.2 770.9 932.6 733.8 933.1 733.7 933.6 760.8 934.1 747.3 934.6 733.7 935.0 750.1 935.5 736.2 936.0 732.5 936.5 748.1 937.0 730.3 937.4 752.5 937.9 763.0 938.4 732.1 938.9 731.1 939.4 730.0 939.8 738.7 940.3 727.9 940.8 739.1 941.3 747.9 941.8 721.7 942.2 738.9 942.7 750.7 943.2 745.8 943.7 721.3 944.2 749.9 944.7 719.0 945.1 744.8 945.6 708.9 946.1 737.7 946.6 724.5 947.1 723.2 947.5 721.5 948.0 712.8 948.5 731.2 949.0 726.3 949.5 734.4 949.9 711.3 950.4 731.6 950.9 734.6 951.4 708.1 951.9 736.2 952.3 739.2 952.8 701.4 953.3 703.5 953.8 747.0 954.3 715.7 954.7 705.1 955.2 688.8 955.7 702.9 956.2 679.0 956.7 680.0 957.1 666.3 957.6 658.9 958.1 652.2 958.6 633.5 959.1 642.0 959.5 647.6 960.0 644.5 960.5 649.8 961.0 676.1 961.5 706.8 961.9 695.8 962.4 702.9 962.9 722.5 963.4 719.6 963.9 732.6 964.3 735.6 964.8 731.9 965.3 746.7 965.8 732.8 966.3 736.1 966.8 725.1 967.2 738.3 967.7 752.8 968.2 766.6 968.7 792.4 969.2 751.7 969.6 748.4 970.1 781.2 970.6 737.1 971.1 768.8 971.6 761.9 972.0 780.3 972.5 757.0 973.0 762.6 973.5 738.6 974.0 753.4 974.4 761.5 974.9 755.2 975.4 753.8 975.9 777.6 976.4 744.9 976.8 742.6 977.3 745.5 977.8 755.6 978.3 753.0 978.8 761.8 979.2 756.9 979.7 789.6 980.2 757.9 980.7 765.5 981.2 775.7 981.6 799.2 982.1 767.3 982.6 762.9 983.1 783.5 983.6 765.6 984.0 750.9 984.5 751.6 985.0 766.4 985.5 754.6 986.0 787.2 986.5 779.2 986.9 796.0 987.4 777.5 987.9 770.6 988.4 784.4 988.9 784.3 989.3 764.2 989.8 798.6 990.3 779.4 990.8 787.8 991.3 770.4 991.7 791.1 992.2 807.3 992.7 776.1 993.2 765.7 993.7 780.7 994.1 780.9 994.6 787.8 995.1 758.9 995.6 792.9 996.1 783.5 996.5 776.1 997.0 764.2 997.5 782.9 998.0 794.4 998.5 786.6 998.9 786.6 999.4 781.4 999.9 784.5 1000.4 763.2 1000.9 800.2 1001.3 794.5 1001.8 777.9 1002.3 782.0 1002.8 763.5 1003.3 770.3 1003.7 787.0 1004.2 772.6 1004.7 767.2 1005.2 777.7 1005.7 789.7 1006.2 768.3 1006.6 788.1 1007.1 789.7 1007.6 790.4 1008.1 789.2 1008.6 783.5 1009.0 779.0 1009.5 795.4 1010.0 771.1 1010.5 799.0 1011.0 766.7 1011.4 780.2 1011.9 786.4 1012.4 760.3 1012.9 790.2 1013.4 797.8 1013.8 769.9 1014.3 781.4 1014.8 794.4 1015.3 794.0 1015.8 797.3 1016.2 764.4 1016.7 782.2 1017.2 800.4 1017.7 766.4 1018.2 769.2 1018.6 783.9 1019.1 784.2 1019.6 767.3 1020.1 773.0 1020.6 784.2 1021.0 787.6 1021.5 810.0 1022.0 798.8 1022.5 790.4 1023.0 787.3 1023.4 797.4 1023.9 821.9 1024.4 784.3 1024.9 777.8 1025.4 773.8 1025.9 789.6 1026.3 774.9 1026.8 765.7 1027.3 780.2 1027.8 780.4 1028.3 802.8 1028.7 811.0 1029.2 785.6 1029.7 785.8 1030.2 805.6 1030.7 792.7 1031.1 788.2 1031.6 804.0 1032.1 781.9 1032.6 802.4 1033.1 821.0 1033.5 776.3 1034.0 800.8 1034.5 792.4 1035.0 812.0 1035.5 808.3 1035.9 785.4 1036.4 794.3 1036.9 785.4 1037.4 809.7 1037.9 785.7 1038.3 795.6 1038.8 808.5 1039.3 791.4 1039.8 783.6 1040.3 782.8 1040.7 784.6 1041.2 795.4 1041.7 793.9 1042.2 803.7 1042.7 797.5 1043.1 813.7 1043.6 808.7 1044.1 817.3 1044.6 792.3 1045.1 785.0 1045.6 816.7 1046.0 805.6 1046.5 774.6 1047.0 793.6 1047.5 806.5 1048.0 816.4 1048.4 830.9 1048.9 815.9 1049.4 805.3 1049.9 796.3 1050.4 791.5 1050.8 793.7 1051.3 788.4 1051.8 801.9 1052.3 815.5 1052.8 808.9 1053.2 790.5 1053.7 811.4 1054.2 817.0 1054.7 801.6 1055.2 800.3 1055.6 803.6 1056.1 809.4 1056.6 779.2 1057.1 792.8 1057.6 787.3 1058.0 804.1 1058.5 809.9 1059.0 797.1 1059.5 816.9 1060.0 806.6 1060.4 807.8 1060.9 805.7 1061.4 790.4 1061.9 826.0 1062.4 807.6 1062.8 784.8 1063.3 812.6 1063.8 816.4 1064.3 789.8 1064.8 807.0 1065.3 825.3 1065.7 813.0 1066.2 807.8 1066.7 807.1 1067.2 812.2 1067.7 794.7 1068.1 801.9 1068.6 810.9 1069.1 807.3 1069.6 823.9 1070.1 785.6 1070.5 833.2 1071.0 802.1 1071.5 799.9 1072.0 807.5 1072.5 821.4 1072.9 805.9 1073.4 825.5 1073.9 823.5 1074.4 810.5 1074.9 808.2 1075.3 808.5 1075.8 813.8 1076.3 793.9 1076.8 828.4 1077.3 812.6 1077.7 815.2 1078.2 804.6 1078.7 805.2 1079.2 831.4 1079.7 790.3 1080.1 816.6 1080.6 804.5 1081.1 793.8 1081.6 822.5 1082.1 803.5 1082.5 822.5 1083.0 809.9 1083.5 788.6 1084.0 813.0 1084.5 800.0 1085.0 811.4 1085.4 810.5 1085.9 819.8 1086.4 815.7 1086.9 811.2 1087.4 807.4 1087.8 797.5 1088.3 789.9 1088.8 817.8 1089.3 800.7 1089.8 809.6 1090.2 823.7 1090.7 826.2 1091.2 826.6 1091.7 818.7 1092.2 822.1 1092.6 821.9 1093.1 820.4 1093.6 803.1 1094.1 820.9 1094.6 828.7 1095.0 817.1 1095.5 819.3 1096.0 788.6 1096.5 806.0 1097.0 846.9 1097.4 806.3 1097.9 825.3 1098.4 833.4 1098.9 830.6 1099.4 821.1 1099.8 818.4 1100.3 803.8 1100.8 839.6 1101.3 820.4 1101.8 833.2 1102.2 800.8 1102.7 796.4 1103.2 796.0 1103.7 829.3 1104.2 816.2 1104.7 816.6 1105.1 823.1 1105.6 821.0 1106.1 821.7 1106.6 811.7 1107.1 808.1 1107.5 821.7 1108.0 832.2 1108.5 813.4 1109.0 821.6 1109.5 816.2 1109.9 826.1 1110.4 806.5 1110.9 843.5 1111.4 842.1 1111.9 822.3 1112.3 819.6 1112.8 800.8 1113.3 832.2 1113.8 823.3 1114.3 823.9 1114.7 802.4 1115.2 830.3 1115.7 843.9 1116.2 809.0 1116.7 819.2 1117.1 836.8 1117.6 830.5 1118.1 830.9 1118.6 859.8 1119.1 839.7 1119.5 825.0 1120.0 789.3 1120.5 820.7 1121.0 806.6 1121.5 807.6 1121.9 838.1 1122.4 809.9 1122.9 821.1 1123.4 839.9 1123.9 814.4 1124.4 816.7 1124.8 809.0 1125.3 817.4 1125.8 803.8 1126.3 825.7 1126.8 814.7 1127.2 828.5 1127.7 830.6 1128.2 822.3 1128.7 824.8 1129.2 818.6 1129.6 829.6 1130.1 834.4 1130.6 828.9 1131.1 840.4 1131.6 826.5 1132.0 823.8 1132.5 830.3 1133.0 805.4 1133.5 818.5 1134.0 799.9 1134.4 827.5 1134.9 835.8 1135.4 809.2 1135.9 816.1 1136.4 817.7 1136.8 839.0 1137.3 829.6 1137.8 840.8 1138.3 833.2 1138.8 833.6 1139.2 802.6 1139.7 800.6 1140.2 841.4 1140.7 854.0 1141.2 811.3 1141.6 812.8 1142.1 840.5 1142.6 851.5 1143.1 812.9 1143.6 818.6 1144.1 838.3 1144.5 830.9 1145.0 830.9 1145.5 837.0 1146.0 812.8 1146.5 815.8 1146.9 845.3 1147.4 806.7 1147.9 837.0 1148.4 820.5 1148.9 843.1 1149.3 825.4 1149.8 824.2 1150.3 840.6 1150.8 826.8 1151.3 826.8 1151.7 798.2 1152.2 834.0 1152.7 825.3 1153.2 840.2 1153.7 822.6 1154.1 813.9 1154.6 844.2 1155.1 828.1 1155.6 825.3 1156.1 811.9 1156.5 846.1 1157.0 840.4 1157.5 816.9 1158.0 838.5 1158.5 835.9 1158.9 844.5 1159.4 829.9 1159.9 856.3 1160.4 805.7 1160.9 810.4 1161.3 838.7 1161.8 841.6 1162.3 836.0 1162.8 860.3 1163.3 835.9 1163.8 811.7 1164.2 851.3 1164.7 833.6 1165.2 828.1 1165.7 840.4 1166.2 840.3 1166.6 828.4 1167.1 843.6 1167.6 838.6 1168.1 831.9 1168.6 832.4 1169.0 808.4 1169.5 822.8 1170.0 823.6 1170.5 828.4 1171.0 851.3 1171.4 833.0 1171.9 827.8 1172.4 816.2 1172.9 826.3 1173.4 820.2 1173.8 819.2 1174.3 831.6 1174.8 811.1 1175.3 822.4 1175.8 843.1 1176.2 832.5 1176.7 820.3 1177.2 824.7 1177.7 822.3 1178.2 846.5 1178.6 845.6 1179.1 850.6 1179.6 825.5 1180.1 828.7 1180.6 840.3 1181.0 816.3 1181.5 823.2 1182.0 842.5 1182.5 823.4 1183.0 820.3 1183.5 836.7 1183.9 827.7 1184.4 823.3 1184.9 832.6 1185.4 809.9 1185.9 840.1 1186.3 833.7 1186.8 835.8 1187.3 834.2 1187.8 840.2 1188.3 810.5 1188.7 832.6 1189.2 849.6 1189.7 823.3 1190.2 821.3 1190.7 823.1 1191.1 813.9 1191.6 863.1 1192.1 828.0 1192.6 840.1 1193.1 818.8 1193.5 821.9 1194.0 819.0 1194.5 811.8 1195.0 824.2 1195.5 844.6 1195.9 821.9 1196.4 843.1 1196.9 855.5 1197.4 837.3 1197.9 846.8 1198.3 848.9 1198.8 826.2 1199.3 828.0 1199.8 812.4 1200.3 828.6 1200.7 849.0 1201.2 838.2 1201.7 833.1 1202.2 829.7 1202.7 825.3 1203.2 830.7 1203.6 864.5 1204.1 852.3 1204.6 840.6 1205.1 834.5 1205.6 829.3 1206.0 850.5 1206.5 832.4 1207.0 834.0 1207.5 835.0 1208.0 855.4 1208.4 841.4 1208.9 859.5 1209.4 830.6 1209.9 830.3 1210.4 825.1 1210.8 841.3 1211.3 825.3 1211.8 833.1 1212.3 856.3 1212.8 846.5 1213.2 836.1 1213.7 836.8 1214.2 799.1 1214.7 811.2 1215.2 846.0 1215.6 824.5 1216.1 827.3 1216.6 847.7 1217.1 821.2 1217.6 839.1 1218.0 833.9 1218.5 839.9 1219.0 837.2 1219.5 859.5 1220.0 847.2 1220.4 857.8 1220.9 830.3 1221.4 837.5 1221.9 843.1 1222.4 859.7 1222.9 850.4 1223.3 837.4 1223.8 823.1 1224.3 838.8 1224.8 824.1 1225.3 825.2 1225.7 830.2 1226.2 832.4 1226.7 829.7 1227.2 851.8 1227.7 836.6 1228.1 825.2 1228.6 838.2 1229.1 818.6 1229.6 842.3 1230.1 845.2 1230.5 846.1 1231.0 824.8 1231.5 850.1 1232.0 848.8 1232.5 860.9 1232.9 845.9 1233.4 839.1 1233.9 836.3 1234.4 830.9 1234.9 827.7 1235.3 830.6 1235.8 851.4 1236.3 836.8 1236.8 839.4 1237.3 833.7 1237.7 844.3 1238.2 849.9 1238.7 848.6 1239.2 826.5 1239.7 837.9 1240.1 866.6 1240.6 845.5 1241.1 840.3 1241.6 834.0 1242.1 822.6 1242.6 817.8 1243.0 835.8 1243.5 840.4 1244.0 829.4 1244.5 838.1 1245.0 846.3 1245.4 845.9 1245.9 853.2 1246.4 821.5 1246.9 842.2 1247.4 846.5 1247.8 841.2 1248.3 824.3 1248.8 820.3 1249.3 859.8 1249.8 832.3 1250.2 842.9 1250.7 831.9 1251.2 829.8 1251.7 844.3 1252.2 850.3 1252.6 838.7 1253.1 836.1 1253.6 849.8 1254.1 837.0 1254.6 836.5 1255.0 832.8 1255.5 842.1 1256.0 837.4 1256.5 836.5 1257.0 835.0 1257.4 841.1 1257.9 852.8 1258.4 837.2 1258.9 828.3 1259.4 864.4 1259.8 850.5 1260.3 832.7 1260.8 817.8 1261.3 852.6 1261.8 828.9 1262.3 837.4 1262.7 806.4 1263.2 846.5 1263.7 851.3 1264.2 835.5 1264.7 834.6 1265.1 836.5 1265.6 822.6 1266.1 823.4 1266.6 849.7 1267.1 833.4 1267.5 837.1 1268.0 835.9 1268.5 847.0 1269.0 836.7 1269.5 844.0 1269.9 846.1 1270.4 831.1 1270.9 836.1 1271.4 843.0 1271.9 848.9 1272.3 842.8 1272.8 843.7 1273.3 826.3 1273.8 832.6 1274.3 842.8 1274.7 835.0 1275.2 837.3 1275.7 839.1 1276.2 856.5 1276.7 827.5 1277.1 848.8 1277.6 846.8 1278.1 841.6 1278.6 830.2 1279.1 838.8 1279.5 832.7 1280.0 848.4 1280.5 838.7 1281.0 840.2 1281.5 828.3 1282.0 852.9 1282.4 815.3 1282.9 866.2 1283.4 826.2 1283.9 830.6 1284.4 832.1 1284.8 820.0 1285.3 848.9 1285.8 828.1 1286.3 825.8 1286.8 848.6 1287.2 842.8 1287.7 815.8 1288.2 819.5 1288.7 835.5 1289.2 837.8 1289.6 843.8 1290.1 835.1 1290.6 851.6 1291.1 850.1 1291.6 842.4 1292.0 838.2 1292.5 851.2 1293.0 854.5 1293.5 841.5 1294.0 837.6 1294.4 847.3 1294.9 832.4 1295.4 842.6 1295.9 847.5 1296.4 825.6 1296.8 829.5 1297.3 815.9 1297.8 831.8 1298.3 844.2 1298.8 833.0 1299.2 844.2 1299.7 839.2 1300.2 829.7 1300.7 854.8 1301.2 837.2 1301.7 850.9 1302.1 844.3 1302.6 838.9 1303.1 859.8 1303.6 835.4 1304.1 832.7 1304.5 855.2 1305.0 844.5 1305.5 831.5 1306.0 836.0 1306.5 825.3 1306.9 847.1 1307.4 853.9 1307.9 846.7 1308.4 849.3 1308.9 856.2 1309.3 843.1 1309.8 832.5 1310.3 833.3 1310.8 845.7 1311.3 844.1 1311.7 844.0 1312.2 828.2 1312.7 841.3 1313.2 858.4 1313.7 842.4 1314.1 855.8 1314.6 845.5 1315.1 838.9 1315.6 855.7 1316.1 861.9 1316.5 850.3 1317.0 857.3 1317.5 837.9 1318.0 830.1 1318.5 822.0 1318.9 843.3 1319.4 860.3 1319.9 836.6 1320.4 826.5 1320.9 843.7 1321.4 842.8 1321.8 842.2 1322.3 830.7 1322.8 860.1 1323.3 834.9 1323.8 839.2 1324.2 823.4 1324.7 847.9 1325.2 861.5 1325.7 853.7 1326.2 827.3 1326.6 849.9 1327.1 828.2 1327.6 838.1 1328.1 836.4 1328.6 849.7 1329.0 847.0 1329.5 837.4 1330.0 839.6 1330.5 857.9 1331.0 823.9 1331.4 834.9 1331.9 866.2 1332.4 843.3 1332.9 831.0 1333.4 848.9 1333.8 853.7 1334.3 831.8 1334.8 841.7 1335.3 837.0 1335.8 852.6 1336.2 847.4 1336.7 837.3 1337.2 854.9 1337.7 838.9 1338.2 868.9 1338.6 859.3 1339.1 841.2 1339.6 847.5 1340.1 858.3 1340.6 850.8 1341.1 832.2 1341.5 838.0 1342.0 838.1 1342.5 840.4 1343.0 822.7 1343.5 851.7 1343.9 883.3 1344.4 845.3 1344.9 845.2 1345.4 841.0 1345.9 849.9 1346.3 836.0 1346.8 839.5 1347.3 849.2 1347.8 816.5 1348.3 835.9 1348.7 862.9 1349.2 852.9 1349.7 845.2 1350.2 846.6 1350.7 814.3 1351.1 851.9 1351.6 840.0 1352.1 859.0 1352.6 849.0 1353.1 852.6 1353.5 827.1 1354.0 826.0 1354.5 868.5 1355.0 842.2 1355.5 840.0 1355.9 861.8 1356.4 852.7 1356.9 853.3 1357.4 866.3 1357.9 849.3 1358.3 843.1 1358.8 840.4 1359.3 820.4 1359.8 844.0 1360.3 843.6 1360.8 837.8 1361.2 874.0 1361.7 834.2 1362.2 840.3 1362.7 838.4 1363.2 839.7 1363.6 853.5 1364.1 840.5 1364.6 852.4 1365.1 875.5 1365.6 841.6 1366.0 838.3 1366.5 839.7 1367.0 861.3 1367.5 851.1 1368.0 850.8 1368.4 842.2 1368.9 840.3 1369.4 869.2 1369.9 866.7 1370.4 836.2 1370.8 835.5 1371.3 840.2 1371.8 840.4 1372.3 857.2 1372.8 863.5 1373.2 845.8 1373.7 835.8 1374.2 858.1 1374.7 864.4 1375.2 828.8 1375.6 850.1 1376.1 835.3 1376.6 835.2 1377.1 835.8 1377.6 863.3 1378.0 850.8 1378.5 838.4 1379.0 846.0 1379.5 851.3 1380.0 829.4 1380.5 854.5 1380.9 834.6 1381.4 837.4 1381.9 866.0 1382.4 807.5 1382.9 859.8 1383.3 860.3 1383.8 843.9 1384.3 861.0 1384.8 849.5 1385.3 840.3 1385.7 852.5 1386.2 841.7 1386.7 844.0 1387.2 837.3 1387.7 881.0 1388.1 861.8 1388.6 846.2 1389.1 830.7 1389.6 837.1 1390.1 838.2 1390.5 834.5 1391.0 845.7 1391.5 846.4 1392.0 868.3 1392.5 865.5 1392.9 830.9 1393.4 865.2 1393.9 835.5 1394.4 860.6 1394.9 850.0 1395.3 848.3 1395.8 851.7 1396.3 839.7 1396.8 833.3 1397.3 870.6 1397.7 830.1 1398.2 857.5 1398.7 837.1 1399.2 853.8 1399.7 848.0 1400.2 850.5 1400.6 838.9 1401.1 853.2 1401.6 871.4 1402.1 858.5 1402.6 865.2 1403.0 842.6 1403.5 845.2 1404.0 859.4 1404.5 829.9 1405.0 862.1 1405.4 848.9 1405.9 846.8 1406.4 868.0 1406.9 839.4 1407.4 867.4 1407.8 835.3 1408.3 834.3 1408.8 861.4 1409.3 863.3 1409.8 831.9 1410.2 850.9 1410.7 873.9 1411.2 850.2 1411.7 834.3 1412.2 845.7 1412.6 849.8 1413.1 847.6 1413.6 836.2 1414.1 842.4 1414.6 854.7 1415.0 858.0 1415.5 849.1 1416.0 855.7 1416.5 852.6 1417.0 831.7 1417.4 869.6 1417.9 867.7 1418.4 851.4 1418.9 848.9 1419.4 851.8 1419.9 852.8 1420.3 860.6 1420.8 862.7 1421.3 847.5 1421.8 838.5 1422.3 837.8 1422.7 870.6 1423.2 848.3 1423.7 836.2 1424.2 822.4 1424.7 857.8 1425.1 848.9 1425.6 849.8 1426.1 834.9 1426.6 841.6 1427.1 840.1 1427.5 848.9 1428.0 871.7 1428.5 841.3 1429.0 833.7 1429.5 859.6 1429.9 858.3 1430.4 842.4 1430.9 849.4 1431.4 838.6 1431.9 871.4 1432.3 854.2 1432.8 829.8 1433.3 860.0 1433.8 861.2 1434.3 831.0 1434.7 849.1 1435.2 849.0 1435.7 829.4 1436.2 826.9 1436.7 884.8 1437.1 836.2 1437.6 856.8 1438.1 858.7 1438.6 862.9 1439.1 861.4 1439.6 851.6 1440.0 840.2 1440.5 834.9 1441.0 856.3 1441.5 839.0 1442.0 862.6 1442.4 848.0 1442.9 865.9 1443.4 830.3 1443.9 871.8 1444.4 846.1 1444.8 856.5 1445.3 833.7 1445.8 858.9 1446.3 853.4 1446.8 864.6 1447.2 859.1 1447.7 876.7 1448.2 831.3 1448.7 845.4 1449.2 834.2 1449.6 849.6 1450.1 862.9 1450.6 862.7 1451.1 843.2 1451.6 832.3 1452.0 850.8 1452.5 858.6 1453.0 832.7 1453.5 851.9 1454.0 841.2 1454.4 856.3 1454.9 842.5 1455.4 864.4 1455.9 844.2 1456.4 852.7 1456.8 891.2 1457.3 799.8 1457.8 847.8 1458.3 849.6 1458.8 856.6 1459.3 857.5 1459.7 854.2 1460.2 843.7 1460.7 849.6 1461.2 858.7 1461.7 832.9 1462.1 864.4 1462.6 850.6 1463.1 867.7 1463.6 847.3 1464.1 858.0 1464.5 849.2 1465.0 863.8 1465.5 866.8 1466.0 845.7 1466.5 861.4 1466.9 850.9 1467.4 860.9 1467.9 846.6 1468.4 847.0 1468.9 858.2 1469.3 864.0 1469.8 855.1 1470.3 858.1 1470.8 847.2 1471.3 864.9 1471.7 852.2 1472.2 840.9 1472.7 872.6 1473.2 837.5 1473.7 869.0 1474.1 855.9 1474.6 859.7 1475.1 881.8 1475.6 846.7 1476.1 841.7 1476.5 837.4 1477.0 853.6 1477.5 868.2 1478.0 851.3 1478.5 853.5 1479.0 856.3 1479.4 850.4 1479.9 856.4 1480.4 838.0 1480.9 827.1 1481.4 843.7 1481.8 845.9 1482.3 867.1 1482.8 857.2 1483.3 840.0 1483.8 869.1 1484.2 864.1 1484.7 845.5 1485.2 878.6 1485.7 856.0 1486.2 845.1 1486.6 850.7 1487.1 863.3 1487.6 857.6 1488.1 839.6 1488.6 874.1 1489.0 852.5 1489.5 844.7 1490.0 851.5 1490.5 856.7 1491.0 874.6 1491.4 871.9 1491.9 832.4 1492.4 850.4 1492.9 854.9 1493.4 857.5 1493.8 866.1 1494.3 862.7 1494.8 840.9 1495.3 875.6 1495.8 863.8 1496.2 832.1 1496.7 867.5 1497.2 858.0 1497.7 837.6 1498.2 855.9 1498.7 862.0 1499.1 857.0 1499.6 845.2 1500.1 852.4 1500.6 850.9 1501.1 848.6 1501.5 861.0 1502.0 842.8 1502.5 857.3 1503.0 860.8 1503.5 866.6 1503.9 861.1 1504.4 850.8 1504.9 849.7 1505.4 847.3 1505.9 875.1 1506.3 849.2 1506.8 844.3 1507.3 849.9 1507.8 864.9 1508.3 866.7 1508.7 836.1 1509.2 868.8 1509.7 854.7 1510.2 877.5 1510.7 874.2 1511.1 847.9 1511.6 844.1 1512.1 843.7 1512.6 851.0 1513.1 860.1 1513.5 860.3 1514.0 861.5 1514.5 864.2 1515.0 852.6 1515.5 855.5 1515.9 861.2 1516.4 870.5 1516.9 853.3 1517.4 847.8 1517.9 865.4 1518.4 859.3 1518.8 862.1 1519.3 854.5 1519.8 861.4 1520.3 850.8 1520.8 846.0 1521.2 857.8 1521.7 837.5 1522.2 862.5 1522.7 880.0 1523.2 842.2 1523.6 845.4 1524.1 861.1 1524.6 845.8 1525.1 861.0 1525.6 852.8 1526.0 849.2 1526.5 864.7 1527.0 847.8 1527.5 848.2 1528.0 837.9 1528.4 861.4 1528.9 853.1 1529.4 847.7 1529.9 864.1 1530.4 852.9 1530.8 868.4 1531.3 865.1 1531.8 849.6 1532.3 847.4 1532.8 872.5 1533.2 854.4 1533.7 847.8 1534.2 854.2 1534.7 835.2 1535.2 858.0 1535.6 839.5 1536.1 862.6 1536.6 847.8 1537.1 857.8 1537.6 875.7 1538.0 870.6 1538.5 852.0 1539.0 860.6 1539.5 842.3 1540.0 860.3 1540.5 871.8 1540.9 867.5 1541.4 869.7 1541.9 861.6 1542.4 842.7 1542.9 856.9 1543.3 843.5 1543.8 868.3 1544.3 854.0 1544.8 850.9 1545.3 844.4 1545.7 860.2 1546.2 863.6 1546.7 861.9 1547.2 837.4 1547.7 863.2 1548.1 850.8 1548.6 829.0 1549.1 865.3 1549.6 859.8 1550.1 837.0 1550.5 868.4 1551.0 863.5 1551.5 878.8 1552.0 863.7 1552.5 859.2 1552.9 836.8 1553.4 883.9 1553.9 839.4 1554.4 852.6 1554.9 866.1 1555.3 854.1 1555.8 822.2 1556.3 853.0 1556.8 851.5 1557.3 870.0 1557.7 855.7 1558.2 875.3 1558.7 869.4 1559.2 870.7 1559.7 865.9 1560.2 886.3 1560.6 871.1 1561.1 870.5 1561.6 857.8 1562.1 853.3 1562.6 841.2 1563.0 833.3 1563.5 842.9 1564.0 868.1 1564.5 848.8 1565.0 855.7 1565.4 852.6 1565.9 858.5 1566.4 864.8 1566.9 878.5 1567.4 843.2 1567.8 885.5 1568.3 857.0 1568.8 850.6 1569.3 854.2 1569.8 875.7 1570.2 868.0 1570.7 876.4 1571.2 854.2 1571.7 877.3 1572.2 858.4 1572.6 866.5 1573.1 851.8 1573.6 856.3 1574.1 853.1 1574.6 872.3 1575.0 870.6 1575.5 820.1 1576.0 862.3 1576.5 862.1 1577.0 844.9 1577.4 846.1 1577.9 875.1 1578.4 856.9 1578.9 871.8 1579.4 871.0 1579.9 829.2 1580.3 878.2 1580.8 843.8 1581.3 853.8 1581.8 858.9 1582.3 866.4 1582.7 866.5 1583.2 857.3 1583.7 858.6 1584.2 866.6 1584.7 872.6 1585.1 856.6 1585.6 868.1 1586.1 867.3 1586.6 853.3 1587.1 857.4 1587.5 859.8 1588.0 890.6 1588.5 865.9 1589.0 872.4 1589.5 872.4 1589.9 854.5 1590.4 868.4 1590.9 842.8 1591.4 845.6 1591.9 868.4 1592.3 857.6 1592.8 866.5 1593.3 870.9 1593.8 889.0 1594.3 861.9 1594.7 864.4 1595.2 835.7 1595.7 880.3 1596.2 863.2 1596.7 856.3 1597.1 875.2 1597.6 864.2 1598.1 855.0 1598.6 853.4 1599.1 872.3 1599.6 876.3 1600.0 864.3 1600.5 862.6 1601.0 891.5 1601.5 859.6 1602.0 852.1 1602.4 872.9 1602.9 856.9 1603.4 847.4 1603.9 868.6 1604.4 859.9 1604.8 887.5 1605.3 870.7 1605.8 878.7 1606.3 882.3 1606.8 873.9 1607.2 879.3 1607.7 852.1 1608.2 854.6 1608.7 864.5 1609.2 879.1 1609.6 873.1 1610.1 875.2 1610.6 878.6 1611.1 864.5 1611.6 857.2 1612.0 856.4 1612.5 884.7 1613.0 845.9 1613.5 848.9 1614.0 870.8 1614.4 853.2 1614.9 873.0 1615.4 855.5 1615.9 864.7 1616.4 854.4 1616.8 872.1 1617.3 870.3 1617.8 884.9 1618.3 873.7 1618.8 873.1 1619.3 855.5 1619.7 862.0 1620.2 858.5 1620.7 844.0 1621.2 847.9 1621.7 863.0 1622.1 869.2 1622.6 886.6 1623.1 855.9 1623.6 847.3 1624.1 874.0 1624.5 860.4 1625.0 855.3 1625.5 859.3 1626.0 836.4 1626.5 864.1 1626.9 867.6 1627.4 864.9 1627.9 858.0 1628.4 863.0 1628.9 878.8 1629.3 854.5 1629.8 891.3 1630.3 865.4 1630.8 869.4 1631.3 901.9 1631.7 870.0 1632.2 861.7 1632.7 870.0 1633.2 850.8 1633.7 883.6 1634.1 868.1 1634.6 866.7 1635.1 857.9 1635.6 870.7 1636.1 877.2 1636.5 832.8 1637.0 848.2 1637.5 873.2 1638.0 859.4 1638.5 864.4 1639.0 850.8 1639.4 851.9 1639.9 880.6 1640.4 871.2 1640.9 873.4 1641.4 827.7 1641.8 868.3 1642.3 870.4 1642.8 871.5 1643.3 857.5 1643.8 877.9 1644.2 880.2 1644.7 865.6 1645.2 834.1 1645.7 865.0 1646.2 868.6 1646.6 874.8 1647.1 860.4 1647.6 873.8 1648.1 863.9 1648.6 865.7 1649.0 864.3 1649.5 873.5 1650.0 882.2 1650.5 878.3 1651.0 854.3 1651.4 876.4 1651.9 862.8 1652.4 870.7 1652.9 833.3 1653.4 876.7 1653.8 862.8 1654.3 862.8 1654.8 868.5 1655.3 852.4 1655.8 855.7 1656.2 834.2 1656.7 871.4 1657.2 860.0 1657.7 869.0 1658.2 872.1 1658.7 860.6 1659.1 874.9 1659.6 840.0 1660.1 862.2 1660.6 871.3 1661.1 856.8 1661.5 866.8 1662.0 859.3 1662.5 875.9 1663.0 877.7 1663.5 856.3 1663.9 859.2 1664.4 867.6 1664.9 861.1 1665.4 867.8 1665.9 863.2 1666.3 868.0 1666.8 852.0 1667.3 868.9 1667.8 877.7 1668.3 850.9 1668.7 870.5 1669.2 868.6 1669.7 873.3 1670.2 840.5 1670.7 864.2 1671.1 861.1 1671.6 873.8 1672.1 875.9 1672.6 831.9 1673.1 857.1 1673.5 870.2 1674.0 871.5 1674.5 871.6 1675.0 854.8 1675.5 860.2 1675.9 870.8 1676.4 876.7 1676.9 869.7 1677.4 855.3 1677.9 829.3 1678.4 860.0 1678.8 863.4 1679.3 865.2 1679.8 873.1 1680.3 874.8 1680.8 893.9 1681.2 869.1 1681.7 874.3 1682.2 889.5 1682.7 880.8 1683.2 861.7 1683.6 878.6 1684.1 854.2 1684.6 879.1 1685.1 880.1 1685.6 863.6 1686.0 883.0 1686.5 876.5 1687.0 863.7 1687.5 880.5 1688.0 862.3 1688.4 870.9 1688.9 853.5 1689.4 884.5 1689.9 865.0 1690.4 859.4 1690.8 865.6 1691.3 882.0 1691.8 891.0 1692.3 869.2 1692.8 860.8 1693.2 870.1 1693.7 868.6 1694.2 875.4 1694.7 867.3 1695.2 872.7 1695.6 844.4 1696.1 852.5 1696.6 865.1 1697.1 852.1 1697.6 855.9 1698.1 879.1 1698.5 866.5 1699.0 866.4 1699.5 866.4 1700.0 860.8 1700.5 860.2 1700.9 864.9 1701.4 873.6 1701.9 868.2 1702.4 870.2 1702.9 885.0 1703.3 872.4 1703.8 880.1 1704.3 874.8 1704.8 881.4 1705.3 858.4 1705.7 855.0 1706.2 878.4 1706.7 872.2 1707.2 877.6 1707.7 851.0 1708.1 897.9 1708.6 867.8 1709.1 894.1 1709.6 863.9 1710.1 864.2 1710.5 842.3 1711.0 874.5 1711.5 869.7 1712.0 864.4 1712.5 875.8 1712.9 861.9 1713.4 879.6 1713.9 875.4 1714.4 874.2 1714.9 863.0 1715.3 862.2 1715.8 886.2 1716.3 871.1 1716.8 871.9 1717.3 870.6 1717.8 867.9 1718.2 853.7 1718.7 874.7 1719.2 865.0 1719.7 860.6 1720.2 884.8 1720.6 899.6 1721.1 867.9 1721.6 875.7 1722.1 854.7 1722.6 882.8 1723.0 871.6 1723.5 880.6 1724.0 882.2 1724.5 867.0 1725.0 878.3 1725.4 868.4 1725.9 874.1 1726.4 871.0 1726.9 852.3 1727.4 858.0 1727.8 848.1 1728.3 846.7 1728.8 873.8 1729.3 885.0 1729.8 877.4 1730.2 864.5 1730.7 901.3 1731.2 877.4 1731.7 886.5 1732.2 867.5 1732.6 876.4 1733.1 858.0 1733.6 865.2 1734.1 852.8 1734.6 870.9 1735.0 862.5 1735.5 857.3 1736.0 877.7 1736.5 866.2 1737.0 866.2 1737.5 871.8 1737.9 859.3 1738.4 869.0 1738.9 866.4 1739.4 863.2 1739.9 867.0 1740.3 877.6 1740.8 871.1 1741.3 866.0 1741.8 858.4 1742.3 874.9 1742.7 882.6 1743.2 867.2 1743.7 854.0 1744.2 896.0 1744.7 870.1 1745.1 891.9 1745.6 849.6 1746.1 850.2 1746.6 857.1 1747.1 860.7 1747.5 833.6 1748.0 844.9 1748.5 867.8 1749.0 857.5 1749.5 871.9 1749.9 862.5 1750.4 856.0 1750.9 865.5 1751.4 867.1 1751.9 854.1 1752.3 873.3 1752.8 871.6 1753.3 870.2 1753.8 864.1 1754.3 866.5 1754.7 871.0 1755.2 872.1 1755.7 867.9 1756.2 887.6 1756.7 875.6 1757.2 887.4 1757.6 885.0 1758.1 854.2 1758.6 894.9 1759.1 849.7 1759.6 874.2 1760.0 862.5 1760.5 866.3 1761.0 880.7 1761.5 880.7 1762.0 875.6 1762.4 862.1 1762.9 873.1 1763.4 867.0 1763.9 866.4 1764.4 857.5 1764.8 861.5 1765.3 878.3 1765.8 857.9 1766.3 853.1 1766.8 874.0 1767.2 872.7 1767.7 863.7 1768.2 885.8 1768.7 871.3 1769.2 872.1 1769.6 835.8 1770.1 871.0 1770.6 882.4 1771.1 854.5 1771.6 877.6 1772.0 864.7 1772.5 863.7 1773.0 862.4 1773.5 850.6 1774.0 840.9 1774.4 843.3 1774.9 879.3 1775.4 869.9 1775.9 846.7 1776.4 874.7 1776.9 872.2 1777.3 862.6 1777.8 874.2 1778.3 874.3 1778.8 871.0 1779.3 880.8 1779.7 857.4 1780.2 869.4 1780.7 887.1 1781.2 892.9 1781.7 870.3 1782.1 889.2 1782.6 864.0 1783.1 851.3 1783.6 877.7 1784.1 884.2 1784.5 863.5 1785.0 882.6 1785.5 850.1 1786.0 854.7 1786.5 860.7 1786.9 866.1 1787.4 869.4 1787.9 871.1 1788.4 878.1 1788.9 859.4 1789.3 863.1 1789.8 888.8 1790.3 866.6 1790.8 877.8 1791.3 871.2 1791.7 867.9 1792.2 875.7 1792.7 858.9 1793.2 871.0 1793.7 876.9 1794.1 871.2 1794.6 864.2 1795.1 861.3 1795.6 865.5 1796.1 881.0 1796.6 873.4 1797.0 860.1 1797.5 884.4 1798.0 861.2 1798.5 877.8 1799.0 865.5 1799.4 848.1 1799.9 864.2 1800.4 858.8 1800.9 863.6 1801.4 864.0 1801.8 859.5 1802.3 868.2 1802.8 864.7 1803.3 852.3 1803.8 870.5 1804.2 871.6 1804.7 860.8 1805.2 865.7"/>
<path stroke="#0000ff" d="M123.5 184.4L124.0 210.8 124.5 209.4 124.9 177.7 125.4 182.9 125.9 179.7 126.4 201.8 126.9 191.0 127.3 207.4 127.8 159.2 128.3 225.2 128.8 194.7 129.3 210.5 129.7 196.0 130.2 192.4 130.7 209.4 131.2 217.2 131.7 198.7 132.1 200.6 132.6 217.4 133.1 188.8 133.6 177.5 134.1 214.7 134.6 195.4 135.0 172.5 135.5 194.5 136.0 202.0 136.5 189.2 137.0 184.5 137.4 214.5 137.9 231.9 138.4 211.4 138.9 202.8 139.4 225.3 139.8 232.7 140.3 214.5 140.8 231.7 141.3 242.3 141.8 219.7 142.2 209.3 142.7 232.5 143.2 231.7 143.7 248.9 144.2 204.7 144.6 217.6 145.1 215.3 145.6 199.3 146.1 235.6 146.6 244.1 147.0 221.0 147.5 262.2 148.0 252.4 148.5 249.6 149.0 246.2 149.4 257.6 149.9 215.0 150.4 252.8 150.9 253.4 151.4 209.1 151.8 250.1 152.3 239.6 152.8 260.0 153.3 237.5 153.8 246.3 154.3 253.9 154.7 231.5 155.2 260.2 155.7 247.6 156.2 259.6 156.7 241.0 157.1 272.3 157.6 263.8 158.1 249.6 158.6 265.6 159.1 278.2 159.5 288.9 160.0 225.6 160.5 272.9 161.0 265.6 161.5 255.6 161.9 238.9 162.4 282.5 162.9 235.2 163.4 270.5 163.9 285.1 164.3 230.5 164.8 255.8 165.3 237.2 165.8 267.3 166.3 292.0 166.7 302.2 167.2 230.6 167.7 254.0 168.2 278.9 168.7 296.1 169.1 274.6 169.6 253.0 170.1 273.4 170.6 268.0 171.1 265.0 171.5 255.5 172.0 277.4 172.5 276.5 173.0 269.4 173.5 267.5 174.0 247.9 174.4 263.7 174.9 296.4 175.4 270.4 175.9 247.2 176.4 300.5 176.8 285.8 177.3 316.3 177.8 278.0 178.3 268.6 178.8 250.4 179.2 303.6 179.7 327.9 180.2 264.0 180.7 267.8 181.2 292.0 181.6 265.4 182.1 276.6 182.6 275.7 183.1 286.5 183.6 304.2 184.0 284.3 184.5 301.9 185.0 277.0 185.5 291.8 186.0 245.4 186.4 259.1 186.9 302.3 187.4 276.5 187.9 299.2 188.4 299.0 188.8 314.4 189.3 305.2 189.8 309.6 190.3 288.7 190.8 278.1 191.2 278.0 191.7 283.1 192.2 271.5 192.7 283.1 193.2 292.2 193.7 299.3 194.1 288.6 194.6 259.0 195.1 294.6 195.6 300.8 196.1 317.6 196.5 308.5 197.0 285.8 197.5 284.7 198.0 337.2 198.5 313.8 198.9 334.7 199.4 340.9 199.9 285.3 200.4 308.7 200.9 310.6 201.3 313.0 201.8 313.1 202.3 307.1 202.8 307.1 203.3 275.7 203.7 301.6 204.2 291.0 204.7 308.0 205.2 297.2 205.7 318.3 206.1 322.6 206.6 313.3 207.1 313.9 207.6 310.1 208.1 300.3 208.5 306.1 209.0 300.2 209.5 317.4 210.0 310.7 210.5 321.9 210.9 286.0 211.4 328.4 211.9 297.4 212.4 298.3 212.9 308.9 213.4 302.3 213.8 318.9 214.3 302.8 214.8 293.7 215.3 298.3 215.8 339.6 216.2 315.9 216.7 293.2 217.2 315.8 217.7 286.4 218.2 350.3 218.6 287.6 219.1 326.0 219.6 327.5 220.1 289.9 220.6 323.5 221.0 337.0 221.5 327.2 222.0 323.5 222.5 336.8 223.0 322.1 223.4 325.7 223.9 317.1 224.4 331.7 224.9 302.1 225.4 335.2 225.8 310.8 226.3 299.8 226.8 327.7 227.3 353.1 227.8 339.5 228.2 311.6 228.7 334.9 229.2 313.2 229.7 319.7 230.2 323.9 230.6 278.4 231.1 326.3 231.6 303.3 232.1 309.8 232.6 295.2 233.1 294.6 233.5 305.7 234.0 339.5 234.5 355.7 235.0 323.8 235.5 345.2 235.9 319.6 236.4 288.5 236.9 327.8 237.4 333.6 237.9 317.2 238.3 331.2 238.8 336.5 239.3 309.4 239.8 297.9 240.3 321.9 240.7 322.3 241.2 319.7 241.7 345.3 242.2 359.5 242.7 318.9 243.1 340.2 243.6 344.9 244.1 340.7 244.6 347.2 245.1 320.0 245.5 341.5 246.0 366.0 246.5 342.9 247.0 315.9 247.5 339.3 247.9 351.8 248.4 334.9 248.9 317.2 249.4 357.3 249.9 304.2 250.3 337.6 250.8 327.7 251.3 305.3 251.8 351.2 252.3 334.6 252.8 305.8 253.2 339.4 253.7 319.8 254.2 291.8 254.7 314.9 255.2 333.0 255.6 340.1 256.1 331.1 256.6 328.9 257.1 336.9 257.6 324.0 258.0 350.4 258.5 330.8 259.0 333.6 259.5 338.3 260.0 307.9 260.4 314.5 260.9 357.0 261.4 334.4 261.9 322.6 262.4 334.5 262.8 318.8 263.3 333.3 263.8 315.3 264.3 333.2 264.8 298.0 265.2 353.3 265.7 318.3 266.2 298.0 266.7 323.7 267.2 320.9 267.6 330.9 268.1 306.2 268.6 335.5 269.1 396.8 269.6 303.7 270.0 334.4 270.5 322.1 271.0 331.7 271.5 293.6 272.0 306.1 272.5 336.7 272.9 327.3 273.4 359.1 273.9 314.6 274.4 331.3 274.9 383.3 275.3 313.5 275.8 310.8 276.3 327.3 276.8 327.2 277.3 344.0 277.7 330.5 278.2 313.6 278.7 332.0 279.2 378.1 279.7 352.1 280.1 275.0 280.6 325.1 281.1 311.1 281.6 339.5 282.1 324.4 282.5 364.3 283.0 345.2 283.5 344.4 284.0 330.9 284.5 326.5 284.9 333.7 285.4 351.7 285.9 337.2 286.4 320.3 286.9 351.0 287.3 330.4 287.8 325.1 288.3 311.5 288.8 315.6 289.3 314.2 289.7 273.1 290.2 345.4 290.7 336.7 291.2 321.7 291.7 345.6 292.2 333.9 292.6 332.5 293.1 278.3 293.6 320.8 294.1 335.2 294.6 355.5 295.0 359.8 295.5 351.8 296.0 302.5 296.5 282.7 297.0 335.2 297.4 324.8 297.9 342.4 298.4 321.6 298.9 328.1 299.4 295.3 299.8 332.2 300.3 315.1 300.8 330.1 301.3 332.1 301.8 321.0 302.2 329.2 302.7 322.8 303.2 337.4 303.7 332.4 304.2 312.4 304.6 311.5 305.1 355.7 305.6 320.6 306.1 341.3 306.6 329.8 307.0 311.5 307.5 307.9 308.0 324.4 308.5 326.9 309.0 333.6 309.4 297.8 309.9 310.5 310.4 319.9 310.9 352.0 311.4 276.7 311.9 329.8 312.3 311.1 312.8 329.5 313.3 311.8 313.8 328.0 314.3 350.8 314.7 327.7 315.2 329.1 315.7 327.9 316.2 306.4 316.7 330.9 317.1 316.6 317.6 305.0 318.1 319.6 318.6 316.0 319.1 334.5 319.5 319.3 320.0 310.0 320.5 347.6 321.0 338.6 321.5 343.9 321.9 331.2 322.4 317.5 322.9 311.5 323.4 314.1 323.9 337.3 324.3 321.3 324.8 290.9 325.3 318.3 325.8 292.0 326.3 322.0 326.7 295.8 327.2 294.6 327.7 320.8 328.2 316.9 328.7 286.7 329.1 332.4 329.6 359.2 330.1 289.8 330.6 352.4 331.1 304.7 331.6 308.2 332.0 314.1 332.5 289.9 333.0 341.9 333.5 326.5 334.0 302.7 334.4 311.6 334.9 287.9 335.4 309.9 335.9 334.2 336.4 283.6 336.8 307.8 337.3 318.7 337.8 335.7 338.3 341.3 338.8 306.8 339.2 301.2 339.7 323.7 340.2 308.1 340.7 308.9 341.2 335.2 341.6 346.6 342.1 319.4 342.6 310.5 343.1 324.8 343.6 278.0 344.0 313.3 344.5 293.3 345.0 358.7 345.5 326.8 346.0 315.7 346.4 309.1 346.9 264.9 347.4 326.1 347.9 343.3 348.4 298.3 348.8 325.0 349.3 325.6 349.8 282.3 350.3 329.4 350.8 337.2 351.3 315.6 351.7 309.9 352.2 326.0 352.7 281.6 353.2 312.5 353.7 330.6 354.1 286.9 354.6 329.2 355.1 302.3 355.6 270.6 356.1 308.0 356.5 291.4 357.0 315.8 357.5 287.4 358.0 329.5 358.5 295.4 358.9 316.1 359.4 297.9 359.9 303.0 360.4 331.6 360.9 313.0 361.3 301.3 361.8 284.9 362.3 330.6 362.8 322.4 363.3 302.2 363.7 312.9 364.2 288.6 364.7 288.8 365.2 292.3 365.7 314.6 366.1 313.4 366.6 293.5 367.1 321.6 367.6 322.4 368.1 310.7 368.5 327.0 369.0 301.7 369.5 305.0 370.0 316.0 370.5 306.3 371.0 321.9 371.4 282.9 371.9 333.7 372.4 291.7 372.9 303.3 373.4 280.2 373.8 317.7 374.3 330.4 374.8 326.5 375.3 321.9 375.8 276.4 376.2 291.0 376.7 297.0 377.2 288.0 377.7 327.0 378.2 309.1 378.6 305.0 379.1 314.7 379.6 287.3 380.1 288.0 380.6 288.5 381.0 314.6 381.5 311.6 382.0 316.0 382.5 325.4 383.0 279.1 383.4 294.1 383.9 307.5 384.4 279.0 384.9 294.5 385.4 323.8 385.8 325.4 386.3 324.8 386.8 305.1 387.3 238.0 387.8 324.6 388.2 297.0 388.7 310.4 389.2 329.1 389.7 296.8 390.2 292.1 390.7 303.5 391.1 315.0 391.6 312.7 392.1 306.4 392.6 313.9 393.1 272.9 393.5 286.9 394.0 306.3 394.5 285.5 395.0 277.5 395.5 280.0 395.9 285.5 396.4 299.4 396.9 283.3 397.4 307.2 397.9 334.9 398.3 299.8 398.8 326.8 399.3 308.0 399.8 281.2 400.3 297.5 400.7 283.7 401.2 316.9 401.7 280.4 402.2 327.4 402.7 313.2 403.1 263.7 403.6 317.0 404.1 331.6 404.6 287.1 405.1 320.8 405.5 267.9 406.0 306.8 406.5 270.4 407.0 311.2 407.5 268.0 407.9 252.0 408.4 309.5 408.9 345.5 409.4 290.7 409.9 317.8 410.3 304.1 410.8 295.8 411.3 313.7 411.8 333.2 412.3 278.5 412.8 312.7 413.2 308.6 413.7 274.9 414.2 332.7 414.7 339.0 415.2 283.9 415.6 335.0 416.1 303.1 416.6 298.9 417.1 330.6 417.6 306.3 418.0 308.1 418.5 330.8 419.0 326.5 419.5 319.0 420.0 275.4 420.4 272.1 420.9 323.4 421.4 284.4 421.9 304.8 422.4 281.6 422.8 298.5 423.3 277.7 423.8 333.0 424.3 282.6 424.8 299.7 425.2 298.4 425.7 324.9 426.2 275.0 426.7 301.4 427.2 298.0 427.6 312.1 428.1 311.0 428.6 293.2 429.1 306.5 429.6 294.9 430.0 310.9 430.5 300.0 431.0 289.5 431.5 301.5 432.0 308.9 432.5 345.0 432.9 292.7 433.4 307.8 433.9 329.8 434.4 262.5 434.9 268.9 435.3 279.4 435.8 299.9 436.3 348.4 436.8 309.5 437.3 325.1 437.7 297.9 438.2 255.4 438.7 258.3 439.2 321.6 439.7 305.8 440.1 277.7 440.6 323.7 441.1 273.3 441.6 324.1 442.1 330.2 442.5 288.2 443.0 281.7 443.5 318.9 444.0 282.1 444.5 319.4 444.9 280.4 445.4 318.5 445.9 305.1 446.4 295.2 446.9 286.5 447.3 308.1 447.8 267.7 448.3 298.6 448.8 296.4 449.3 316.9 449.7 280.3 450.2 336.8 450.7 298.4 451.2 282.8 451.7 330.9 452.2 336.3 452.6 301.3 453.1 288.0 453.6 305.4 454.1 292.1 454.6 299.4 455.0 335.0 455.5 313.0 456.0 308.4 456.5 312.4 457.0 304.8 457.4 322.1 457.9 322.9 458.4 299.3 458.9 308.4 459.4 352.4 459.8 314.7 460.3 303.3 460.8 345.9 461.3 307.2 461.8 286.3 462.2 320.1 462.7 290.4 463.2 298.2 463.7 314.0 464.2 305.5 464.6 293.6 465.1 297.8 465.6 297.1 466.1 330.7 466.6 295.0 467.0 298.0 467.5 347.8 468.0 298.7 468.5 337.7 469.0 334.6 469.4 306.9 469.9 283.0 470.4 318.8 470.9 323.2 471.4 329.0 471.9 312.2 472.3 333.9 472.8 337.6 473.3 291.4 473.8 338.8 474.3 315.2 474.7 301.3 475.2 306.2 475.7 348.2 476.2 331.4 476.7 279.0 477.1 314.8 477.6 310.8 478.1 310.3 478.6 304.1 479.1 286.4 479.5 330.7 480.0 296.7 480.5 307.8 481.0 303.6 481.5 301.4 481.9 329.6 482.4 323.0 482.9 303.2 483.4 298.3 483.9 307.5 484.3 335.1 484.8 319.3 485.3 321.6 485.8 311.2 486.3 312.7 486.7 322.0 487.2 283.1 487.7 349.0 488.2 303.6 488.7 308.0 489.1 344.5 489.6 323.5 490.1 320.4 490.6 308.7 491.1 290.4 491.6 323.8 492.0 343.3 492.5 303.8 493.0 347.0 493.5 300.0 494.0 307.7 494.4 331.5 494.9 322.2 495.4 335.6 495.9 308.6 496.4 303.4 496.8 287.8 497.3 300.7 497.8 303.4 498.3 297.0 498.8 330.3 499.2 312.1 499.7 287.2 500.2 372.4 500.7 309.7 501.2 302.0 501.6 349.7 502.1 348.5 502.6 304.9 503.1 299.0 503.6 308.3 504.0 349.0 504.5 322.0 505.0 312.8 505.5 327.9 506.0 351.5 506.4 302.8 506.9 322.1 507.4 303.5 507.9 371.0 508.4 364.5 508.8 348.5 509.3 328.3 509.8 343.5 510.3 291.7 510.8 336.9 511.3 306.8 511.7 307.3 512.2 319.2 512.7 326.2 513.2 343.9 513.7 346.6 514.1 338.6 514.6 316.2 515.1 346.9 515.6 332.2 516.1 357.0 516.5 317.9 517.0 283.5 517.5 326.7 518.0 376.3 518.5 345.0 518.9 332.9 519.4 353.4 519.9 346.5 520.4 346.0 520.9 328.0 521.3 339.4 521.8 342.0 522.3 326.5 522.8 317.9 523.3 341.7 523.7 357.5 524.2 351.7 524.7 349.2 525.2 349.7 525.7 388.7 526.1 345.7 526.6 360.5 527.1 377.9 527.6 342.7 528.1 346.9 528.5 361.7 529.0 374.0 529.5 348.7 530.0 349.9 530.5 345.2 531.0 321.4 531.4 364.8 531.9 339.7 532.4 312.8 532.9 342.3 533.4 313.2 533.8 327.0 534.3 346.3 534.8 329.2 535.3 366.4 535.8 319.7 536.2 352.1 536.7 357.9 537.2 374.9 537.7 365.3 538.2 352.9 538.6 350.4 539.1 348.1 539.6 370.6 540.1 337.8 540.6 359.9 541.0 348.9 541.5 355.4 542.0 346.4 542.5 391.0 543.0 339.9 543.4 357.0 543.9 357.8 544.4 364.3 544.9 361.7 545.4 361.6 545.8 372.2 546.3 326.9 546.8 355.1 547.3 332.6 547.8 359.9 548.2 334.3 548.7 338.8 549.2 355.7 549.7 382.8 550.2 368.2 550.7 363.4 551.1 384.1 551.6 341.4 552.1 320.8 552.6 351.8 553.1 354.8 553.5 382.9 554.0 399.8 554.5 336.8 555.0 406.7 555.5 390.4 555.9 377.6 556.4 369.4 556.9 407.3 557.4 364.9 557.9 355.2 558.3 366.7 558.8 339.6 559.3 373.6 559.8 363.3 560.3 371.7 560.7 372.6 561.2 347.2 561.7 390.8 562.2 348.8 562.7 383.7 563.1 339.0 563.6 375.1 564.1 353.8 564.6 369.8 565.1 357.6 565.5 330.2 566.0 349.9 566.5 371.7 567.0 382.1 567.5 344.6 567.9 333.1 568.4 356.1 568.9 368.4 569.4 361.1 569.9 358.2 570.4 388.6 570.8 391.0 571.3 387.2 571.8 357.2 572.3 375.8 572.8 371.3 573.2 349.3 573.7 391.2 574.2 377.2 574.7 367.2 575.2 401.7 575.6 390.2 576.1 392.2 576.6 398.6 577.1 390.2 577.6 354.9 578.0 370.9 578.5 396.1 579.0 364.6 579.5 379.3 580.0 386.1 580.4 405.0 580.9 402.7 581.4 395.8 581.9 376.6 582.4 396.6 582.8 389.9 583.3 377.8 583.8 405.2 584.3 390.1 584.8 368.0 585.2 404.3 585.7 377.4 586.2 392.8 586.7 355.3 587.2 382.4 587.6 366.1 588.1 365.9 588.6 349.4 589.1 421.9 589.6 381.3 590.1 388.4 590.5 404.2 591.0 382.5 591.5 394.1 592.0 361.0 592.5 388.9 592.9 378.4 593.4 394.9 593.9 389.4 594.4 361.9 594.9 353.9 595.3 369.0 595.8 400.4 596.3 395.1 596.8 395.0 597.3 352.4 597.7 340.8 598.2 377.6 598.7 383.1 599.2 378.5 599.7 395.8 600.1 386.8 600.6 369.1 601.1 374.8 601.6 393.2 602.1 392.2 602.5 389.9 603.0 431.5 603.5 387.2 604.0 394.3 604.5 374.9 604.9 386.4 605.4 402.3 605.9 403.3 606.4 390.9 606.9 400.9 607.3 395.2 607.8 361.5 608.3 337.4 608.8 435.7 609.3 410.1 609.8 394.8 610.2 365.7 610.7 374.1 611.2 420.5 611.7 348.3 612.2 391.7 612.6 412.9 613.1 400.6 613.6 411.6 614.1 396.4 614.6 440.8 615.0 381.4 615.5 375.9 616.0 404.8 616.5 425.3 617.0 399.7 617.4 419.2 617.9 392.0 618.4 381.0 618.9 426.3 619.4 429.6 619.8 429.2 620.3 395.3 620.8 383.1 621.3 383.2 621.8 399.9 622.2 414.3 622.7 413.3 623.2 379.9 623.7 408.5 624.2 405.7 624.6 407.3 625.1 405.7 625.6 402.9 626.1 417.0 626.6 409.2 627.0 411.2 627.5 395.7 628.0 414.8 628.5 406.2 629.0 372.0 629.5 417.2 629.9 404.6 630.4 425.5 630.9 407.0 631.4 408.5 631.9 414.1 632.3 410.6 632.8 403.4 633.3 380.5 633.8 443.4 634.3 384.9 634.7 406.5 635.2 423.9 635.7 419.5 636.2 423.0 636.7 426.8 637.1 435.6 637.6 419.3 638.1 464.4 638.6 397.5 639.1 419.1 639.5 409.3 640.0 406.5 640.5 421.0 641.0 441.4 641.5 404.6 641.9 404.9 642.4 429.8 642.9 427.0 643.4 451.5 643.9 435.9 644.3 422.6 644.8 413.3 645.3 422.9 645.8 416.6 646.3 396.6 646.7 420.3 647.2 417.5 647.7 416.9 648.2 413.8 648.7 450.2 649.2 433.6 649.6 438.0 650.1 412.1 650.6 405.3 651.1 418.2 651.6 427.5 652.0 417.8 652.5 420.8 653.0 440.6 653.5 429.7 654.0 408.2 654.4 418.0 654.9 414.4 655.4 428.9 655.9 406.4 656.4 423.5 656.8 438.5 657.3 427.6 657.8 412.0 658.3 417.4 658.8 430.2 659.2 436.6 659.7 442.9 660.2 426.6 660.7 407.2 661.2 453.7 661.6 435.1 662.1 437.2 662.6 435.8 663.1 413.5 663.6 426.0 664.0 436.0 664.5 449.3 665.0 433.3 665.5 380.2 666.0 428.9 666.4 439.1 666.9 455.2 667.4 445.8 667.9 475.9 668.4 458.4 668.9 457.4 669.3 450.9 669.8 412.3 670.3 449.9 670.8 446.1 671.3 427.6 671.7 446.5 672.2 444.0 672.7 429.5 673.2 435.5 673.7 433.5 674.1 442.0 674.6 431.4 675.1 447.9 675.6 407.1 676.1 434.7 676.5 411.6 677.0 431.9 677.5 448.9 678.0 440.9 678.5 439.0 678.9 442.3 679.4 467.5 679.9 423.4 680.4 456.8 680.9 417.3 681.3 434.9 681.8 445.7 682.3 429.2 682.8 447.0 683.3 456.0 683.7 424.4 684.2 443.2 684.7 438.6 685.2 413.0 685.7 442.3 686.1 432.5 686.6 468.1 687.1 431.9 687.6 474.6 688.1 438.1 688.6 479.2 689.0 456.4 689.5 455.3 690.0 461.3 690.5 463.2 691.0 471.7 691.4 477.4 691.9 443.5 692.4 429.0 692.9 405.9 693.4 443.7 693.8 462.8 694.3 456.8 694.8 452.8 695.3 445.4 695.8 440.9 696.2 447.0 696.7 458.3 697.2 423.3 697.7 464.4 698.2 428.8 698.6 450.3 699.1 442.8 699.6 447.4 700.1 436.5 700.6 435.0 701.0 450.3 701.5 436.6 702.0 494.6 702.5 447.9 703.0 444.2 703.4 446.1 703.9 437.8 704.4 415.5 704.9 451.5 705.4 460.9 705.8 431.6 706.3 456.3 706.8 436.7 707.3 456.0 707.8 462.6 708.3 464.8 708.7 464.2 709.2 445.9 709.7 471.7 710.2 450.4 710.7 463.5 711.1 469.4 711.6 453.2 712.1 437.6 712.6 468.4 713.1 440.6 713.5 444.4 714.0 441.2 714.5 472.8 715.0 456.7 715.5 423.2 715.9 471.5 716.4 493.2 716.9 488.9 717.4 450.9 717.9 461.5 718.3 468.6 718.8 474.9 719.3 461.2 719.8 443.2 720.3 473.1 720.7 471.0 721.2 439.9 721.7 455.5 722.2 465.9 722.7 461.6 723.1 470.2 723.6 474.7 724.1 470.8 724.6 460.4 725.1 440.8 725.5 472.4 726.0 485.0 726.5 494.3 727.0 462.4 727.5 462.5 728.0 486.3 728.4 486.3 728.9 468.9 729.4 474.9 729.9 451.6 730.4 473.1 730.8 450.8 731.3 461.7 731.8 462.2 732.3 456.8 732.8 430.8 733.2 451.4 733.7 469.9 734.2 463.8 734.7 458.6 735.2 471.8 735.6 476.0 736.1 478.6 736.6 452.5 737.1 465.7 737.6 460.2 738.0 451.7 738.5 442.0 739.0 464.2 739.5 452.1 740.0 500.0 740.4 464.5 740.9 462.6 741.4 460.0 741.9 495.9 742.4 451.6 742.8 464.0 743.3 454.5 743.8 464.8 744.3 466.3 744.8 484.2 745.2 444.7 745.7 466.8 746.2 492.6 746.7 459.3 747.2 464.6 747.7 453.6 748.1 426.5 748.6 466.1 749.1 486.3 749.6 460.6 750.1 439.1 750.5 472.3 751.0 469.5 751.5 484.0 752.0 482.7 752.5 464.4 752.9 475.0 753.4 440.7 753.9 486.3 754.4 472.0 754.9 486.1 755.3 485.9 755.8 465.0 756.3 467.3 756.8 456.1 757.3 437.7 757.7 467.9 758.2 472.5 758.7 453.4 759.2 481.5 759.7 472.1 760.1 477.7 760.6 458.9 761.1 443.6 761.6 483.2 762.1 480.7 762.5 469.7 763.0 465.0 763.5 467.4 764.0 469.7 764.5 464.1 764.9 441.0 765.4 484.3 765.9 449.2 766.4 467.3 766.9 467.9 767.4 476.8 767.8 448.0 768.3 491.6 768.8 483.2 769.3 485.1 769.8 492.8 770.2 461.1 770.7 425.1 771.2 478.4 771.7 493.3 772.2 490.8 772.6 464.3 773.1 470.5 773.6 475.5 774.1 442.3 774.6 458.4 775.0 457.2 775.5 489.3 776.0 452.8 776.5 484.5 777.0 458.2 777.4 429.9 777.9 487.4 778.4 437.0 778.9 460.3 779.4 476.7 779.8 443.1 780.3 434.0 780.8 470.8 781.3 458.5 781.8 441.6 782.2 446.7 782.7 460.1 783.2 483.4 783.7 466.8 784.2 483.3 784.6 500.4 785.1 496.1 785.6 500.0 786.1 498.0 786.6 455.8 787.1 499.6 787.5 486.7 788.0 480.4 788.5 466.4 789.0 459.3 789.5 467.0 789.9 484.0 790.4 467.0 790.9 472.9 791.4 476.3 791.9 496.1 792.3 482.0 792.8 484.7 793.3 507.4 793.8 482.9 794.3 497.2 794.7 472.7 795.2 494.0 795.7 491.2 796.2 492.5 796.7 483.2 797.1 475.2 797.6 486.5 798.1 484.4 798.6 507.3 799.1 505.8 799.5 474.5 800.0 502.4 800.5 486.1 801.0 500.5 801.5 486.8 801.9 472.3 802.4 509.9 802.9 501.8 803.4 476.9 803.9 467.3 804.3 487.9 804.8 478.5 805.3 491.0 805.8 506.0 806.3 518.9 806.8 491.8 807.2 518.0 807.7 515.0 808.2 491.3 808.7 473.0 809.2 510.9 809.6 507.5 810.1 533.8 810.6 520.1 811.1 510.6 811.6 524.4 812.0 483.6 812.5 502.4 813.0 495.6 813.5 525.9 814.0 508.5 814.4 454.5 814.9 520.9 815.4 487.1 815.9 512.4 816.4 493.9 816.8 504.9 817.3 510.9 817.8 504.5 818.3 487.5 818.8 522.8 819.2 508.0 819.7 502.0 820.2 512.9 820.7 494.5 821.2 530.8 821.6 506.2 822.1 508.4 822.6 508.3 823.1 489.6 823.6 485.8 824.0 506.7 824.5 508.9 825.0 523.8 825.5 510.5 826.0 487.7 826.5 511.9 826.9 516.4 827.4 519.1 827.9 509.2 828.4 486.1 828.9 521.7 829.3 493.5 829.8 513.0 830.3 481.1 830.8 515.9 831.3 492.9 831.7 520.7 832.2 530.8 832.7 522.0 833.2 487.2 833.7 490.5 834.1 491.5 834.6 514.3 835.1 509.6 835.6 506.7 836.1 508.9 836.5 512.9 837.0 513.9 837.5 529.3 838.0 503.3 838.5 507.0 838.9 476.3 839.4 484.1 839.9 493.4 840.4 486.0 840.9 506.8 841.3 518.8 841.8 496.7 842.3 495.8 842.8 495.2 843.3 504.5 843.7 494.1 844.2 508.1 844.7 505.7 845.2 505.5 845.7 510.5 846.2 497.9 846.6 497.0 847.1 517.4 847.6 485.8 848.1 492.0 848.6 473.3 849.0 456.9 849.5 447.4 850.0 432.6 850.5 436.7 851.0 421.9 851.4 422.4 851.9 448.7 852.4 434.2 852.9 461.0 853.4 457.2 853.8 475.4 854.3 462.1 854.8 480.7 855.3 523.4 855.8 500.9 856.2 506.4 856.7 496.5 857.2 505.9 857.7 474.7 858.2 476.4 858.6 490.6 859.1 489.6 859.6 462.4 860.1 454.9 860.6 440.4 861.0 431.4 861.5 406.8 862.0 397.9 862.5 418.0 863.0 399.2 863.4 420.1 863.9 436.7 864.4 443.0 864.9 473.1 865.4 472.3 865.9 484.9 866.3 476.5 866.8 484.1 867.3 505.1 867.8 504.5 868.3 493.3 868.7 506.2 869.2 504.1 869.7 504.0 870.2 525.4 870.7 496.2 871.1 508.5 871.6 508.7 872.1 499.1 872.6 485.5 873.1 513.0 873.5 506.7 874.0 503.7 874.5 503.3 875.0 503.3 875.5 489.9 875.9 507.4 876.4 476.5 876.9 502.8 877.4 481.1 877.9 498.0 878.3 513.7 878.8 499.4 879.3 496.1 879.8 510.8 880.3 499.2 880.7 497.2 881.2 497.4 881.7 525.4 882.2 512.9 882.7 510.2 883.1 485.6 883.6 512.2 884.1 484.1 884.6 510.1 885.1 486.6 885.6 531.8 886.0 478.2 886.5 520.9 887.0 514.7 887.5 476.8 888.0 499.3 888.4 524.1 888.9 519.5 889.4 478.4 889.9 495.1 890.4 485.5 890.8 487.6 891.3 493.2 891.8 529.6 892.3 504.5 892.8 499.1 893.2 497.5 893.7 512.1 894.2 512.4 894.7 488.7 895.2 523.6 895.6 486.1 896.1 497.8 896.6 508.4 897.1 526.7 897.6 496.4 898.0 505.5 898.5 520.2 899.0 510.0 899.5 517.1 900.0 515.5 900.4 503.8 900.9 508.8 901.4 512.6 901.9 498.2 902.4 521.4 902.8 468.0 903.3 482.6 903.8 515.8 904.3 498.7 904.8 479.9 905.3 490.0 905.7 493.0 906.2 458.1 906.7 462.2 907.2 428.7 907.7 402.7 908.1 372.1 908.6 354.9 909.1 287.4 909.6 267.5 910.1 260.8 910.5 225.4 911.0 228.1 911.5 281.4 912.0 304.1 912.5 336.9 912.9 375.7 913.4 390.7 913.9 473.7 914.4 437.4 914.9 460.8 915.3 457.3 915.8 479.4 916.3 512.8 916.8 494.0 917.3 504.7 917.7 490.5 918.2 525.2 918.7 502.0 919.2 482.1 919.7 512.2 920.1 496.1 920.6 510.9 921.1 504.5 921.6 506.7 922.1 505.2 922.5 490.3 923.0 481.8 923.5 518.2 924.0 502.3 924.5 508.6 925.0 497.9 925.4 475.4 925.9 486.4 926.4 525.6 926.9 493.9 927.4 499.9 927.8 484.3 928.3 498.1 928.8 500.5 929.3 502.9 929.8 505.1 930.2 497.1 930.7 498.1 931.2 506.4 931.7 511.4 932.2 504.8 932.6 532.3 933.1 510.1 933.6 509.5 934.1 497.8 934.6 522.4 935.0 492.7 935.5 484.1 936.0 493.6 936.5 516.9 937.0 491.4 937.4 526.9 937.9 507.9 938.4 486.3 938.9 505.1 939.4 534.5 939.8 496.2 940.3 489.8 940.8 516.4 941.3 528.0 941.8 523.9 942.2 504.5 942.7 512.1 943.2 514.2 943.7 526.7 944.2 541.0 944.7 508.3 945.1 528.9 945.6 505.1 946.1 518.8 946.6 496.8 947.1 499.4 947.5 516.6 948.0 497.7 948.5 523.7 949.0 502.9 949.5 512.2 949.9 509.9 950.4 506.4 950.9 513.3 951.4 527.1 951.9 556.6 952.3 494.5 952.8 516.2 953.3 509.4 953.8 498.8 954.3 516.3 954.7 499.6 955.2 511.3 955.7 530.5 956.2 483.4 956.7 516.4 957.1 519.4 957.6 499.2 958.1 520.7 958.6 518.3 959.1 508.3 959.5 531.0 960.0 494.7 960.5 523.1 961.0 510.5 961.5 498.7 961.9 511.6 962.4 509.2 962.9 526.2 963.4 492.9 963.9 511.8 964.3 508.2 964.8 537.6 965.3 498.9 965.8 530.4 966.3 489.9 966.8 520.4 967.2 513.5 967.7 521.1 968.2 505.6 968.7 487.7 969.2 493.7 969.6 535.1 970.1 519.3 970.6 503.9 971.1 529.5 971.6 505.8 972.0 506.1 972.5 499.3 973.0 533.9 973.5 545.4 974.0 503.3 974.4 521.5 974.9 531.6 975.4 548.1 975.9 483.2 976.4 519.9 976.8 527.3 977.3 496.8 977.8 524.1 978.3 521.2 978.8 528.9 979.2 510.2 979.7 524.8 980.2 510.2 980.7 527.7 981.2 521.4 981.6 513.9 982.1 499.0 982.6 543.3 983.1 535.7 983.6 532.5 984.0 510.4 984.5 515.1 985.0 544.3 985.5 531.1 986.0 508.3 986.5 521.4 986.9 522.9 987.4 518.2 987.9 507.6 988.4 539.4 988.9 530.0 989.3 518.8 989.8 499.2 990.3 513.6 990.8 522.1 991.3 534.8 991.7 517.2 992.2 538.6 992.7 524.8 993.2 512.3 993.7 483.1 994.1 506.4 994.6 502.1 995.1 521.5 995.6 528.6 996.1 543.9 996.5 523.9 997.0 507.7 997.5 558.2 998.0 529.1 998.5 521.0 998.9 521.2 999.4 505.7 999.9 534.4 1000.4 530.8 1000.9 548.4 1001.3 541.5 1001.8 538.4 1002.3 544.1 1002.8 522.2 1003.3 520.1 1003.7 525.9 1004.2 508.9 1004.7 524.8 1005.2 522.3 1005.7 536.8 1006.2 527.2 1006.6 500.2 1007.1 528.2 1007.6 548.2 1008.1 501.8 1008.6 517.4 1009.0 528.6 1009.5 509.6 1010.0 520.9 1010.5 529.7 1011.0 510.2 1011.4 533.4 1011.9 535.3 1012.4 511.5 1012.9 530.1 1013.4 545.4 1013.8 527.6 1014.3 536.5 1014.8 539.6 1015.3 527.3 1015.8 544.8 1016.2 536.5 1016.7 517.0 1017.2 538.8 1017.7 543.8 1018.2 543.1 1018.6 522.6 1019.1 538.6 1019.6 551.8 1020.1 535.6 1020.6 549.4 1021.0 551.2 1021.5 532.3 1022.0 542.4 1022.5 529.0 1023.0 548.6 1023.4 532.2 1023.9 525.8 1024.4 533.4 1024.9 532.9 1025.4 539.5 1025.9 540.9 1026.3 517.8 1026.8 525.2 1027.3 539.8 1027.8 541.7 1028.3 536.2 1028.7 572.6 1029.2 551.2 1029.7 534.3 1030.2 545.9 1030.7 554.7 1031.1 541.0 1031.6 511.1 1032.1 537.4 1032.6 536.9 1033.1 566.7 1033.5 510.3 1034.0 558.6 1034.5 534.5 1035.0 550.1 1035.5 532.8 1035.9 539.6 1036.4 553.3 1036.9 538.6 1037.4 552.5 1037.9 536.5 1038.3 531.9 1038.8 534.7 1039.3 530.8 1039.8 536.4 1040.3 557.6 1040.7 521.7 1041.2 514.9 1041.7 538.3 1042.2 562.6 1042.7 553.6 1043.1 557.7 1043.6 556.7 1044.1 528.8 1044.6 540.9 1045.1 501.6 1045.6 530.8 1046.0 548.1 1046.5 517.6 1047.0 510.5 1047.5 521.4 1048.0 543.0 1048.4 556.6 1048.9 576.8 1049.4 560.5 1049.9 518.9 1050.4 507.6 1050.8 542.7 1051.3 555.7 1051.8 517.9 1052.3 533.5 1052.8 534.6 1053.2 541.6 1053.7 538.6 1054.2 548.6 1054.7 556.3 1055.2 542.5 1055.6 552.2 1056.1 569.8 1056.6 527.3 1057.1 527.0 1057.6 549.1 1058.0 568.1 1058.5 544.4 1059.0 557.5 1059.5 537.8 1060.0 555.2 1060.4 533.4 1060.9 551.9 1061.4 548.0 1061.9 548.1 1062.4 562.0 1062.8 557.7 1063.3 534.3 1063.8 555.3 1064.3 518.9 1064.8 556.9 1065.3 581.8 1065.7 550.5 1066.2 550.3 1066.7 544.1 1067.2 555.0 1067.7 537.0 1068.1 552.9 1068.6 539.6 1069.1 537.5 1069.6 545.3 1070.1 542.8 1070.5 519.2 1071.0 573.0 1071.5 545.8 1072.0 520.0 1072.5 559.1 1072.9 543.5 1073.4 546.8 1073.9 554.0 1074.4 531.4 1074.9 502.6 1075.3 542.7 1075.8 547.5 1076.3 558.3 1076.8 533.6 1077.3 540.5 1077.7 549.9 1078.2 539.9 1078.7 540.8 1079.2 548.0 1079.7 530.4 1080.1 566.7 1080.6 531.5 1081.1 545.1 1081.6 540.0 1082.1 534.7 1082.5 552.2 1083.0 558.9 1083.5 565.2 1084.0 553.0 1084.5 538.6 1085.0 557.0 1085.4 524.7 1085.9 545.7 1086.4 552.4 1086.9 553.0 1087.4 529.0 1087.8 524.1 1088.3 568.5 1088.8 538.1 1089.3 522.2 1089.8 527.9 1090.2 545.6 1090.7 562.0 1091.2 545.4 1091.7 562.4 1092.2 548.7 1092.6 552.2 1093.1 559.5 1093.6 540.4 1094.1 549.9 1094.6 540.4 1095.0 536.9 1095.5 555.1 1096.0 534.5 1096.5 547.2 1097.0 535.0 1097.4 544.9 1097.9 538.8 1098.4 561.6 1098.9 547.4 1099.4 547.4 1099.8 569.5 1100.3 505.9 1100.8 530.8 1101.3 508.1 1101.8 546.4 1102.2 552.7 1102.7 555.6 1103.2 550.4 1103.7 534.5 1104.2 571.3 1104.7 551.1 1105.1 543.2 1105.6 531.2 1106.1 552.8 1106.6 540.1 1107.1 540.8 1107.5 550.0 1108.0 550.2 1108.5 535.7 1109.0 564.8 1109.5 533.3 1109.9 531.8 1110.4 551.8 1110.9 549.3 1111.4 548.5 1111.9 541.9 1112.3 548.3 1112.8 539.9 1113.3 524.8 1113.8 558.2 1114.3 533.8 1114.7 544.8 1115.2 558.3 1115.7 548.5 1116.2 586.6 1116.7 528.8 1117.1 537.9 1117.6 549.7 1118.1 567.5 1118.6 545.1 1119.1 528.7 1119.5 564.7 1120.0 536.0 1120.5 546.1 1121.0 561.3 1121.5 539.7 1121.9 542.8 1122.4 556.0 1122.9 546.4 1123.4 553.4 1123.9 536.2 1124.4 547.8 1124.8 534.3 1125.3 527.9 1125.8 574.2 1126.3 556.1 1126.8 562.6 1127.2 536.4 1127.7 549.6 1128.2 547.2 1128.7 530.3 1129.2 557.8 1129.6 540.2 1130.1 547.5 1130.6 529.2 1131.1 564.3 1131.6 561.1 1132.0 556.0 1132.5 537.9 1133.0 543.2 1133.5 567.8 1134.0 546.9 1134.4 554.6 1134.9 552.9 1135.4 535.4 1135.9 572.3 1136.4 523.4 1136.8 554.2 1137.3 549.9 1137.8 528.6 1138.3 555.9 1138.8 558.6 1139.2 552.1 1139.7 539.8 1140.2 557.7 1140.7 567.0 1141.2 554.6 1141.6 575.6 1142.1 563.6 1142.6 562.4 1143.1 571.1 1143.6 542.5 1144.1 544.5 1144.5 559.0 1145.0 559.1 1145.5 572.9 1146.0 567.9 1146.5 554.4 1146.9 555.0 1147.4 548.2 1147.9 547.0 1148.4 545.9 1148.9 564.8 1149.3 545.7 1149.8 547.3 1150.3 554.6 1150.8 545.3 1151.3 549.3 1151.7 522.1 1152.2 557.8 1152.7 548.4 1153.2 555.4 1153.7 557.9 1154.1 527.0 1154.6 586.4 1155.1 555.3 1155.6 555.7 1156.1 528.5 1156.5 562.2 1157.0 559.4 1157.5 548.9 1158.0 557.5 1158.5 572.0 1158.9 549.7 1159.4 541.9 1159.9 573.1 1160.4 558.4 1160.9 552.4 1161.3 586.9 1161.8 557.2 1162.3 552.6 1162.8 558.8 1163.3 549.5 1163.8 558.1 1164.2 557.2 1164.7 546.1 1165.2 551.6 1165.7 559.5 1166.2 560.5 1166.6 563.3 1167.1 566.2 1167.6 558.7 1168.1 562.5 1168.6 550.0 1169.0 551.7 1169.5 569.7 1170.0 527.8 1170.5 560.4 1171.0 599.2 1171.4 529.5 1171.9 576.1 1172.4 530.8 1172.9 560.2 1173.4 577.7 1173.8 575.8 1174.3 542.5 1174.8 537.0 1175.3 535.0 1175.8 564.9 1176.2 549.5 1176.7 555.0 1177.2 558.5 1177.7 560.6 1178.2 562.4 1178.6 556.6 1179.1 532.6 1179.6 575.2 1180.1 516.8 1180.6 572.1 1181.0 546.6 1181.5 552.3 1182.0 547.8 1182.5 549.9 1183.0 554.8 1183.5 551.2 1183.9 539.9 1184.4 567.0 1184.9 547.2 1185.4 573.9 1185.9 553.2 1186.3 545.5 1186.8 561.4 1187.3 567.7 1187.8 542.6 1188.3 551.6 1188.7 575.3 1189.2 541.7 1189.7 543.8 1190.2 558.0 1190.7 538.9 1191.1 521.6 1191.6 532.7 1192.1 561.1 1192.6 565.0 1193.1 564.2 1193.5 561.4 1194.0 539.0 1194.5 565.5 1195.0 572.2 1195.5 546.6 1195.9 569.4 1196.4 551.3 1196.9 559.1 1197.4 561.6 1197.9 536.0 1198.3 576.9 1198.8 544.8 1199.3 555.4 1199.8 550.0 1200.3 563.2 1200.7 562.9 1201.2 557.3 1201.7 576.7 1202.2 561.0 1202.7 551.7 1203.2 517.3 1203.6 553.4 1204.1 553.3 1204.6 545.4 1205.1 545.6 1205.6 565.8 1206.0 572.1 1206.5 583.9 1207.0 573.5 1207.5 548.0 1208.0 561.4 1208.4 539.0 1208.9 568.0 1209.4 562.9 1209.9 549.6 1210.4 556.6 1210.8 554.7 1211.3 549.4 1211.8 576.5 1212.3 601.2 1212.8 569.7 1213.2 573.0 1213.7 560.6 1214.2 553.6 1214.7 588.8 1215.2 553.4 1215.6 564.0 1216.1 556.9 1216.6 566.8 1217.1 558.0 1217.6 566.9 1218.0 541.2 1218.5 557.3 1219.0 577.7 1219.5 544.5 1220.0 549.6 1220.4 577.8 1220.9 564.5 1221.4 573.7 1221.9 528.0 1222.4 561.0 1222.9 541.3 1223.3 539.7 1223.8 564.7 1224.3 575.4 1224.8 538.3 1225.3 543.7 1225.7 551.0 1226.2 557.3 1226.7 540.6 1227.2 590.3 1227.7 567.2 1228.1 554.0 1228.6 551.8 1229.1 591.2 1229.6 590.0 1230.1 552.2 1230.5 563.7 1231.0 576.3 1231.5 542.4 1232.0 550.6 1232.5 577.4 1232.9 549.0 1233.4 552.5 1233.9 539.6 1234.4 547.5 1234.9 567.2 1235.3 545.9 1235.8 538.6 1236.3 547.1 1236.8 579.3 1237.3 555.9 1237.7 543.9 1238.2 551.7 1238.7 553.1 1239.2 545.8 1239.7 515.7 1240.1 541.4 1240.6 530.7 1241.1 541.9 1241.6 508.3 1242.1 539.0 1242.6 516.0 1243.0 498.6 1243.5 541.4 1244.0 517.4 1244.5 532.4 1245.0 528.1 1245.4 549.1 1245.9 552.9 1246.4 556.6 1246.9 554.4 1247.4 525.0 1247.8 526.7 1248.3 555.0 1248.8 540.7 1249.3 561.9 1249.8 558.8 1250.2 537.7 1250.7 543.6 1251.2 542.8 1251.7 546.6 1252.2 556.3 1252.6 568.9 1253.1 578.2 1253.6 546.3 1254.1 552.1 1254.6 581.6 1255.0 572.5 1255.5 563.5 1256.0 527.7 1256.5 546.4 1257.0 562.7 1257.4 552.3 1257.9 588.3 1258.4 561.9 1258.9 564.7 1259.4 545.5 1259.8 546.4 1260.3 551.7 1260.8 552.3 1261.3 557.8 1261.8 566.3 1262.3 564.5 1262.7 575.2 1263.2 542.5 1263.7 564.3 1264.2 564.7 1264.7 583.5 1265.1 558.5 1265.6 566.1 1266.1 550.3 1266.6 567.5 1267.1 567.2 1267.5 553.0 1268.0 555.7 1268.5 561.4 1269.0 570.0 1269.5 546.0 1269.9 574.3 1270.4 557.5 1270.9 588.6 1271.4 582.5 1271.9 556.6 1272.3 553.6 1272.8 596.6 1273.3 571.2 1273.8 570.4 1274.3 556.7 1274.7 560.8 1275.2 573.9 1275.7 571.3 1276.2 551.3 1276.7 580.1 1277.1 567.2 1277.6 549.8 1278.1 576.9 1278.6 560.7 1279.1 574.0 1279.5 555.5 1280.0 568.3 1280.5 540.8 1281.0 568.6 1281.5 542.4 1282.0 565.8 1282.4 528.4 1282.9 562.8 1283.4 573.8 1283.9 570.5 1284.4 580.4 1284.8 549.0 1285.3 585.7 1285.8 586.3 1286.3 547.4 1286.8 553.1 1287.2 556.3 1287.7 563.9 1288.2 566.9 1288.7 530.2 1289.2 572.7 1289.6 561.0 1290.1 550.4 1290.6 577.8 1291.1 559.9 1291.6 580.5 1292.0 572.2 1292.5 560.4 1293.0 581.1 1293.5 576.1 1294.0 558.0 1294.4 542.7 1294.9 557.5 1295.4 573.7 1295.9 561.9 1296.4 589.7 1296.8 568.9 1297.3 568.1 1297.8 571.0 1298.3 553.3 1298.8 563.9 1299.2 556.5 1299.7 533.2 1300.2 541.1 1300.7 576.0 1301.2 559.7 1301.7 564.2 1302.1 545.5 1302.6 557.9 1303.1 576.9 1303.6 567.5 1304.1 559.0 1304.5 587.4 1305.0 565.5 1305.5 561.6 1306.0 582.3 1306.5 542.5 1306.9 574.2 1307.4 551.2 1307.9 555.8 1308.4 557.3 1308.9 568.6 1309.3 568.3 1309.8 571.1 1310.3 569.9 1310.8 586.4 1311.3 590.4 1311.7 576.9 1312.2 577.6 1312.7 562.1 1313.2 552.1 1313.7 575.5 1314.1 567.9 1314.6 579.3 1315.1 542.3 1315.6 604.5 1316.1 550.1 1316.5 568.2 1317.0 581.4 1317.5 548.7 1318.0 560.2 1318.5 540.0 1318.9 548.2 1319.4 541.2 1319.9 569.4 1320.4 572.1 1320.9 563.7 1321.4 585.6 1321.8 587.3 1322.3 568.1 1322.8 565.2 1323.3 564.5 1323.8 562.1 1324.2 586.4 1324.7 571.7 1325.2 563.9 1325.7 565.4 1326.2 576.1 1326.6 563.1 1327.1 573.0 1327.6 568.2 1328.1 587.4 1328.6 584.7 1329.0 549.3 1329.5 566.6 1330.0 578.7 1330.5 562.7 1331.0 580.1 1331.4 573.6 1331.9 577.2 1332.4 568.2 1332.9 573.3 1333.4 576.3 1333.8 548.9 1334.3 556.6 1334.8 555.2 1335.3 592.4 1335.8 573.5 1336.2 574.5 1336.7 571.8 1337.2 562.3 1337.7 559.2 1338.2 581.1 1338.6 564.4 1339.1 591.3 1339.6 572.3 1340.1 570.9 1340.6 566.6 1341.1 568.7 1341.5 570.2 1342.0 590.7 1342.5 601.9 1343.0 554.0 1343.5 573.4 1343.9 579.6 1344.4 557.5 1344.9 561.3 1345.4 563.7 1345.9 537.0 1346.3 579.0 1346.8 569.5 1347.3 568.9 1347.8 571.3 1348.3 573.6 1348.7 602.0 1349.2 572.8 1349.7 581.7 1350.2 563.2 1350.7 575.2 1351.1 566.1 1351.6 568.4 1352.1 558.1 1352.6 559.4 1353.1 576.8 1353.5 580.8 1354.0 577.0 1354.5 561.5 1355.0 575.1 1355.5 536.1 1355.9 583.7 1356.4 570.4 1356.9 574.6 1357.4 586.9 1357.9 565.2 1358.3 584.2 1358.8 565.1 1359.3 578.6 1359.8 565.6 1360.3 575.4 1360.8 591.2 1361.2 562.5 1361.7 563.1 1362.2 567.0 1362.7 575.6 1363.2 609.1 1363.6 563.7 1364.1 543.8 1364.6 562.8 1365.1 550.1 1365.6 564.2 1366.0 572.1 1366.5 558.8 1367.0 562.7 1367.5 546.5 1368.0 574.6 1368.4 561.9 1368.9 587.0 1369.4 586.6 1369.9 560.4 1370.4 567.3 1370.8 573.2 1371.3 582.8 1371.8 549.7 1372.3 571.6 1372.8 598.1 1373.2 571.5 1373.7 575.8 1374.2 572.9 1374.7 556.6 1375.2 585.9 1375.6 576.7 1376.1 575.3 1376.6 583.1 1377.1 584.0 1377.6 547.4 1378.0 579.9 1378.5 565.4 1379.0 575.6 1379.5 563.8 1380.0 561.8 1380.5 586.6 1380.9 573.6 1381.4 569.9 1381.9 569.9 1382.4 575.0 1382.9 573.8 1383.3 541.8 1383.8 562.2 1384.3 571.0 1384.8 584.4 1385.3 592.9 1385.7 561.7 1386.2 600.9 1386.7 575.9 1387.2 581.3 1387.7 567.5 1388.1 566.6 1388.6 594.4 1389.1 572.0 1389.6 573.6 1390.1 590.9 1390.5 598.6 1391.0 554.8 1391.5 572.8 1392.0 575.3 1392.5 600.2 1392.9 609.1 1393.4 574.9 1393.9 580.8 1394.4 587.6 1394.9 591.5 1395.3 571.6 1395.8 587.7 1396.3 566.5 1396.8 539.7 1397.3 557.4 1397.7 579.2 1398.2 587.0 1398.7 545.7 1399.2 551.9 1399.7 576.1 1400.2 530.7 1400.6 584.3 1401.1 590.9 1401.6 536.3 1402.1 587.4 1402.6 574.4 1403.0 596.4 1403.5 581.0 1404.0 574.0 1404.5 579.0 1405.0 590.2 1405.4 580.1 1405.9 578.1 1406.4 558.0 1406.9 584.3 1407.4 578.2 1407.8 602.8 1408.3 577.7 1408.8 576.8 1409.3 569.5 1409.8 587.9 1410.2 575.3 1410.7 568.6 1411.2 600.0 1411.7 602.5 1412.2 572.2 1412.6 564.4 1413.1 593.8 1413.6 567.1 1414.1 616.9 1414.6 576.7 1415.0 591.7 1415.5 561.0 1416.0 578.2 1416.5 593.6 1417.0 584.8 1417.4 571.5 1417.9 612.2 1418.4 589.0 1418.9 575.8 1419.4 570.8 1419.9 575.4 1420.3 597.4 1420.8 568.6 1421.3 579.6 1421.8 568.0 1422.3 596.3 1422.7 577.0 1423.2 591.0 1423.7 587.0 1424.2 571.4 1424.7 588.9 1425.1 592.2 1425.6 563.8 1426.1 589.0 1426.6 627.9 1427.1 575.5 1427.5 588.2 1428.0 561.4 1428.5 585.9 1429.0 571.6 1429.5 590.1 1429.9 579.0 1430.4 563.7 1430.9 594.7 1431.4 576.8 1431.9 566.0 1432.3 580.7 1432.8 566.7 1433.3 585.3 1433.8 579.0 1434.3 574.9 1434.7 589.0 1435.2 562.5 1435.7 593.2 1436.2 552.7 1436.7 601.9 1437.1 582.5 1437.6 576.5 1438.1 570.1 1438.6 587.6 1439.1 578.0 1439.6 577.7 1440.0 594.3 1440.5 574.3 1441.0 577.0 1441.5 586.1 1442.0 594.9 1442.4 578.3 1442.9 582.5 1443.4 581.0 1443.9 590.5 1444.4 600.7 1444.8 567.7 1445.3 578.6 1445.8 579.8 1446.3 588.5 1446.8 601.0 1447.2 580.3 1447.7 583.4 1448.2 596.0 1448.7 563.6 1449.2 570.1 1449.6 574.5 1450.1 580.5 1450.6 583.8 1451.1 573.6 1451.6 604.6 1452.0 571.0 1452.5 577.9 1453.0 595.6 1453.5 591.3 1454.0 580.6 1454.4 585.9 1454.9 592.0 1455.4 580.6 1455.9 589.7 1456.4 568.3 1456.8 581.8 1457.3 558.4 1457.8 568.6 1458.3 565.2 1458.8 597.9 1459.3 574.5 1459.7 584.9 1460.2 568.2 1460.7 578.1 1461.2 577.1 1461.7 569.2 1462.1 592.6 1462.6 558.1 1463.1 589.5 1463.6 617.3 1464.1 569.7 1464.5 581.3 1465.0 559.6 1465.5 580.5 1466.0 557.1 1466.5 589.4 1466.9 574.1 1467.4 555.5 1467.9 563.0 1468.4 559.0 1468.9 576.8 1469.3 592.4 1469.8 575.2 1470.3 564.5 1470.8 569.2 1471.3 582.2 1471.7 547.2 1472.2 588.6 1472.7 586.1 1473.2 546.8 1473.7 596.7 1474.1 558.0 1474.6 577.5 1475.1 596.6 1475.6 557.9 1476.1 555.0 1476.5 565.0 1477.0 565.5 1477.5 578.5 1478.0 573.2 1478.5 573.6 1479.0 573.8 1479.4 577.9 1479.9 568.7 1480.4 584.9 1480.9 580.4 1481.4 566.5 1481.8 605.6 1482.3 563.1 1482.8 590.7 1483.3 570.3 1483.8 585.6 1484.2 587.8 1484.7 592.5 1485.2 600.3 1485.7 569.2 1486.2 620.1 1486.6 586.4 1487.1 569.8 1487.6 562.3 1488.1 613.2 1488.6 603.7 1489.0 580.9 1489.5 591.6 1490.0 599.3 1490.5 582.6 1491.0 575.4 1491.4 580.8 1491.9 592.8 1492.4 581.6 1492.9 564.5 1493.4 591.7 1493.8 557.7 1494.3 571.1 1494.8 598.4 1495.3 584.7 1495.8 584.6 1496.2 582.8 1496.7 595.5 1497.2 580.7 1497.7 554.5 1498.2 584.6 1498.7 539.1 1499.1 553.0 1499.6 602.8 1500.1 595.1 1500.6 574.3 1501.1 579.4 1501.5 581.2 1502.0 593.4 1502.5 568.5 1503.0 566.4 1503.5 569.2 1503.9 578.8 1504.4 579.6 1504.9 569.4 1505.4 584.1 1505.9 558.3 1506.3 570.0 1506.8 560.2 1507.3 554.6 1507.8 584.1 1508.3 561.9 1508.7 551.7 1509.2 565.6 1509.7 551.2 1510.2 573.3 1510.7 577.4 1511.1 580.7 1511.6 553.2 1512.1 567.1 1512.6 595.8 1513.1 569.0 1513.5 590.8 1514.0 595.8 1514.5 557.3 1515.0 594.2 1515.5 589.0 1515.9 591.8 1516.4 603.9 1516.9 587.8 1517.4 583.3 1517.9 591.2 1518.4 578.6 1518.8 590.6 1519.3 556.7 1519.8 608.3 1520.3 577.7 1520.8 592.7 1521.2 589.8 1521.7 587.2 1522.2 587.6 1522.7 587.2 1523.2 564.1 1523.6 579.3 1524.1 603.4 1524.6 573.3 1525.1 573.0 1525.6 616.7 1526.0 604.5 1526.5 609.6 1527.0 588.2 1527.5 592.3 1528.0 599.3 1528.4 596.7 1528.9 588.1 1529.4 569.4 1529.9 579.6 1530.4 569.2 1530.8 611.5 1531.3 584.7 1531.8 587.9 1532.3 594.4 1532.8 590.9 1533.2 598.1 1533.7 582.5 1534.2 570.3 1534.7 615.2 1535.2 581.7 1535.6 585.1 1536.1 580.8 1536.6 584.3 1537.1 592.2 1537.6 602.2 1538.0 577.8 1538.5 596.1 1539.0 583.1 1539.5 608.7 1540.0 575.6 1540.5 593.8 1540.9 602.2 1541.4 574.1 1541.9 594.1 1542.4 594.7 1542.9 581.9 1543.3 589.9 1543.8 606.3 1544.3 596.2 1544.8 587.3 1545.3 590.2 1545.7 599.1 1546.2 610.3 1546.7 603.9 1547.2 603.1 1547.7 614.4 1548.1 572.4 1548.6 573.9 1549.1 562.6 1549.6 604.7 1550.1 562.5 1550.5 592.9 1551.0 603.7 1551.5 574.7 1552.0 584.7 1552.5 590.1 1552.9 603.5 1553.4 573.3 1553.9 598.1 1554.4 603.2 1554.9 595.8 1555.3 596.0 1555.8 610.7 1556.3 597.0 1556.8 593.7 1557.3 589.5 1557.7 602.8 1558.2 590.2 1558.7 603.0 1559.2 595.6 1559.7 609.4 1560.2 583.7 1560.6 595.3 1561.1 599.0 1561.6 599.9 1562.1 609.6 1562.6 599.8 1563.0 606.6 1563.5 620.8 1564.0 605.9 1564.5 580.5 1565.0 575.5 1565.4 603.7 1565.9 589.7 1566.4 598.7 1566.9 592.5 1567.4 612.3 1567.8 610.9 1568.3 579.8 1568.8 598.6 1569.3 591.0 1569.8 577.5 1570.2 603.7 1570.7 593.2 1571.2 601.0 1571.7 628.2 1572.2 612.9 1572.6 610.0 1573.1 589.8 1573.6 579.5 1574.1 612.0 1574.6 591.3 1575.0 596.0 1575.5 590.4 1576.0 596.8 1576.5 627.6 1577.0 591.3 1577.4 591.7 1577.9 598.2 1578.4 599.4 1578.9 579.6 1579.4 571.9 1579.9 587.9 1580.3 592.8 1580.8 585.1 1581.3 582.3 1581.8 583.1 1582.3 590.4 1582.7 594.0 1583.2 573.9 1583.7 588.3 1584.2 600.4 1584.7 594.0 1585.1 577.6 1585.6 591.0 1586.1 595.5 1586.6 606.0 1587.1 574.1 1587.5 604.9 1588.0 589.7 1588.5 598.5 1589.0 604.9 1589.5 584.3 1589.9 585.2 1590.4 594.4 1590.9 605.6 1591.4 588.7 1591.9 577.2 1592.3 586.8 1592.8 601.1 1593.3 611.4 1593.8 589.3 1594.3 591.8 1594.7 593.7 1595.2 594.3 1595.7 583.6 1596.2 590.3 1596.7 599.0 1597.1 597.6 1597.6 596.5 1598.1 582.9 1598.6 589.0 1599.1 586.9 1599.6 610.3 1600.0 615.6 1600.5 601.0 1601.0 617.6 1601.5 592.6 1602.0 592.7 1602.4 579.4 1602.9 599.7 1603.4 590.7 1603.9 598.0 1604.4 603.2 1604.8 593.6 1605.3 582.0 1605.8 596.3 1606.3 596.0 1606.8 597.4 1607.2 605.9 1607.7 594.3 1608.2 593.6 1608.7 620.0 1609.2 611.4 1609.6 596.1 1610.1 585.0 1610.6 591.5 1611.1 602.5 1611.6 608.6 1612.0 629.2 1612.5 594.4 1613.0 599.7 1613.5 593.1 1614.0 598.9 1614.4 592.8 1614.9 583.9 1615.4 611.4 1615.9 599.7 1616.4 615.0 1616.8 591.5 1617.3 601.7 1617.8 606.9 1618.3 573.7 1618.8 581.1 1619.3 608.3 1619.7 599.8 1620.2 574.5 1620.7 588.9 1621.2 584.9 1621.7 592.4 1622.1 619.0 1622.6 591.3 1623.1 625.4 1623.6 595.6 1624.1 589.3 1624.5 619.5 1625.0 611.5 1625.5 617.2 1626.0 624.6 1626.5 613.2 1626.9 615.3 1627.4 576.8 1627.9 588.6 1628.4 605.3 1628.9 602.2 1629.3 609.0 1629.8 593.4 1630.3 614.3 1630.8 626.2 1631.3 607.5 1631.7 610.9 1632.2 606.6 1632.7 612.2 1633.2 602.9 1633.7 593.5 1634.1 602.8 1634.6 601.6 1635.1 580.3 1635.6 603.4 1636.1 600.7 1636.5 603.1 1637.0 593.2 1637.5 606.7 1638.0 608.6 1638.5 591.2 1639.0 604.7 1639.4 610.8 1639.9 610.3 1640.4 588.5 1640.9 587.2 1641.4 600.9 1641.8 586.9 1642.3 633.3 1642.8 589.9 1643.3 590.1 1643.8 608.9 1644.2 594.3 1644.7 569.8 1645.2 598.5 1645.7 587.5 1646.2 593.5 1646.6 579.2 1647.1 588.5 1647.6 598.1 1648.1 599.2 1648.6 585.6 1649.0 590.8 1649.5 589.0 1650.0 601.9 1650.5 598.1 1651.0 583.7 1651.4 608.4 1651.9 590.9 1652.4 605.1 1652.9 588.1 1653.4 603.9 1653.8 598.5 1654.3 600.7 1654.8 606.6 1655.3 605.8 1655.8 602.2 1656.2 602.2 1656.7 583.5 1657.2 599.2 1657.7 571.5 1658.2 570.9 1658.7 596.1 1659.1 597.2 1659.6 619.7 1660.1 608.9 1660.6 614.7 1661.1 596.2 1661.5 606.1 1662.0 615.5 1662.5 607.2 1663.0 605.0 1663.5 601.8 1663.9 588.5 1664.4 588.9 1664.9 581.9 1665.4 605.9 1665.9 597.1 1666.3 591.9 1666.8 605.3 1667.3 593.2 1667.8 614.3 1668.3 625.6 1668.7 606.7 1669.2 591.8 1669.7 581.4 1670.2 627.1 1670.7 606.7 1671.1 585.6 1671.6 614.9 1672.1 579.2 1672.6 595.2 1673.1 597.8 1673.5 596.3 1674.0 586.1 1674.5 632.2 1675.0 595.8 1675.5 606.0 1675.9 601.5 1676.4 580.2 1676.9 593.9 1677.4 603.8 1677.9 613.2 1678.4 596.6 1678.8 605.9 1679.3 596.7 1679.8 608.8 1680.3 568.8 1680.8 608.9 1681.2 593.0 1681.7 593.6 1682.2 564.0 1682.7 587.2 1683.2 609.1 1683.6 631.3 1684.1 592.0 1684.6 592.5 1685.1 607.6 1685.6 604.9 1686.0 593.5 1686.5 599.0 1687.0 596.2 1687.5 609.3 1688.0 611.6 1688.4 624.2 1688.9 613.2 1689.4 609.9 1689.9 603.2 1690.4 613.4 1690.8 588.3 1691.3 629.3 1691.8 604.8 1692.3 619.6 1692.8 590.6 1693.2 614.5 1693.7 606.2 1694.2 598.4 1694.7 591.9 1695.2 589.0 1695.6 623.8 1696.1 616.0 1696.6 601.1 1697.1 601.8 1697.6 589.2 1698.1 574.0 1698.5 573.9 1699.0 588.5 1699.5 593.5 1700.0 579.2 1700.5 603.9 1700.9 599.1 1701.4 593.3 1701.9 567.1 1702.4 586.3 1702.9 587.9 1703.3 571.1 1703.8 558.6 1704.3 612.2 1704.8 595.4 1705.3 582.7 1705.7 609.4 1706.2 603.9 1706.7 596.3 1707.2 594.5 1707.7 602.9 1708.1 613.1 1708.6 595.9 1709.1 593.1 1709.6 604.7 1710.1 561.0 1710.5 599.9 1711.0 594.1 1711.5 599.8 1712.0 598.1 1712.5 605.3 1712.9 602.6 1713.4 602.4 1713.9 600.1 1714.4 608.0 1714.9 595.5 1715.3 615.2 1715.8 580.4 1716.3 605.2 1716.8 608.6 1717.3 586.1 1717.8 597.2 1718.2 620.3 1718.7 601.3 1719.2 591.5 1719.7 564.1 1720.2 607.7 1720.6 604.7 1721.1 611.4 1721.6 630.4 1722.1 603.5 1722.6 605.4 1723.0 594.7 1723.5 602.9 1724.0 603.4 1724.5 613.8 1725.0 611.2 1725.4 594.0 1725.9 597.9 1726.4 622.3 1726.9 591.7 1727.4 614.1 1727.8 625.7 1728.3 613.0 1728.8 607.8 1729.3 622.5 1729.8 609.3 1730.2 604.6 1730.7 602.1 1731.2 619.9 1731.7 614.0 1732.2 625.2 1732.6 600.6 1733.1 601.0 1733.6 599.5 1734.1 608.9 1734.6 596.2 1735.0 617.5 1735.5 609.9 1736.0 592.6 1736.5 566.7 1737.0 581.7 1737.5 624.5 1737.9 604.9 1738.4 607.7 1738.9 600.3 1739.4 611.1 1739.9 580.8 1740.3 579.8 1740.8 584.6 1741.3 607.0 1741.8 615.4 1742.3 612.4 1742.7 604.6 1743.2 589.5 1743.7 616.8 1744.2 602.7 1744.7 606.2 1745.1 605.5 1745.6 600.4 1746.1 597.1 1746.6 598.9 1747.1 589.8 1747.5 610.0 1748.0 604.5 1748.5 620.1 1749.0 583.1 1749.5 622.2 1749.9 606.0 1750.4 604.8 1750.9 596.4 1751.4 596.3 1751.9 587.5 1752.3 618.8 1752.8 604.3 1753.3 616.5 1753.8 618.0 1754.3 600.7 1754.7 604.1 1755.2 602.8 1755.7 620.7 1756.2 609.1 1756.7 609.6 1757.2 616.8 1757.6 606.5 1758.1 634.2 1758.6 595.4 1759.1 624.0 1759.6 626.0 1760.0 592.7 1760.5 619.0 1761.0 611.4 1761.5 619.1 1762.0 592.1 1762.4 611.0 1762.9 595.1 1763.4 603.6 1763.9 626.5 1764.4 606.2 1764.8 578.6 1765.3 589.8 1765.8 593.2 1766.3 621.4 1766.8 599.0 1767.2 587.8 1767.7 622.8 1768.2 611.5 1768.7 612.7 1769.2 597.9 1769.6 626.9 1770.1 606.7 1770.6 582.6 1771.1 593.6 1771.6 597.4 1772.0 606.4 1772.5 618.5 1773.0 599.0 1773.5 600.7 1774.0 637.3 1774.4 609.7 1774.9 601.7 1775.4 609.1 1775.9 592.4 1776.4 615.7 1776.9 621.4 1777.3 601.2 1777.8 621.9 1778.3 605.0 1778.8 612.6 1779.3 599.2 1779.7 598.5 1780.2 589.4 1780.7 611.8 1781.2 605.3 1781.7 605.7 1782.1 594.3 1782.6 593.8 1783.1 600.9 1783.6 615.2 1784.1 613.1 1784.5 600.3 1785.0 613.0 1785.5 632.1 1786.0 610.6 1786.5 635.6 1786.9 614.9 1787.4 626.6 1787.9 602.4 1788.4 624.6 1788.9 594.0 1789.3 612.6 1789.8 605.1 1790.3 583.4 1790.8 591.7 1791.3 624.2 1791.7 615.9 1792.2 626.4 1792.7 612.1 1793.2 571.8 1793.7 612.8 1794.1 602.2 1794.6 603.1 1795.1 603.8 1795.6 599.7 1796.1 597.2 1796.6 625.8 1797.0 615.5 1797.5 601.2 1798.0 604.2 1798.5 622.4 1799.0 614.7 1799.4 612.3 1799.9 593.8 1800.4 604.1 1800.9 595.0 1801.4 584.9 1801.8 621.4 1802.3 605.6 1802.8 604.5 1803.3 597.4 1803.8 619.7 1804.2 637.1 1804.7 617.5 1805.2 622.0"/>
</g>
<g stroke-width="10" stroke-linecap="round">
<line x1="784.6" y1="1380.2" x2="784.6" y2="1389.5" stroke="#00ffff"/>
<line x1="863.0" y1="1376.0" x2="863.0" y2="1389.5" stroke="#00ffff"/>
<line x1="914.8" y1="1308.6" x2="914.8" y2="1389.5" stroke="#00ffff"/>
<line x1="956.2" y1="1309.0" x2="956.2" y2="1389.5" stroke="#ff00ff"/>
<line x1="1243.8" y1="1379.8" x2="1243.8" y2="1389.5" stroke="#00ffff"/>
<line x1="1510.7" y1="1382.8" x2="1510.7" y2="1389.5" stroke="#00ffff"/>
<line x1="1702.6" y1="1385.0" x2="1702.6" y2="1389.5" stroke="#00ffff"/>
</g>
<g stroke="#000" stroke-width="5" stroke-linecap="round">
<line x1="363.7" y1="1366.6" x2="363.7" y2="1392.6"/>
<line x1="604.0" y1="1379.6" x2="604.0" y2="1392.6"/>
<line x1="844.2" y1="1366.6" x2="844.2" y2="1392.6"/>
<line x1="1084.5" y1="1379.6" x2="1084.5" y2="1392.6"/>
<line x1="1324.7" y1="1366.6" x2="1324.7" y2="1392.6"/>
<line x1="1565.0" y1="1379.6" x2="1565.0" y2="1392.6"/>
<line x1="1805.2" y1="1366.6" x2="1805.2" y2="1392.6"/>
</g>
<rect x="123.5" y="24.5" width="1681.7" height="1368.1" fill="none" stroke="#000" stroke-width="4.8" stroke-linejoin="round"/>

<!-- axis tick labels -->
<g class="s" font-size="68.5" letter-spacing="-1.5" text-anchor="middle">
<text x="363.5" y="1473">20</text>
<text x="843.6" y="1473">40</text>
<text x="1324.4" y="1473">60</text>
<text x="1805.2" y="1473">80</text>
</g>
<text class="t" font-size="68" x="956.4" y="1536" text-anchor="middle">Angle 2θ (deg.)</text>
<text class="t" font-size="69.5" text-anchor="middle" transform="translate(70.6,713) rotate(-90)">Intensity (a.u.)</text>

<!-- top-right legend -->
<text class="r" font-size="83" x="1431" y="106.9">Δ</text>
<text class="t" font-size="89" x="1508.8" y="107.7">Fe<tspan font-size="56" dy="24">2</tspan><tspan dy="-24">N</tspan></text>
<rect x="1436.8" y="187.7" width="40.4" height="49.2" fill="none" stroke="#000" stroke-width="1.5"/>
<text class="t" font-size="89" x="1508" y="237.3">Fe</text>

<!-- peak markers -->
<g class="r" font-size="56" text-anchor="middle">
<text x="778.9" y="411.7">Δ</text>
<text x="851.7" y="375.5">Δ</text>
<text x="913.1" y="241.4">Δ</text>
<text x="1240" y="484.4">Δ</text>
<text x="1496.6" y="523.7">Δ</text>
<text x="1704.6" y="542.8">Δ</text>
</g>
<g class="t" font-size="63.5" text-anchor="middle">
<text transform="translate(808.7,285) rotate(-90)">(110)</text>
<text transform="translate(882.5,235.3) rotate(-90)">(002)</text>
<text transform="translate(938.9,120) rotate(-90)">(-1-11)</text>
<text transform="translate(1266.1,323.5) rotate(-90)">(-1-12)</text>
<text transform="translate(1525.9,402.8) rotate(-90)">(300)</text>
<text transform="translate(1727.9,390.5) rotate(-90)">(-1-13)</text>
</g>
<rect x="942.6" y="592.7" width="27.4" height="34" fill="none" stroke="#000" stroke-width="1.3"/>

<!-- sample labels -->
<g class="t" font-size="89" text-anchor="middle">
<text x="1560" y="701.2">Fe-N-PPC</text>
<text x="1570.7" y="967.6">Fe-PPC</text>
<text x="1578" y="1145.7">N-PPC</text>
<text x="1584" y="1279">PPC</text>
</g>

<!-- bottom-left legend -->
<line x1="162.5" y1="1162.7" x2="263.5" y2="1162.7" stroke="#00ffff" stroke-width="9.5" stroke-linecap="round"/>
<line x1="164.5" y1="1278.2" x2="264.5" y2="1278.2" stroke="#ff80ff" stroke-width="9.5" stroke-linecap="round"/>
<text class="t" font-size="74" x="293.8" y="1192.6">Fe<tspan font-size="46" dy="21">2</tspan><tspan dy="-21">N (PDF#73-2102)</tspan></text>
<text class="t" font-size="74" x="293.8" y="1304.7">Fe (PDF#87-0721)</text>
</svg>
</body></html>
